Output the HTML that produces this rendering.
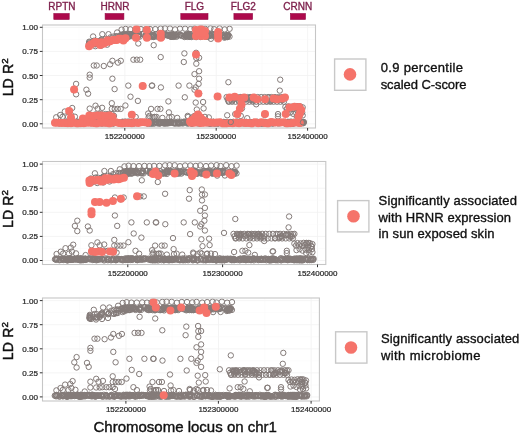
<!DOCTYPE html>
<html><head><meta charset="utf-8"><style>html,body{margin:0;padding:0;background:#fff;width:520px;height:433px;overflow:hidden}svg{display:block;filter:blur(0.3px)}.g{fill:none;stroke:#847b79;stroke-width:1px;r:2.7px}.s{fill:#f5736a;r:4px}</style></head>
<body><svg width="520" height="433" viewBox="0 0 520 433">
<text x="61.9" y="9.6" font-family="Liberation Sans, sans-serif" font-size="10" fill="#7d1f4b" stroke="#7d1f4b" stroke-width="0.35" text-anchor="middle">RPTN</text>
<rect x="53.8" y="13.5" width="15.4" height="6" fill="#ad0a4c" stroke="#940a46" stroke-width="0.6"/>
<text x="115" y="9.6" font-family="Liberation Sans, sans-serif" font-size="10" fill="#7d1f4b" stroke="#7d1f4b" stroke-width="0.35" text-anchor="middle">HRNR</text>
<rect x="105.1" y="13.5" width="18.8" height="6" fill="#ad0a4c" stroke="#940a46" stroke-width="0.6"/>
<text x="194.4" y="9.6" font-family="Liberation Sans, sans-serif" font-size="10" fill="#7d1f4b" stroke="#7d1f4b" stroke-width="0.35" text-anchor="middle">FLG</text>
<rect x="180.8" y="13.5" width="27.2" height="6" fill="#ad0a4c" stroke="#940a46" stroke-width="0.6"/>
<text x="243.3" y="9.6" font-family="Liberation Sans, sans-serif" font-size="10" fill="#7d1f4b" stroke="#7d1f4b" stroke-width="0.35" text-anchor="middle">FLG2</text>
<rect x="233.9" y="13.5" width="18.7" height="6" fill="#ad0a4c" stroke="#940a46" stroke-width="0.6"/>
<text x="297.7" y="9.6" font-family="Liberation Sans, sans-serif" font-size="10" fill="#7d1f4b" stroke="#7d1f4b" stroke-width="0.35" text-anchor="middle">CRNN</text>
<rect x="290.4" y="13.5" width="15.1" height="6" fill="#ad0a4c" stroke="#940a46" stroke-width="0.6"/>
<rect x="42.5" y="25" width="273.0" height="103.0" fill="#ffffff"/>
<line x1="79.1" y1="25" x2="79.1" y2="128" stroke="#f8f8f8" stroke-width="0.5"/>
<line x1="124.8" y1="25" x2="124.8" y2="128" stroke="#f1f1f1" stroke-width="0.8"/>
<line x1="170.5" y1="25" x2="170.5" y2="128" stroke="#f8f8f8" stroke-width="0.5"/>
<line x1="216.2" y1="25" x2="216.2" y2="128" stroke="#f1f1f1" stroke-width="0.8"/>
<line x1="261.9" y1="25" x2="261.9" y2="128" stroke="#f8f8f8" stroke-width="0.5"/>
<line x1="307.6" y1="25" x2="307.6" y2="128" stroke="#f1f1f1" stroke-width="0.8"/>
<line x1="42.5" y1="123.8" x2="315.5" y2="123.8" stroke="#f1f1f1" stroke-width="0.8"/>
<line x1="42.5" y1="111.7" x2="315.5" y2="111.7" stroke="#f8f8f8" stroke-width="0.5"/>
<line x1="42.5" y1="99.7" x2="315.5" y2="99.7" stroke="#f1f1f1" stroke-width="0.8"/>
<line x1="42.5" y1="87.6" x2="315.5" y2="87.6" stroke="#f8f8f8" stroke-width="0.5"/>
<line x1="42.5" y1="75.5" x2="315.5" y2="75.5" stroke="#f1f1f1" stroke-width="0.8"/>
<line x1="42.5" y1="63.5" x2="315.5" y2="63.5" stroke="#f8f8f8" stroke-width="0.5"/>
<line x1="42.5" y1="51.4" x2="315.5" y2="51.4" stroke="#f1f1f1" stroke-width="0.8"/>
<line x1="42.5" y1="39.4" x2="315.5" y2="39.4" stroke="#f8f8f8" stroke-width="0.5"/>
<line x1="42.5" y1="27.3" x2="315.5" y2="27.3" stroke="#f1f1f1" stroke-width="0.8"/>
<g id="pts0"></g>
<circle class="g" cx="110.7" cy="40.1" r="2.7"/>
<circle class="g" cx="116.7" cy="39.7" r="2.7"/>
<circle class="g" cx="114.8" cy="40.0" r="2.7"/>
<circle class="g" cx="89.9" cy="43.4" r="2.7"/>
<circle class="g" cx="121.9" cy="37.3" r="2.7"/>
<circle class="g" cx="120.4" cy="35.3" r="2.7"/>
<circle class="g" cx="105.3" cy="39.1" r="2.7"/>
<circle class="g" cx="107.9" cy="40.0" r="2.7"/>
<circle class="g" cx="89.3" cy="42.4" r="2.7"/>
<circle class="g" cx="98.7" cy="43.5" r="2.7"/>
<circle class="g" cx="115.7" cy="36.5" r="2.7"/>
<circle class="g" cx="116.8" cy="36.2" r="2.7"/>
<circle class="g" cx="110.5" cy="37.4" r="2.7"/>
<circle class="g" cx="88.9" cy="45.4" r="2.7"/>
<circle class="g" cx="96.2" cy="40.9" r="2.7"/>
<circle class="g" cx="123.3" cy="38.0" r="2.7"/>
<circle class="g" cx="99.0" cy="43.6" r="2.7"/>
<circle class="g" cx="107.8" cy="40.5" r="2.7"/>
<circle class="g" cx="96.0" cy="44.1" r="2.7"/>
<circle class="g" cx="113.1" cy="40.6" r="2.7"/>
<circle class="g" cx="120.2" cy="36.1" r="2.7"/>
<circle class="g" cx="101.5" cy="39.5" r="2.7"/>
<circle class="g" cx="94.0" cy="40.7" r="2.7"/>
<circle class="g" cx="99.4" cy="41.9" r="2.7"/>
<circle class="g" cx="89.0" cy="44.5" r="2.7"/>
<circle class="g" cx="100.7" cy="40.4" r="2.7"/>
<circle class="g" cx="117.5" cy="37.5" r="2.7"/>
<circle class="g" cx="99.9" cy="41.3" r="2.7"/>
<circle class="g" cx="113.6" cy="36.5" r="2.7"/>
<circle class="g" cx="123.0" cy="34.3" r="2.7"/>
<circle class="g" cx="115.1" cy="39.6" r="2.7"/>
<circle class="g" cx="89.5" cy="44.9" r="2.7"/>
<circle class="g" cx="101.7" cy="41.3" r="2.7"/>
<circle class="g" cx="89.2" cy="41.7" r="2.7"/>
<circle class="g" cx="95.2" cy="44.4" r="2.7"/>
<circle class="g" cx="95.7" cy="43.4" r="2.7"/>
<circle class="g" cx="121.4" cy="38.7" r="2.7"/>
<circle class="g" cx="100.9" cy="40.5" r="2.7"/>
<circle class="g" cx="107.2" cy="41.0" r="2.7"/>
<circle class="g" cx="92.6" cy="44.0" r="2.7"/>
<circle class="g" cx="207.8" cy="36.7" r="2.7"/>
<circle class="g" cx="125.9" cy="36.9" r="2.7"/>
<circle class="g" cx="131.8" cy="35.0" r="2.7"/>
<circle class="g" cx="187.7" cy="36.9" r="2.7"/>
<circle class="g" cx="158.5" cy="36.9" r="2.7"/>
<circle class="g" cx="180.6" cy="34.9" r="2.7"/>
<circle class="g" cx="156.0" cy="34.5" r="2.7"/>
<circle class="g" cx="130.4" cy="34.4" r="2.7"/>
<circle class="g" cx="196.1" cy="37.1" r="2.7"/>
<circle class="g" cx="139.3" cy="34.1" r="2.7"/>
<circle class="g" cx="228.1" cy="35.6" r="2.7"/>
<circle class="g" cx="165.6" cy="34.7" r="2.7"/>
<circle class="g" cx="185.9" cy="36.6" r="2.7"/>
<circle class="g" cx="171.0" cy="35.3" r="2.7"/>
<circle class="g" cx="127.9" cy="36.9" r="2.7"/>
<circle class="g" cx="125.5" cy="35.5" r="2.7"/>
<circle class="g" cx="212.2" cy="34.3" r="2.7"/>
<circle class="g" cx="200.7" cy="37.0" r="2.7"/>
<circle class="g" cx="189.8" cy="36.4" r="2.7"/>
<circle class="g" cx="133.4" cy="35.3" r="2.7"/>
<circle class="g" cx="138.0" cy="36.6" r="2.7"/>
<circle class="g" cx="153.7" cy="35.4" r="2.7"/>
<circle class="g" cx="229.5" cy="36.6" r="2.7"/>
<circle class="g" cx="227.0" cy="35.4" r="2.7"/>
<circle class="g" cx="174.5" cy="36.3" r="2.7"/>
<circle class="g" cx="173.5" cy="34.8" r="2.7"/>
<circle class="g" cx="165.4" cy="34.4" r="2.7"/>
<circle class="g" cx="162.5" cy="37.1" r="2.7"/>
<circle class="g" cx="225.3" cy="35.9" r="2.7"/>
<circle class="g" cx="175.7" cy="35.0" r="2.7"/>
<circle class="g" cx="131.5" cy="34.8" r="2.7"/>
<circle class="g" cx="206.1" cy="36.7" r="2.7"/>
<circle class="g" cx="160.8" cy="36.4" r="2.7"/>
<circle class="g" cx="205.4" cy="36.1" r="2.7"/>
<circle class="g" cx="193.4" cy="36.3" r="2.7"/>
<circle class="g" cx="161.1" cy="36.2" r="2.7"/>
<circle class="g" cx="152.2" cy="35.5" r="2.7"/>
<circle class="g" cx="204.8" cy="36.1" r="2.7"/>
<circle class="g" cx="153.6" cy="36.9" r="2.7"/>
<circle class="g" cx="191.9" cy="35.8" r="2.7"/>
<circle class="g" cx="123.2" cy="35.7" r="2.7"/>
<circle class="g" cx="148.9" cy="36.1" r="2.7"/>
<circle class="g" cx="171.8" cy="36.5" r="2.7"/>
<circle class="g" cx="191.6" cy="36.5" r="2.7"/>
<circle class="g" cx="159.4" cy="36.0" r="2.7"/>
<circle class="g" cx="201.4" cy="36.6" r="2.7"/>
<circle class="g" cx="159.6" cy="36.6" r="2.7"/>
<circle class="g" cx="215.6" cy="36.1" r="2.7"/>
<circle class="g" cx="227.0" cy="37.0" r="2.7"/>
<circle class="g" cx="177.7" cy="35.6" r="2.7"/>
<circle class="g" cx="139.8" cy="36.6" r="2.7"/>
<circle class="g" cx="222.8" cy="35.4" r="2.7"/>
<circle class="g" cx="196.4" cy="36.2" r="2.7"/>
<circle class="g" cx="200.6" cy="34.5" r="2.7"/>
<circle class="g" cx="205.9" cy="35.8" r="2.7"/>
<circle class="g" cx="193.6" cy="35.3" r="2.7"/>
<circle class="g" cx="189.1" cy="36.4" r="2.7"/>
<circle class="g" cx="190.5" cy="36.2" r="2.7"/>
<circle class="g" cx="124.9" cy="34.4" r="2.7"/>
<circle class="g" cx="169.4" cy="36.0" r="2.7"/>
<circle class="g" cx="145.5" cy="36.1" r="2.7"/>
<circle class="g" cx="189.8" cy="34.0" r="2.7"/>
<circle class="g" cx="172.7" cy="34.6" r="2.7"/>
<circle class="g" cx="127.8" cy="34.3" r="2.7"/>
<circle class="g" cx="156.1" cy="34.5" r="2.7"/>
<circle class="g" cx="142.8" cy="34.0" r="2.7"/>
<circle class="g" cx="172.0" cy="35.1" r="2.7"/>
<circle class="g" cx="187.8" cy="35.8" r="2.7"/>
<circle class="g" cx="147.5" cy="36.8" r="2.7"/>
<circle class="g" cx="122.0" cy="35.2" r="2.7"/>
<circle class="g" cx="151.9" cy="35.2" r="2.7"/>
<circle class="g" cx="134.3" cy="36.6" r="2.7"/>
<circle class="g" cx="162.2" cy="34.0" r="2.7"/>
<circle class="g" cx="188.0" cy="34.2" r="2.7"/>
<circle class="g" cx="180.6" cy="35.0" r="2.7"/>
<circle class="g" cx="184.5" cy="37.0" r="2.7"/>
<circle class="g" cx="210.0" cy="35.3" r="2.7"/>
<circle class="g" cx="209.5" cy="36.0" r="2.7"/>
<circle class="g" cx="161.7" cy="34.4" r="2.7"/>
<circle class="g" cx="186.1" cy="35.7" r="2.7"/>
<circle class="g" cx="225.0" cy="37.0" r="2.7"/>
<circle class="g" cx="187.5" cy="35.0" r="2.7"/>
<circle class="g" cx="218.1" cy="33.9" r="2.7"/>
<circle class="g" cx="133.6" cy="35.7" r="2.7"/>
<circle class="g" cx="188.2" cy="34.4" r="2.7"/>
<circle class="g" cx="189.7" cy="36.8" r="2.7"/>
<circle class="g" cx="162.4" cy="35.3" r="2.7"/>
<circle class="g" cx="146.3" cy="34.8" r="2.7"/>
<circle class="g" cx="226.6" cy="35.1" r="2.7"/>
<circle class="g" cx="225.4" cy="36.8" r="2.7"/>
<circle class="g" cx="186.1" cy="34.7" r="2.7"/>
<circle class="g" cx="227.5" cy="35.5" r="2.7"/>
<circle class="g" cx="166.7" cy="34.9" r="2.7"/>
<circle class="g" cx="227.9" cy="35.5" r="2.7"/>
<circle class="g" cx="152.8" cy="35.4" r="2.7"/>
<circle class="g" cx="135.1" cy="35.9" r="2.7"/>
<circle class="g" cx="169.7" cy="34.9" r="2.7"/>
<circle class="g" cx="206.1" cy="36.6" r="2.7"/>
<circle class="g" cx="123.4" cy="35.6" r="2.7"/>
<circle class="g" cx="151.4" cy="36.9" r="2.7"/>
<circle class="g" cx="206.1" cy="34.7" r="2.7"/>
<circle class="g" cx="150.8" cy="34.4" r="2.7"/>
<circle class="g" cx="228.4" cy="34.9" r="2.7"/>
<circle class="g" cx="187.4" cy="35.4" r="2.7"/>
<circle class="g" cx="191.4" cy="35.9" r="2.7"/>
<circle class="g" cx="202.0" cy="34.3" r="2.7"/>
<circle class="g" cx="203.8" cy="34.9" r="2.7"/>
<circle class="g" cx="179.4" cy="35.0" r="2.7"/>
<circle class="g" cx="153.9" cy="35.6" r="2.7"/>
<circle class="g" cx="171.9" cy="35.1" r="2.7"/>
<circle class="g" cx="202.1" cy="35.8" r="2.7"/>
<circle class="g" cx="125.9" cy="34.7" r="2.7"/>
<circle class="g" cx="171.0" cy="36.9" r="2.7"/>
<circle class="g" cx="217.5" cy="35.7" r="2.7"/>
<circle class="g" cx="123.5" cy="36.4" r="2.7"/>
<circle class="g" cx="168.0" cy="35.8" r="2.7"/>
<circle class="g" cx="198.2" cy="35.9" r="2.7"/>
<circle class="g" cx="173.8" cy="36.8" r="2.7"/>
<circle class="g" cx="163.4" cy="35.2" r="2.7"/>
<circle class="g" cx="213.6" cy="34.5" r="2.7"/>
<circle class="g" cx="153.8" cy="36.6" r="2.7"/>
<circle class="g" cx="129.0" cy="36.6" r="2.7"/>
<circle class="g" cx="196.7" cy="35.3" r="2.7"/>
<circle class="g" cx="152.8" cy="36.4" r="2.7"/>
<circle class="g" cx="220.0" cy="34.4" r="2.7"/>
<circle class="g" cx="173.4" cy="35.7" r="2.7"/>
<circle class="g" cx="175.5" cy="35.0" r="2.7"/>
<circle class="g" cx="138.5" cy="35.8" r="2.7"/>
<circle class="g" cx="209.3" cy="34.1" r="2.7"/>
<circle class="g" cx="146.7" cy="36.5" r="2.7"/>
<circle class="g" cx="207.2" cy="36.0" r="2.7"/>
<circle class="g" cx="124.7" cy="36.2" r="2.7"/>
<circle class="g" cx="227.3" cy="37.1" r="2.7"/>
<circle class="g" cx="197.4" cy="34.1" r="2.7"/>
<circle class="g" cx="212.6" cy="34.6" r="2.7"/>
<circle class="g" cx="191.4" cy="37.0" r="2.7"/>
<circle class="g" cx="198.6" cy="34.3" r="2.7"/>
<circle class="g" cx="153.4" cy="36.9" r="2.7"/>
<circle class="g" cx="138.1" cy="35.9" r="2.7"/>
<circle class="g" cx="166.5" cy="34.4" r="2.7"/>
<circle class="g" cx="188.9" cy="34.1" r="2.7"/>
<circle class="g" cx="133.6" cy="35.1" r="2.7"/>
<circle class="g" cx="129.7" cy="34.1" r="2.7"/>
<circle class="g" cx="183.9" cy="36.3" r="2.7"/>
<circle class="g" cx="216.5" cy="34.3" r="2.7"/>
<circle class="g" cx="168.4" cy="34.9" r="2.7"/>
<circle class="g" cx="186.5" cy="35.5" r="2.7"/>
<circle class="g" cx="223.0" cy="35.1" r="2.7"/>
<circle class="g" cx="127.9" cy="36.1" r="2.7"/>
<circle class="g" cx="138.2" cy="35.9" r="2.7"/>
<circle class="g" cx="176.4" cy="36.8" r="2.7"/>
<circle class="g" cx="181.7" cy="35.9" r="2.7"/>
<circle class="g" cx="150.3" cy="35.7" r="2.7"/>
<circle class="g" cx="149.3" cy="36.3" r="2.7"/>
<circle class="g" cx="177.6" cy="34.3" r="2.7"/>
<circle class="g" cx="147.2" cy="35.1" r="2.7"/>
<circle class="g" cx="201.2" cy="34.5" r="2.7"/>
<circle class="g" cx="198.7" cy="36.0" r="2.7"/>
<circle class="g" cx="131.1" cy="36.1" r="2.7"/>
<circle class="g" cx="131.8" cy="34.3" r="2.7"/>
<circle class="g" cx="185.9" cy="34.7" r="2.7"/>
<circle class="g" cx="216.3" cy="35.5" r="2.7"/>
<circle class="g" cx="156.7" cy="36.5" r="2.7"/>
<circle class="g" cx="125.1" cy="36.2" r="2.7"/>
<circle class="g" cx="127.7" cy="34.4" r="2.7"/>
<circle class="g" cx="224.4" cy="36.1" r="2.7"/>
<circle class="g" cx="146.0" cy="34.3" r="2.7"/>
<circle class="g" cx="226.6" cy="36.0" r="2.7"/>
<circle class="g" cx="210.3" cy="34.4" r="2.7"/>
<circle class="g" cx="189.2" cy="35.0" r="2.7"/>
<circle class="g" cx="147.2" cy="35.0" r="2.7"/>
<circle class="g" cx="188.0" cy="35.0" r="2.7"/>
<circle class="g" cx="163.5" cy="34.4" r="2.7"/>
<circle class="g" cx="211.4" cy="36.0" r="2.7"/>
<circle class="g" cx="208.5" cy="35.3" r="2.7"/>
<circle class="g" cx="213.6" cy="35.6" r="2.7"/>
<circle class="g" cx="185.7" cy="35.8" r="2.7"/>
<circle class="g" cx="201.6" cy="35.2" r="2.7"/>
<circle class="g" cx="132.4" cy="34.0" r="2.7"/>
<circle class="g" cx="143.7" cy="34.0" r="2.7"/>
<circle class="g" cx="217.7" cy="35.5" r="2.7"/>
<circle class="g" cx="203.8" cy="33.9" r="2.7"/>
<circle class="g" cx="172.5" cy="36.8" r="2.7"/>
<circle class="g" cx="188.6" cy="35.3" r="2.7"/>
<circle class="g" cx="172.1" cy="34.2" r="2.7"/>
<circle class="g" cx="138.6" cy="34.4" r="2.7"/>
<circle class="g" cx="162.3" cy="35.2" r="2.7"/>
<circle class="g" cx="216.7" cy="34.4" r="2.7"/>
<circle class="g" cx="149.3" cy="34.8" r="2.7"/>
<circle class="g" cx="139.3" cy="34.8" r="2.7"/>
<circle class="g" cx="93.1" cy="36.5" r="2.7"/>
<circle class="g" cx="102.3" cy="34.2" r="2.7"/>
<circle class="g" cx="108.5" cy="34.2" r="2.7"/>
<circle class="g" cx="117.1" cy="32.5" r="2.7"/>
<circle class="g" cx="121.6" cy="29.6" r="2.7"/>
<circle class="g" cx="125.6" cy="28.9" r="2.7"/>
<circle class="g" cx="130.3" cy="29.3" r="2.7"/>
<circle class="g" cx="135.6" cy="29.3" r="2.7"/>
<circle class="g" cx="140.9" cy="29.1" r="2.7"/>
<circle class="g" cx="145.6" cy="29.3" r="2.7"/>
<circle class="g" cx="150.1" cy="29.1" r="2.7"/>
<circle class="g" cx="155.3" cy="29.1" r="2.7"/>
<circle class="g" cx="160.7" cy="28.6" r="2.7"/>
<circle class="g" cx="165.0" cy="28.4" r="2.7"/>
<circle class="g" cx="170.0" cy="28.5" r="2.7"/>
<circle class="g" cx="175.1" cy="29.4" r="2.7"/>
<circle class="g" cx="180.0" cy="28.7" r="2.7"/>
<circle class="g" cx="185.1" cy="28.7" r="2.7"/>
<circle class="g" cx="190.4" cy="29.1" r="2.7"/>
<circle class="g" cx="194.6" cy="28.6" r="2.7"/>
<circle class="g" cx="200.2" cy="29.3" r="2.7"/>
<circle class="g" cx="205.1" cy="28.8" r="2.7"/>
<circle class="g" cx="210.4" cy="28.4" r="2.7"/>
<circle class="g" cx="214.2" cy="29.2" r="2.7"/>
<circle class="g" cx="219.6" cy="28.4" r="2.7"/>
<circle class="g" cx="224.7" cy="29.4" r="2.7"/>
<circle class="g" cx="229.6" cy="28.8" r="2.7"/>
<circle class="g" cx="88.9" cy="43.7" r="2.7"/>
<circle class="g" cx="90.3" cy="45.7" r="2.7"/>
<circle class="g" cx="95.3" cy="46.2" r="2.7"/>
<circle class="g" cx="101.2" cy="45.7" r="2.7"/>
<circle class="g" cx="107.1" cy="44.7" r="2.7"/>
<circle class="g" cx="138.3" cy="43.5" r="2.7"/>
<circle class="g" cx="153.7" cy="45.2" r="2.7"/>
<circle class="g" cx="210.9" cy="38.8" r="2.7"/>
<circle class="g" cx="218.3" cy="38.7" r="2.7"/>
<circle class="g" cx="224.5" cy="37.7" r="2.7"/>
<circle class="g" cx="93.8" cy="65.5" r="2.7"/>
<circle class="g" cx="96.7" cy="65.5" r="2.7"/>
<circle class="g" cx="89.7" cy="74.7" r="2.7"/>
<circle class="g" cx="89.7" cy="77.6" r="2.7"/>
<circle class="g" cx="76.1" cy="83.9" r="2.7"/>
<circle class="g" cx="73.8" cy="89.1" r="2.7"/>
<circle class="g" cx="76.1" cy="94.3" r="2.7"/>
<circle class="g" cx="86.4" cy="89.7" r="2.7"/>
<circle class="g" cx="88.1" cy="93.7" r="2.7"/>
<circle class="g" cx="103.8" cy="66.0" r="2.7"/>
<circle class="g" cx="110.1" cy="64.3" r="2.7"/>
<circle class="g" cx="112.4" cy="60.8" r="2.7"/>
<circle class="g" cx="118.0" cy="62.6" r="2.7"/>
<circle class="g" cx="120.8" cy="60.8" r="2.7"/>
<circle class="g" cx="133.4" cy="59.7" r="2.7"/>
<circle class="g" cx="136.8" cy="59.7" r="2.7"/>
<circle class="g" cx="140.2" cy="59.7" r="2.7"/>
<circle class="g" cx="112.4" cy="78.7" r="2.7"/>
<circle class="g" cx="114.6" cy="89.1" r="2.7"/>
<circle class="g" cx="128.3" cy="85.6" r="2.7"/>
<circle class="g" cx="143.1" cy="85.6" r="2.7"/>
<circle class="g" cx="152.2" cy="85.6" r="2.7"/>
<circle class="g" cx="151.8" cy="85.6" r="2.7"/>
<circle class="g" cx="130.5" cy="96.7" r="2.7"/>
<circle class="g" cx="137.9" cy="100.9" r="2.7"/>
<circle class="g" cx="160.7" cy="57.1" r="2.7"/>
<circle class="g" cx="183.8" cy="62.0" r="2.7"/>
<circle class="g" cx="184.4" cy="53.4" r="2.7"/>
<circle class="g" cx="196.1" cy="52.8" r="2.7"/>
<circle class="g" cx="196.3" cy="58.0" r="2.7"/>
<circle class="g" cx="199.1" cy="57.8" r="2.7"/>
<circle class="g" cx="196.3" cy="63.7" r="2.7"/>
<circle class="g" cx="199.1" cy="71.2" r="2.7"/>
<circle class="g" cx="194.5" cy="74.1" r="2.7"/>
<circle class="g" cx="199.1" cy="78.7" r="2.7"/>
<circle class="g" cx="198.6" cy="83.9" r="2.7"/>
<circle class="g" cx="195.7" cy="87.4" r="2.7"/>
<circle class="g" cx="194.5" cy="89.7" r="2.7"/>
<circle class="g" cx="199.1" cy="93.7" r="2.7"/>
<circle class="g" cx="160.9" cy="87.4" r="2.7"/>
<circle class="g" cx="178.6" cy="85.6" r="2.7"/>
<circle class="g" cx="189.4" cy="85.6" r="2.7"/>
<circle class="g" cx="184.8" cy="97.3" r="2.7"/>
<circle class="g" cx="228.4" cy="82.2" r="2.7"/>
<circle class="g" cx="217.5" cy="96.1" r="2.7"/>
<circle class="g" cx="280.2" cy="79.7" r="2.7"/>
<circle class="g" cx="279.8" cy="90.6" r="2.7"/>
<circle class="g" cx="168.4" cy="101.4" r="2.7"/>
<circle class="g" cx="195.7" cy="102.6" r="2.7"/>
<circle class="g" cx="203.1" cy="102.0" r="2.7"/>
<circle class="g" cx="203.6" cy="108.4" r="2.7"/>
<circle class="g" cx="196.8" cy="109.5" r="2.7"/>
<circle class="g" cx="72.2" cy="108.0" r="2.7"/>
<circle class="g" cx="69.9" cy="110.9" r="2.7"/>
<circle class="g" cx="64.8" cy="111.5" r="2.7"/>
<circle class="g" cx="60.2" cy="115.0" r="2.7"/>
<circle class="g" cx="56.2" cy="117.3" r="2.7"/>
<circle class="g" cx="62.5" cy="116.9" r="2.7"/>
<circle class="g" cx="68.1" cy="116.9" r="2.7"/>
<circle class="g" cx="74.9" cy="116.7" r="2.7"/>
<circle class="g" cx="71.0" cy="114.9" r="2.7"/>
<circle class="g" cx="89.7" cy="108.6" r="2.7"/>
<circle class="g" cx="95.5" cy="105.7" r="2.7"/>
<circle class="g" cx="97.7" cy="108.6" r="2.7"/>
<circle class="g" cx="89.7" cy="114.4" r="2.7"/>
<circle class="g" cx="95.5" cy="114.4" r="2.7"/>
<circle class="g" cx="98.9" cy="114.4" r="2.7"/>
<circle class="g" cx="84.1" cy="118.4" r="2.7"/>
<circle class="g" cx="111.8" cy="103.2" r="2.7"/>
<circle class="g" cx="125.4" cy="105.5" r="2.7"/>
<circle class="g" cx="102.1" cy="107.8" r="2.7"/>
<circle class="g" cx="111.8" cy="108.9" r="2.7"/>
<circle class="g" cx="114.7" cy="108.9" r="2.7"/>
<circle class="g" cx="117.7" cy="108.9" r="2.7"/>
<circle class="g" cx="120.7" cy="108.9" r="2.7"/>
<circle class="g" cx="105.4" cy="114.1" r="2.7"/>
<circle class="g" cx="108.3" cy="114.1" r="2.7"/>
<circle class="g" cx="111.8" cy="114.1" r="2.7"/>
<circle class="g" cx="101.5" cy="114.1" r="2.7"/>
<circle class="g" cx="114.0" cy="115.9" r="2.7"/>
<circle class="g" cx="132.2" cy="114.1" r="2.7"/>
<circle class="g" cx="135.7" cy="117.0" r="2.7"/>
<circle class="g" cx="151.1" cy="108.9" r="2.7"/>
<circle class="g" cx="157.5" cy="108.9" r="2.7"/>
<circle class="g" cx="160.4" cy="108.9" r="2.7"/>
<circle class="g" cx="148.2" cy="113.5" r="2.7"/>
<circle class="g" cx="154.4" cy="117.0" r="2.7"/>
<circle class="g" cx="149.3" cy="115.9" r="2.7"/>
<circle class="g" cx="168.9" cy="112.4" r="2.7"/>
<circle class="g" cx="171.8" cy="117.0" r="2.7"/>
<circle class="g" cx="154.7" cy="117.0" r="2.7"/>
<circle class="g" cx="187.7" cy="115.9" r="2.7"/>
<circle class="g" cx="194.5" cy="115.9" r="2.7"/>
<circle class="g" cx="201.3" cy="116.9" r="2.7"/>
<circle class="g" cx="148.6" cy="117.4" r="2.7"/>
<circle class="g" cx="152.6" cy="117.4" r="2.7"/>
<circle class="g" cx="156.5" cy="116.9" r="2.7"/>
<circle class="g" cx="162.4" cy="117.9" r="2.7"/>
<circle class="g" cx="169.3" cy="117.4" r="2.7"/>
<circle class="g" cx="177.2" cy="117.9" r="2.7"/>
<circle class="g" cx="188.1" cy="116.9" r="2.7"/>
<circle class="g" cx="192.1" cy="117.4" r="2.7"/>
<circle class="g" cx="196.0" cy="116.9" r="2.7"/>
<circle class="g" cx="200.9" cy="117.4" r="2.7"/>
<circle class="g" cx="204.9" cy="116.9" r="2.7"/>
<circle class="g" cx="208.8" cy="117.4" r="2.7"/>
<circle class="g" cx="242.0" cy="108.4" r="2.7"/>
<circle class="g" cx="227.2" cy="115.3" r="2.7"/>
<circle class="g" cx="235.2" cy="114.1" r="2.7"/>
<circle class="g" cx="238.1" cy="114.1" r="2.7"/>
<circle class="g" cx="240.8" cy="115.9" r="2.7"/>
<circle class="g" cx="247.2" cy="118.2" r="2.7"/>
<circle class="g" cx="256.2" cy="104.3" r="2.7"/>
<circle class="g" cx="264.8" cy="114.7" r="2.7"/>
<circle class="g" cx="264.3" cy="114.7" r="2.7"/>
<circle class="g" cx="278.0" cy="114.1" r="2.7"/>
<circle class="g" cx="278.0" cy="116.4" r="2.7"/>
<circle class="g" cx="226.6" cy="97.1" r="2.7"/>
<circle class="g" cx="230.1" cy="97.1" r="2.7"/>
<circle class="g" cx="233.5" cy="97.1" r="2.7"/>
<circle class="g" cx="237.0" cy="97.1" r="2.7"/>
<circle class="g" cx="240.4" cy="97.1" r="2.7"/>
<circle class="g" cx="243.9" cy="97.1" r="2.7"/>
<circle class="g" cx="247.4" cy="97.1" r="2.7"/>
<circle class="g" cx="250.8" cy="97.1" r="2.7"/>
<circle class="g" cx="254.3" cy="97.1" r="2.7"/>
<circle class="g" cx="257.7" cy="97.1" r="2.7"/>
<circle class="g" cx="261.2" cy="97.1" r="2.7"/>
<circle class="g" cx="264.6" cy="97.1" r="2.7"/>
<circle class="g" cx="268.1" cy="97.1" r="2.7"/>
<circle class="g" cx="271.6" cy="97.1" r="2.7"/>
<circle class="g" cx="275.0" cy="97.1" r="2.7"/>
<circle class="g" cx="278.5" cy="97.1" r="2.7"/>
<circle class="g" cx="281.9" cy="97.1" r="2.7"/>
<circle class="g" cx="285.4" cy="97.1" r="2.7"/>
<circle class="g" cx="228.6" cy="101.7" r="2.7"/>
<circle class="g" cx="232.1" cy="101.7" r="2.7"/>
<circle class="g" cx="235.5" cy="101.7" r="2.7"/>
<circle class="g" cx="239.0" cy="101.7" r="2.7"/>
<circle class="g" cx="242.4" cy="101.7" r="2.7"/>
<circle class="g" cx="245.9" cy="101.7" r="2.7"/>
<circle class="g" cx="249.3" cy="101.7" r="2.7"/>
<circle class="g" cx="252.8" cy="101.7" r="2.7"/>
<circle class="g" cx="256.2" cy="101.7" r="2.7"/>
<circle class="g" cx="259.7" cy="101.7" r="2.7"/>
<circle class="g" cx="263.2" cy="101.7" r="2.7"/>
<circle class="g" cx="266.6" cy="101.7" r="2.7"/>
<circle class="g" cx="270.1" cy="101.7" r="2.7"/>
<circle class="g" cx="273.5" cy="101.7" r="2.7"/>
<circle class="g" cx="277.0" cy="101.7" r="2.7"/>
<circle class="g" cx="280.4" cy="101.7" r="2.7"/>
<circle class="g" cx="283.9" cy="101.7" r="2.7"/>
<circle class="g" cx="232.4" cy="97.5" r="2.7"/>
<circle class="g" cx="281.7" cy="99.3" r="2.7"/>
<circle class="g" cx="283.9" cy="97.4" r="2.7"/>
<circle class="g" cx="241.5" cy="97.4" r="2.7"/>
<circle class="g" cx="250.9" cy="97.4" r="2.7"/>
<circle class="g" cx="242.3" cy="98.9" r="2.7"/>
<circle class="g" cx="245.4" cy="97.4" r="2.7"/>
<circle class="g" cx="228.9" cy="101.4" r="2.7"/>
<circle class="g" cx="237.6" cy="99.4" r="2.7"/>
<circle class="g" cx="251.3" cy="99.5" r="2.7"/>
<circle class="g" cx="231.8" cy="98.5" r="2.7"/>
<circle class="g" cx="233.2" cy="99.5" r="2.7"/>
<circle class="g" cx="283.0" cy="99.8" r="2.7"/>
<circle class="g" cx="279.1" cy="98.1" r="2.7"/>
<circle class="g" cx="227.7" cy="99.5" r="2.7"/>
<circle class="g" cx="256.4" cy="99.7" r="2.7"/>
<circle class="g" cx="249.7" cy="99.9" r="2.7"/>
<circle class="g" cx="271.0" cy="101.2" r="2.7"/>
<circle class="g" cx="245.5" cy="99.1" r="2.7"/>
<circle class="g" cx="277.2" cy="98.1" r="2.7"/>
<circle class="g" cx="233.7" cy="98.5" r="2.7"/>
<circle class="g" cx="232.0" cy="100.6" r="2.7"/>
<circle class="g" cx="276.8" cy="98.5" r="2.7"/>
<circle class="g" cx="234.6" cy="97.5" r="2.7"/>
<circle class="g" cx="241.6" cy="97.5" r="2.7"/>
<circle class="g" cx="252.9" cy="99.7" r="2.7"/>
<circle class="g" cx="241.6" cy="97.4" r="2.7"/>
<circle class="g" cx="269.5" cy="97.4" r="2.7"/>
<circle class="g" cx="238.9" cy="98.4" r="2.7"/>
<circle class="g" cx="249.5" cy="97.6" r="2.7"/>
<circle class="g" cx="252.4" cy="98.5" r="2.7"/>
<circle class="g" cx="272.7" cy="99.6" r="2.7"/>
<circle class="g" cx="281.5" cy="100.0" r="2.7"/>
<circle class="g" cx="273.1" cy="99.7" r="2.7"/>
<circle class="g" cx="253.7" cy="100.7" r="2.7"/>
<circle class="g" cx="266.8" cy="101.4" r="2.7"/>
<circle class="g" cx="271.2" cy="100.2" r="2.7"/>
<circle class="g" cx="243.0" cy="100.7" r="2.7"/>
<circle class="g" cx="250.0" cy="97.7" r="2.7"/>
<circle class="g" cx="230.7" cy="97.9" r="2.7"/>
<circle class="g" cx="285.4" cy="106.9" r="2.7"/>
<circle class="g" cx="288.3" cy="106.4" r="2.7"/>
<circle class="g" cx="291.3" cy="106.7" r="2.7"/>
<circle class="g" cx="294.3" cy="106.2" r="2.7"/>
<circle class="g" cx="297.2" cy="106.7" r="2.7"/>
<circle class="g" cx="300.2" cy="106.4" r="2.7"/>
<circle class="g" cx="302.7" cy="107.4" r="2.7"/>
<circle class="g" cx="286.9" cy="108.9" r="2.7"/>
<circle class="g" cx="289.8" cy="108.7" r="2.7"/>
<circle class="g" cx="292.8" cy="109.1" r="2.7"/>
<circle class="g" cx="295.7" cy="108.4" r="2.7"/>
<circle class="g" cx="298.7" cy="108.9" r="2.7"/>
<circle class="g" cx="301.7" cy="109.4" r="2.7"/>
<circle class="g" cx="287.4" cy="113.4" r="2.7"/>
<circle class="g" cx="290.3" cy="112.4" r="2.7"/>
<circle class="g" cx="293.3" cy="113.9" r="2.7"/>
<circle class="g" cx="296.2" cy="112.9" r="2.7"/>
<circle class="g" cx="299.2" cy="113.4" r="2.7"/>
<circle class="g" cx="302.2" cy="112.4" r="2.7"/>
<circle class="g" cx="299.7" cy="115.9" r="2.7"/>
<circle class="g" cx="302.7" cy="115.4" r="2.7"/>
<circle class="g" cx="296.7" cy="116.4" r="2.7"/>
<circle class="g" cx="298.6" cy="110.6" r="2.7"/>
<circle class="g" cx="298.7" cy="106.3" r="2.7"/>
<circle class="g" cx="302.0" cy="109.8" r="2.7"/>
<circle class="g" cx="296.9" cy="106.2" r="2.7"/>
<circle class="g" cx="86.4" cy="122.4" r="2.7"/>
<circle class="g" cx="269.5" cy="123.6" r="2.7"/>
<circle class="g" cx="207.3" cy="122.2" r="2.7"/>
<circle class="g" cx="161.4" cy="122.4" r="2.7"/>
<circle class="g" cx="136.7" cy="121.7" r="2.7"/>
<circle class="g" cx="200.4" cy="123.4" r="2.7"/>
<circle class="g" cx="236.1" cy="121.9" r="2.7"/>
<circle class="g" cx="186.8" cy="122.0" r="2.7"/>
<circle class="g" cx="231.8" cy="122.6" r="2.7"/>
<circle class="g" cx="289.2" cy="123.3" r="2.7"/>
<circle class="g" cx="83.4" cy="122.3" r="2.7"/>
<circle class="g" cx="283.3" cy="122.6" r="2.7"/>
<circle class="g" cx="162.7" cy="122.6" r="2.7"/>
<circle class="g" cx="246.3" cy="123.6" r="2.7"/>
<circle class="g" cx="187.4" cy="123.6" r="2.7"/>
<circle class="g" cx="203.3" cy="121.9" r="2.7"/>
<circle class="g" cx="258.0" cy="122.5" r="2.7"/>
<circle class="g" cx="66.9" cy="123.7" r="2.7"/>
<circle class="g" cx="62.0" cy="122.9" r="2.7"/>
<circle class="g" cx="174.7" cy="123.5" r="2.7"/>
<circle class="g" cx="152.3" cy="122.1" r="2.7"/>
<circle class="g" cx="123.3" cy="122.1" r="2.7"/>
<circle class="g" cx="194.9" cy="122.4" r="2.7"/>
<circle class="g" cx="242.2" cy="122.2" r="2.7"/>
<circle class="g" cx="142.0" cy="122.2" r="2.7"/>
<circle class="g" cx="300.2" cy="123.4" r="2.7"/>
<circle class="g" cx="267.0" cy="122.9" r="2.7"/>
<circle class="g" cx="154.3" cy="122.0" r="2.7"/>
<circle class="g" cx="262.4" cy="122.7" r="2.7"/>
<circle class="g" cx="63.3" cy="122.0" r="2.7"/>
<circle class="g" cx="78.6" cy="123.1" r="2.7"/>
<circle class="g" cx="279.6" cy="122.1" r="2.7"/>
<circle class="g" cx="253.7" cy="122.3" r="2.7"/>
<circle class="g" cx="225.1" cy="123.4" r="2.7"/>
<circle class="g" cx="210.1" cy="123.3" r="2.7"/>
<circle class="g" cx="148.2" cy="121.7" r="2.7"/>
<circle class="g" cx="182.2" cy="122.9" r="2.7"/>
<circle class="g" cx="100.1" cy="122.5" r="2.7"/>
<circle class="g" cx="133.4" cy="121.7" r="2.7"/>
<circle class="g" cx="132.1" cy="122.5" r="2.7"/>
<circle class="g" cx="173.2" cy="123.1" r="2.7"/>
<circle class="g" cx="153.9" cy="123.7" r="2.7"/>
<circle class="g" cx="258.4" cy="123.5" r="2.7"/>
<circle class="g" cx="227.6" cy="123.0" r="2.7"/>
<circle class="g" cx="188.4" cy="123.3" r="2.7"/>
<circle class="g" cx="144.8" cy="122.9" r="2.7"/>
<circle class="g" cx="224.2" cy="122.7" r="2.7"/>
<circle class="g" cx="125.1" cy="121.9" r="2.7"/>
<circle class="g" cx="75.7" cy="122.4" r="2.7"/>
<circle class="g" cx="199.4" cy="123.2" r="2.7"/>
<circle class="g" cx="233.0" cy="122.3" r="2.7"/>
<circle class="g" cx="286.9" cy="122.2" r="2.7"/>
<circle class="g" cx="233.4" cy="121.8" r="2.7"/>
<circle class="g" cx="242.8" cy="123.0" r="2.7"/>
<circle class="g" cx="293.8" cy="123.5" r="2.7"/>
<circle class="g" cx="226.3" cy="123.4" r="2.7"/>
<circle class="g" cx="239.1" cy="122.9" r="2.7"/>
<circle class="g" cx="106.2" cy="122.7" r="2.7"/>
<circle class="g" cx="278.6" cy="122.2" r="2.7"/>
<circle class="g" cx="298.3" cy="122.8" r="2.7"/>
<circle class="g" cx="152.5" cy="121.7" r="2.7"/>
<circle class="g" cx="151.7" cy="122.1" r="2.7"/>
<circle class="g" cx="217.6" cy="123.5" r="2.7"/>
<circle class="g" cx="282.1" cy="122.9" r="2.7"/>
<circle class="g" cx="150.8" cy="121.9" r="2.7"/>
<circle class="g" cx="226.6" cy="122.8" r="2.7"/>
<circle class="g" cx="233.2" cy="122.4" r="2.7"/>
<circle class="g" cx="276.2" cy="122.1" r="2.7"/>
<circle class="g" cx="130.4" cy="122.2" r="2.7"/>
<circle class="g" cx="209.9" cy="123.5" r="2.7"/>
<circle class="g" cx="95.8" cy="123.0" r="2.7"/>
<circle class="g" cx="246.1" cy="122.1" r="2.7"/>
<circle class="g" cx="69.5" cy="122.8" r="2.7"/>
<circle class="g" cx="262.1" cy="123.5" r="2.7"/>
<circle class="g" cx="236.4" cy="122.5" r="2.7"/>
<circle class="g" cx="160.5" cy="122.8" r="2.7"/>
<circle class="g" cx="280.7" cy="122.3" r="2.7"/>
<circle class="g" cx="124.2" cy="122.9" r="2.7"/>
<circle class="g" cx="296.3" cy="122.1" r="2.7"/>
<circle class="g" cx="61.4" cy="121.9" r="2.7"/>
<circle class="g" cx="194.9" cy="122.9" r="2.7"/>
<circle class="g" cx="99.9" cy="122.1" r="2.7"/>
<circle class="g" cx="202.9" cy="123.0" r="2.7"/>
<circle class="g" cx="226.9" cy="123.2" r="2.7"/>
<circle class="g" cx="69.2" cy="122.7" r="2.7"/>
<circle class="g" cx="263.2" cy="123.6" r="2.7"/>
<circle class="g" cx="133.7" cy="123.4" r="2.7"/>
<circle class="g" cx="215.6" cy="123.6" r="2.7"/>
<circle class="g" cx="111.3" cy="123.1" r="2.7"/>
<circle class="g" cx="264.7" cy="122.7" r="2.7"/>
<circle class="g" cx="79.1" cy="122.1" r="2.7"/>
<circle class="g" cx="93.1" cy="121.9" r="2.7"/>
<circle class="g" cx="91.9" cy="122.9" r="2.7"/>
<circle class="g" cx="80.1" cy="123.2" r="2.7"/>
<circle class="g" cx="238.5" cy="123.3" r="2.7"/>
<circle class="g" cx="255.4" cy="123.1" r="2.7"/>
<circle class="g" cx="285.6" cy="123.6" r="2.7"/>
<circle class="g" cx="210.6" cy="123.6" r="2.7"/>
<circle class="g" cx="79.7" cy="121.9" r="2.7"/>
<circle class="g" cx="70.0" cy="122.1" r="2.7"/>
<circle class="g" cx="147.7" cy="122.6" r="2.7"/>
<circle class="g" cx="224.5" cy="123.2" r="2.7"/>
<circle class="g" cx="74.8" cy="122.5" r="2.7"/>
<circle class="g" cx="190.1" cy="122.4" r="2.7"/>
<circle class="g" cx="83.3" cy="122.9" r="2.7"/>
<circle class="g" cx="147.7" cy="123.1" r="2.7"/>
<circle class="g" cx="178.1" cy="123.6" r="2.7"/>
<circle class="g" cx="290.8" cy="121.8" r="2.7"/>
<circle class="g" cx="244.4" cy="123.1" r="2.7"/>
<circle class="g" cx="128.0" cy="121.9" r="2.7"/>
<circle class="g" cx="174.0" cy="122.4" r="2.7"/>
<circle class="g" cx="238.7" cy="123.5" r="2.7"/>
<circle class="g" cx="149.6" cy="122.3" r="2.7"/>
<circle class="g" cx="178.9" cy="123.1" r="2.7"/>
<circle class="g" cx="251.7" cy="122.8" r="2.7"/>
<circle class="g" cx="128.0" cy="122.4" r="2.7"/>
<circle class="g" cx="266.5" cy="122.7" r="2.7"/>
<circle class="g" cx="66.4" cy="122.5" r="2.7"/>
<circle class="g" cx="113.5" cy="123.0" r="2.7"/>
<circle class="g" cx="72.2" cy="122.2" r="2.7"/>
<circle class="g" cx="77.9" cy="122.7" r="2.7"/>
<circle class="g" cx="300.8" cy="122.8" r="2.7"/>
<circle class="g" cx="150.7" cy="123.6" r="2.7"/>
<circle class="g" cx="76.8" cy="122.4" r="2.7"/>
<circle class="g" cx="257.2" cy="121.7" r="2.7"/>
<circle class="g" cx="245.9" cy="122.4" r="2.7"/>
<circle class="g" cx="57.9" cy="122.2" r="2.7"/>
<circle class="g" cx="168.7" cy="122.5" r="2.7"/>
<circle class="g" cx="183.4" cy="121.8" r="2.7"/>
<circle class="g" cx="108.6" cy="123.6" r="2.7"/>
<circle class="g" cx="164.8" cy="122.6" r="2.7"/>
<circle class="g" cx="75.2" cy="122.3" r="2.7"/>
<circle class="g" cx="293.3" cy="123.1" r="2.7"/>
<circle class="g" cx="181.2" cy="121.8" r="2.7"/>
<circle class="g" cx="152.3" cy="123.3" r="2.7"/>
<circle class="g" cx="162.8" cy="122.9" r="2.7"/>
<circle class="g" cx="280.1" cy="123.0" r="2.7"/>
<circle class="g" cx="213.3" cy="121.8" r="2.7"/>
<circle class="g" cx="59.8" cy="123.2" r="2.7"/>
<circle class="g" cx="157.5" cy="123.4" r="2.7"/>
<circle class="g" cx="260.9" cy="123.5" r="2.7"/>
<circle class="g" cx="148.7" cy="123.7" r="2.7"/>
<circle class="g" cx="243.5" cy="123.5" r="2.7"/>
<circle class="g" cx="91.0" cy="123.3" r="2.7"/>
<circle class="g" cx="159.7" cy="123.6" r="2.7"/>
<circle class="g" cx="303.2" cy="122.1" r="2.7"/>
<circle class="g" cx="159.5" cy="122.2" r="2.7"/>
<circle class="g" cx="171.6" cy="122.3" r="2.7"/>
<circle class="g" cx="221.0" cy="121.9" r="2.7"/>
<circle class="g" cx="96.2" cy="122.6" r="2.7"/>
<circle class="g" cx="72.3" cy="122.5" r="2.7"/>
<circle class="g" cx="278.9" cy="123.5" r="2.7"/>
<circle class="g" cx="103.1" cy="121.7" r="2.7"/>
<circle class="g" cx="261.6" cy="123.6" r="2.7"/>
<circle class="g" cx="204.0" cy="122.0" r="2.7"/>
<circle class="g" cx="113.1" cy="123.5" r="2.7"/>
<circle class="g" cx="289.0" cy="121.8" r="2.7"/>
<circle class="g" cx="100.2" cy="122.6" r="2.7"/>
<circle class="g" cx="120.7" cy="123.2" r="2.7"/>
<circle class="g" cx="147.3" cy="123.2" r="2.7"/>
<circle class="g" cx="91.9" cy="122.7" r="2.7"/>
<circle class="g" cx="298.4" cy="123.1" r="2.7"/>
<circle class="g" cx="76.4" cy="121.9" r="2.7"/>
<circle class="g" cx="215.2" cy="122.4" r="2.7"/>
<circle class="g" cx="146.3" cy="122.7" r="2.7"/>
<circle class="g" cx="199.7" cy="123.6" r="2.7"/>
<circle class="g" cx="114.2" cy="122.8" r="2.7"/>
<circle class="g" cx="119.8" cy="122.8" r="2.7"/>
<circle class="g" cx="237.3" cy="122.0" r="2.7"/>
<circle class="g" cx="174.5" cy="123.1" r="2.7"/>
<circle class="g" cx="55.8" cy="123.2" r="2.7"/>
<circle class="g" cx="158.9" cy="122.7" r="2.7"/>
<circle class="g" cx="206.9" cy="123.3" r="2.7"/>
<circle class="g" cx="67.9" cy="122.7" r="2.7"/>
<circle class="g" cx="63.4" cy="122.5" r="2.7"/>
<circle class="g" cx="140.5" cy="121.7" r="2.7"/>
<circle class="g" cx="128.5" cy="122.6" r="2.7"/>
<circle class="g" cx="218.1" cy="123.5" r="2.7"/>
<circle class="g" cx="146.7" cy="122.8" r="2.7"/>
<circle class="g" cx="232.7" cy="123.6" r="2.7"/>
<circle class="g" cx="292.0" cy="123.7" r="2.7"/>
<circle class="g" cx="129.5" cy="122.0" r="2.7"/>
<circle class="g" cx="287.6" cy="121.9" r="2.7"/>
<circle class="g" cx="166.4" cy="123.2" r="2.7"/>
<circle class="g" cx="186.4" cy="122.5" r="2.7"/>
<circle class="g" cx="285.7" cy="122.3" r="2.7"/>
<circle class="g" cx="192.2" cy="123.4" r="2.7"/>
<circle class="g" cx="88.4" cy="122.4" r="2.7"/>
<circle class="g" cx="177.8" cy="122.8" r="2.7"/>
<circle class="g" cx="105.8" cy="122.6" r="2.7"/>
<circle class="g" cx="68.8" cy="121.9" r="2.7"/>
<circle class="g" cx="139.6" cy="122.0" r="2.7"/>
<circle class="g" cx="296.5" cy="122.2" r="2.7"/>
<circle class="g" cx="123.0" cy="123.3" r="2.7"/>
<circle class="g" cx="239.7" cy="122.2" r="2.7"/>
<circle class="g" cx="261.8" cy="122.9" r="2.7"/>
<circle class="g" cx="151.3" cy="123.0" r="2.7"/>
<circle class="g" cx="115.4" cy="122.2" r="2.7"/>
<circle class="g" cx="273.7" cy="122.6" r="2.7"/>
<circle class="g" cx="278.9" cy="122.1" r="2.7"/>
<circle class="g" cx="88.2" cy="121.8" r="2.7"/>
<circle class="g" cx="239.4" cy="122.8" r="2.7"/>
<circle class="g" cx="56.2" cy="121.8" r="2.7"/>
<circle class="g" cx="260.5" cy="122.7" r="2.7"/>
<circle class="g" cx="272.4" cy="121.8" r="2.7"/>
<circle class="g" cx="201.5" cy="121.9" r="2.7"/>
<circle class="g" cx="234.7" cy="122.9" r="2.7"/>
<circle class="g" cx="207.3" cy="122.1" r="2.7"/>
<circle class="g" cx="291.8" cy="121.9" r="2.7"/>
<circle class="g" cx="69.9" cy="123.1" r="2.7"/>
<circle class="g" cx="77.1" cy="121.8" r="2.7"/>
<circle class="g" cx="169.3" cy="123.0" r="2.7"/>
<circle class="g" cx="277.6" cy="123.1" r="2.7"/>
<circle class="g" cx="71.2" cy="123.0" r="2.7"/>
<circle class="g" cx="265.4" cy="121.9" r="2.7"/>
<circle class="g" cx="243.1" cy="122.2" r="2.7"/>
<circle class="g" cx="128.7" cy="121.7" r="2.7"/>
<circle class="g" cx="244.0" cy="122.7" r="2.7"/>
<circle class="g" cx="280.0" cy="122.6" r="2.7"/>
<circle class="g" cx="92.8" cy="122.1" r="2.7"/>
<circle class="g" cx="119.9" cy="123.6" r="2.7"/>
<circle class="g" cx="105.3" cy="121.9" r="2.7"/>
<circle class="g" cx="142.3" cy="121.9" r="2.7"/>
<circle class="g" cx="160.5" cy="122.9" r="2.7"/>
<circle class="g" cx="217.0" cy="122.0" r="2.7"/>
<circle class="g" cx="88.6" cy="122.7" r="2.7"/>
<circle class="g" cx="226.2" cy="122.6" r="2.7"/>
<circle class="g" cx="197.6" cy="123.5" r="2.7"/>
<circle class="g" cx="90.2" cy="122.2" r="2.7"/>
<circle class="g" cx="177.7" cy="122.8" r="2.7"/>
<circle class="g" cx="279.6" cy="122.8" r="2.7"/>
<circle class="g" cx="219.9" cy="122.5" r="2.7"/>
<circle class="g" cx="250.5" cy="123.4" r="2.7"/>
<circle class="g" cx="127.4" cy="121.9" r="2.7"/>
<circle class="g" cx="118.8" cy="122.4" r="2.7"/>
<circle class="g" cx="277.0" cy="122.2" r="2.7"/>
<circle class="g" cx="211.7" cy="123.0" r="2.7"/>
<circle class="g" cx="293.7" cy="121.9" r="2.7"/>
<circle class="g" cx="246.9" cy="122.4" r="2.7"/>
<circle class="g" cx="79.6" cy="123.0" r="2.7"/>
<circle class="g" cx="265.6" cy="122.9" r="2.7"/>
<circle class="g" cx="66.3" cy="123.6" r="2.7"/>
<circle class="g" cx="150.1" cy="123.0" r="2.7"/>
<circle class="g" cx="235.4" cy="122.2" r="2.7"/>
<circle class="g" cx="156.2" cy="122.4" r="2.7"/>
<circle class="g" cx="77.9" cy="121.8" r="2.7"/>
<circle class="g" cx="233.6" cy="122.5" r="2.7"/>
<circle class="g" cx="271.9" cy="121.8" r="2.7"/>
<circle class="g" cx="129.4" cy="122.1" r="2.7"/>
<circle class="g" cx="290.4" cy="123.3" r="2.7"/>
<circle class="g" cx="278.6" cy="122.7" r="2.7"/>
<circle class="g" cx="79.9" cy="122.5" r="2.7"/>
<circle class="g" cx="110.5" cy="121.7" r="2.7"/>
<circle class="g" cx="195.5" cy="122.3" r="2.7"/>
<circle class="g" cx="80.8" cy="122.7" r="2.7"/>
<circle class="g" cx="287.9" cy="123.6" r="2.7"/>
<circle class="g" cx="170.7" cy="121.9" r="2.7"/>
<circle class="g" cx="246.6" cy="121.9" r="2.7"/>
<circle class="g" cx="188.6" cy="121.9" r="2.7"/>
<circle class="g" cx="301.4" cy="122.8" r="2.7"/>
<circle class="g" cx="163.5" cy="122.2" r="2.7"/>
<circle class="g" cx="192.0" cy="123.6" r="2.7"/>
<circle class="g" cx="161.1" cy="122.1" r="2.7"/>
<circle class="g" cx="182.9" cy="123.5" r="2.7"/>
<circle class="g" cx="149.6" cy="123.0" r="2.7"/>
<circle class="g" cx="284.3" cy="122.3" r="2.7"/>
<circle class="g" cx="257.2" cy="122.8" r="2.7"/>
<circle class="g" cx="88.8" cy="121.8" r="2.7"/>
<circle class="g" cx="289.3" cy="122.6" r="2.7"/>
<circle class="g" cx="165.0" cy="123.5" r="2.7"/>
<circle class="g" cx="197.8" cy="122.7" r="2.7"/>
<circle class="g" cx="125.1" cy="123.2" r="2.7"/>
<circle class="g" cx="118.1" cy="122.6" r="2.7"/>
<circle class="g" cx="244.1" cy="122.9" r="2.7"/>
<circle class="g" cx="87.5" cy="122.1" r="2.7"/>
<circle class="g" cx="228.1" cy="123.2" r="2.7"/>
<circle class="g" cx="79.5" cy="123.7" r="2.7"/>
<circle class="g" cx="87.3" cy="122.0" r="2.7"/>
<circle class="g" cx="76.3" cy="122.6" r="2.7"/>
<circle class="g" cx="209.2" cy="123.4" r="2.7"/>
<circle class="g" cx="94.7" cy="123.1" r="2.7"/>
<circle class="g" cx="80.2" cy="122.9" r="2.7"/>
<circle class="g" cx="117.0" cy="122.4" r="2.7"/>
<circle class="g" cx="67.0" cy="123.1" r="2.7"/>
<circle class="g" cx="84.5" cy="123.2" r="2.7"/>
<circle class="g" cx="138.2" cy="122.9" r="2.7"/>
<circle class="g" cx="214.1" cy="122.7" r="2.7"/>
<circle class="g" cx="273.0" cy="123.5" r="2.7"/>
<circle class="g" cx="124.5" cy="122.4" r="2.7"/>
<circle class="g" cx="273.8" cy="122.0" r="2.7"/>
<circle class="g" cx="159.2" cy="122.5" r="2.7"/>
<circle class="g" cx="298.7" cy="122.0" r="2.7"/>
<circle class="g" cx="218.1" cy="123.2" r="2.7"/>
<circle class="g" cx="236.5" cy="121.7" r="2.7"/>
<circle class="g" cx="290.5" cy="122.3" r="2.7"/>
<circle class="g" cx="267.8" cy="123.0" r="2.7"/>
<circle class="g" cx="159.4" cy="123.4" r="2.7"/>
<circle class="g" cx="223.3" cy="122.4" r="2.7"/>
<circle class="g" cx="237.4" cy="122.7" r="2.7"/>
<circle class="g" cx="232.3" cy="122.9" r="2.7"/>
<circle class="g" cx="253.5" cy="122.0" r="2.7"/>
<circle class="g" cx="177.8" cy="121.7" r="2.7"/>
<circle class="g" cx="252.2" cy="123.2" r="2.7"/>
<circle class="g" cx="263.8" cy="121.8" r="2.7"/>
<circle class="g" cx="188.1" cy="122.7" r="2.7"/>
<circle class="g" cx="83.8" cy="122.1" r="2.7"/>
<circle class="g" cx="298.2" cy="123.4" r="2.7"/>
<circle class="g" cx="113.5" cy="123.4" r="2.7"/>
<circle class="g" cx="217.1" cy="122.5" r="2.7"/>
<circle class="g" cx="215.5" cy="122.2" r="2.7"/>
<circle class="g" cx="122.5" cy="121.7" r="2.7"/>
<circle class="g" cx="218.5" cy="122.9" r="2.7"/>
<circle class="g" cx="240.3" cy="122.7" r="2.7"/>
<circle class="g" cx="162.9" cy="122.3" r="2.7"/>
<circle class="g" cx="238.2" cy="122.4" r="2.7"/>
<circle class="g" cx="203.5" cy="123.2" r="2.7"/>
<circle class="g" cx="165.3" cy="123.1" r="2.7"/>
<circle class="g" cx="69.2" cy="122.2" r="2.7"/>
<circle class="g" cx="264.7" cy="122.0" r="2.7"/>
<circle class="g" cx="68.0" cy="121.7" r="2.7"/>
<circle class="g" cx="246.0" cy="121.9" r="2.7"/>
<circle class="g" cx="168.7" cy="122.6" r="2.7"/>
<circle class="g" cx="255.2" cy="122.7" r="2.7"/>
<circle class="g" cx="184.7" cy="121.7" r="2.7"/>
<circle class="g" cx="253.3" cy="123.2" r="2.7"/>
<circle class="g" cx="210.2" cy="123.4" r="2.7"/>
<circle class="g" cx="207.8" cy="123.1" r="2.7"/>
<circle class="g" cx="267.3" cy="122.9" r="2.7"/>
<circle class="g" cx="58.9" cy="123.5" r="2.7"/>
<circle class="g" cx="302.0" cy="122.1" r="2.7"/>
<circle class="g" cx="70.4" cy="122.4" r="2.7"/>
<circle class="g" cx="78.9" cy="122.4" r="2.7"/>
<circle class="g" cx="76.2" cy="122.1" r="2.7"/>
<circle class="g" cx="54.6" cy="122.6" r="2.7"/>
<circle class="g" cx="129.0" cy="123.2" r="2.7"/>
<circle class="g" cx="151.3" cy="122.0" r="2.7"/>
<circle class="g" cx="292.9" cy="123.5" r="2.7"/>
<circle class="g" cx="226.7" cy="122.1" r="2.7"/>
<circle class="g" cx="154.8" cy="122.6" r="2.7"/>
<circle class="g" cx="156.3" cy="121.7" r="2.7"/>
<circle class="g" cx="168.1" cy="123.2" r="2.7"/>
<circle class="g" cx="227.7" cy="123.4" r="2.7"/>
<circle class="g" cx="225.1" cy="123.2" r="2.7"/>
<circle class="g" cx="272.2" cy="123.5" r="2.7"/>
<circle class="g" cx="252.7" cy="122.5" r="2.7"/>
<circle class="g" cx="219.3" cy="123.0" r="2.7"/>
<circle class="g" cx="275.2" cy="123.1" r="2.7"/>
<circle class="g" cx="165.0" cy="122.1" r="2.7"/>
<circle class="g" cx="135.9" cy="122.2" r="2.7"/>
<circle class="g" cx="224.8" cy="123.2" r="2.7"/>
<circle class="g" cx="102.0" cy="122.8" r="2.7"/>
<circle class="g" cx="264.6" cy="122.4" r="2.7"/>
<circle class="g" cx="77.6" cy="122.9" r="2.7"/>
<circle class="g" cx="144.7" cy="122.0" r="2.7"/>
<circle class="g" cx="126.0" cy="121.7" r="2.7"/>
<circle class="g" cx="91.1" cy="122.5" r="2.7"/>
<circle class="g" cx="80.1" cy="121.7" r="2.7"/>
<circle class="g" cx="191.7" cy="123.6" r="2.7"/>
<circle class="g" cx="263.0" cy="122.3" r="2.7"/>
<circle class="g" cx="285.7" cy="121.9" r="2.7"/>
<circle class="g" cx="91.5" cy="121.7" r="2.7"/>
<circle class="g" cx="68.5" cy="122.9" r="2.7"/>
<circle class="g" cx="243.7" cy="122.7" r="2.7"/>
<circle class="g" cx="255.3" cy="122.6" r="2.7"/>
<circle class="g" cx="284.3" cy="122.9" r="2.7"/>
<circle class="g" cx="188.5" cy="122.0" r="2.7"/>
<circle class="g" cx="160.8" cy="122.6" r="2.7"/>
<circle class="g" cx="260.2" cy="122.2" r="2.7"/>
<circle class="g" cx="127.7" cy="123.3" r="2.7"/>
<circle class="g" cx="71.6" cy="122.8" r="2.7"/>
<circle class="g" cx="108.9" cy="123.0" r="2.7"/>
<circle class="g" cx="202.9" cy="121.9" r="2.7"/>
<circle class="g" cx="237.0" cy="122.5" r="2.7"/>
<circle class="g" cx="134.2" cy="123.4" r="2.7"/>
<circle class="g" cx="249.1" cy="122.3" r="2.7"/>
<circle class="g" cx="223.8" cy="121.9" r="2.7"/>
<circle class="g" cx="184.0" cy="121.9" r="2.7"/>
<circle class="g" cx="214.5" cy="123.5" r="2.7"/>
<circle class="g" cx="213.4" cy="121.8" r="2.7"/>
<circle class="g" cx="182.5" cy="122.6" r="2.7"/>
<circle class="g" cx="164.9" cy="122.0" r="2.7"/>
<circle class="g" cx="123.6" cy="122.6" r="2.7"/>
<circle class="g" cx="71.6" cy="123.0" r="2.7"/>
<circle class="g" cx="114.9" cy="122.3" r="2.7"/>
<circle class="g" cx="76.6" cy="122.3" r="2.7"/>
<circle class="g" cx="287.4" cy="122.3" r="2.7"/>
<circle class="g" cx="77.9" cy="122.4" r="2.7"/>
<circle class="g" cx="290.9" cy="121.9" r="2.7"/>
<circle class="g" cx="139.7" cy="122.1" r="2.7"/>
<circle class="g" cx="224.8" cy="122.6" r="2.7"/>
<circle class="g" cx="78.5" cy="123.4" r="2.7"/>
<circle class="g" cx="136.1" cy="123.1" r="2.7"/>
<circle class="g" cx="167.4" cy="123.4" r="2.7"/>
<circle class="g" cx="68.4" cy="122.2" r="2.7"/>
<circle class="g" cx="125.4" cy="122.2" r="2.7"/>
<circle class="g" cx="260.0" cy="122.7" r="2.7"/>
<circle class="g" cx="140.8" cy="122.7" r="2.7"/>
<circle class="g" cx="266.0" cy="122.8" r="2.7"/>
<circle class="g" cx="167.0" cy="123.0" r="2.7"/>
<circle class="g" cx="208.1" cy="122.5" r="2.7"/>
<circle class="g" cx="160.7" cy="122.0" r="2.7"/>
<circle class="g" cx="163.9" cy="123.5" r="2.7"/>
<circle class="g" cx="130.6" cy="122.4" r="2.7"/>
<circle class="g" cx="205.1" cy="122.9" r="2.7"/>
<circle class="g" cx="97.8" cy="122.6" r="2.7"/>
<circle class="g" cx="237.9" cy="121.8" r="2.7"/>
<circle class="g" cx="81.1" cy="123.2" r="2.7"/>
<circle class="g" cx="280.9" cy="121.8" r="2.7"/>
<circle class="g" cx="74.2" cy="123.0" r="2.7"/>
<circle class="g" cx="125.2" cy="123.0" r="2.7"/>
<circle class="g" cx="62.4" cy="122.6" r="2.7"/>
<circle class="g" cx="94.3" cy="122.4" r="2.7"/>
<circle class="g" cx="227.8" cy="122.7" r="2.7"/>
<circle class="g" cx="267.9" cy="123.4" r="2.7"/>
<circle class="g" cx="209.2" cy="123.4" r="2.7"/>
<circle class="g" cx="98.3" cy="122.6" r="2.7"/>
<circle class="g" cx="134.0" cy="122.9" r="2.7"/>
<circle class="g" cx="81.7" cy="123.5" r="2.7"/>
<circle class="g" cx="146.7" cy="123.3" r="2.7"/>
<circle class="g" cx="290.3" cy="123.6" r="2.7"/>
<circle class="g" cx="151.7" cy="123.4" r="2.7"/>
<circle class="g" cx="303.9" cy="122.0" r="2.7"/>
<circle class="g" cx="241.3" cy="123.2" r="2.7"/>
<circle class="g" cx="168.6" cy="122.3" r="2.7"/>
<circle class="g" cx="97.3" cy="122.5" r="2.7"/>
<circle class="g" cx="287.6" cy="122.5" r="2.7"/>
<circle class="g" cx="117.9" cy="122.9" r="2.7"/>
<circle class="g" cx="163.5" cy="122.9" r="2.7"/>
<circle class="g" cx="167.8" cy="122.3" r="2.7"/>
<circle class="g" cx="62.7" cy="123.3" r="2.7"/>
<circle class="g" cx="219.1" cy="122.2" r="2.7"/>
<circle class="g" cx="179.1" cy="122.9" r="2.7"/>
<circle class="g" cx="180.1" cy="123.5" r="2.7"/>
<circle class="g" cx="249.1" cy="122.3" r="2.7"/>
<circle class="g" cx="138.8" cy="122.9" r="2.7"/>
<circle class="g" cx="94.5" cy="123.6" r="2.7"/>
<circle class="g" cx="65.2" cy="122.7" r="2.7"/>
<circle class="g" cx="122.4" cy="122.7" r="2.7"/>
<circle class="g" cx="65.2" cy="122.1" r="2.7"/>
<circle class="g" cx="301.9" cy="123.3" r="2.7"/>
<circle class="g" cx="109.2" cy="122.6" r="2.7"/>
<circle class="g" cx="61.9" cy="121.9" r="2.7"/>
<circle class="g" cx="101.9" cy="123.7" r="2.7"/>
<circle class="g" cx="132.0" cy="122.2" r="2.7"/>
<circle class="g" cx="70.2" cy="121.9" r="2.7"/>
<circle class="g" cx="303.5" cy="123.2" r="2.7"/>
<circle class="g" cx="284.7" cy="123.4" r="2.7"/>
<circle class="g" cx="250.1" cy="122.2" r="2.7"/>
<circle class="g" cx="96.2" cy="122.2" r="2.7"/>
<circle class="g" cx="70.2" cy="122.0" r="2.7"/>
<circle class="g" cx="234.4" cy="122.7" r="2.7"/>
<circle class="g" cx="56.4" cy="122.3" r="2.7"/>
<circle class="g" cx="266.9" cy="123.4" r="2.7"/>
<circle class="g" cx="236.8" cy="123.2" r="2.7"/>
<circle class="g" cx="282.5" cy="122.8" r="2.7"/>
<circle class="g" cx="149.9" cy="122.8" r="2.7"/>
<circle class="g" cx="124.6" cy="121.8" r="2.7"/>
<circle class="g" cx="119.0" cy="122.6" r="2.7"/>
<circle class="g" cx="83.9" cy="121.9" r="2.7"/>
<circle class="g" cx="115.8" cy="122.4" r="2.7"/>
<circle class="g" cx="293.9" cy="122.7" r="2.7"/>
<circle class="g" cx="263.7" cy="123.2" r="2.7"/>
<circle class="g" cx="202.4" cy="122.3" r="2.7"/>
<circle class="g" cx="152.3" cy="122.3" r="2.7"/>
<circle class="g" cx="212.9" cy="123.4" r="2.7"/>
<circle class="g" cx="252.1" cy="122.3" r="2.7"/>
<circle class="g" cx="91.3" cy="121.7" r="2.7"/>
<circle class="g" cx="200.4" cy="122.2" r="2.7"/>
<circle class="g" cx="55.2" cy="122.3" r="2.7"/>
<circle class="g" cx="111.1" cy="122.1" r="2.7"/>
<circle class="g" cx="220.5" cy="122.9" r="2.7"/>
<circle class="g" cx="124.5" cy="123.2" r="2.7"/>
<circle class="g" cx="105.6" cy="123.5" r="2.7"/>
<circle class="g" cx="83.6" cy="122.9" r="2.7"/>
<circle class="g" cx="230.6" cy="123.2" r="2.7"/>
<circle class="g" cx="176.0" cy="123.4" r="2.7"/>
<circle class="g" cx="211.6" cy="123.1" r="2.7"/>
<circle class="g" cx="73.6" cy="122.1" r="2.7"/>
<circle class="g" cx="170.6" cy="122.8" r="2.7"/>
<circle class="g" cx="77.7" cy="123.2" r="2.7"/>
<circle class="s" cx="89.1" cy="46.2" r="4"/>
<circle class="s" cx="90.9" cy="44.6" r="4"/>
<circle class="s" cx="94.0" cy="42.8" r="4"/>
<circle class="s" cx="95.4" cy="42.1" r="4"/>
<circle class="s" cx="96.3" cy="42.2" r="4"/>
<circle class="s" cx="100.2" cy="45.0" r="4"/>
<circle class="s" cx="101.5" cy="42.2" r="4"/>
<circle class="s" cx="103.4" cy="43.7" r="4"/>
<circle class="s" cx="104.8" cy="42.8" r="4"/>
<circle class="s" cx="107.6" cy="40.2" r="4"/>
<circle class="s" cx="108.3" cy="41.8" r="4"/>
<circle class="s" cx="110.1" cy="41.2" r="4"/>
<circle class="s" cx="112.9" cy="40.0" r="4"/>
<circle class="s" cx="114.8" cy="40.1" r="4"/>
<circle class="s" cx="116.8" cy="40.1" r="4"/>
<circle class="s" cx="118.9" cy="38.7" r="4"/>
<circle class="s" cx="120.9" cy="38.8" r="4"/>
<circle class="s" cx="123.4" cy="40.4" r="4"/>
<circle class="s" cx="125.5" cy="38.2" r="4"/>
<circle class="s" cx="136.5" cy="29.2" r="4"/>
<circle class="s" cx="146.9" cy="30.0" r="4"/>
<circle class="s" cx="136.0" cy="37.8" r="4"/>
<circle class="s" cx="146.9" cy="37.8" r="4"/>
<circle class="s" cx="160.8" cy="33.8" r="4"/>
<circle class="s" cx="160.8" cy="37.8" r="4"/>
<circle class="s" cx="196.0" cy="30.0" r="4"/>
<circle class="s" cx="201.0" cy="29.0" r="4"/>
<circle class="s" cx="205.0" cy="31.0" r="4"/>
<circle class="s" cx="196.0" cy="36.0" r="4"/>
<circle class="s" cx="201.0" cy="36.0" r="4"/>
<circle class="s" cx="205.0" cy="36.0" r="4"/>
<circle class="s" cx="199.0" cy="33.0" r="4"/>
<circle class="s" cx="203.0" cy="33.0" r="4"/>
<circle class="s" cx="218.1" cy="32.1" r="4"/>
<circle class="s" cx="218.1" cy="38.4" r="4"/>
<circle class="s" cx="218.0" cy="35.0" r="4"/>
<circle class="s" cx="74.1" cy="89.4" r="4"/>
<circle class="s" cx="142.7" cy="85.9" r="4"/>
<circle class="s" cx="196.0" cy="54.6" r="4"/>
<circle class="s" cx="198.3" cy="93.6" r="4"/>
<circle class="s" cx="69.1" cy="111.1" r="4"/>
<circle class="s" cx="71.0" cy="117.5" r="4"/>
<circle class="s" cx="82.9" cy="118.5" r="4"/>
<circle class="s" cx="89.3" cy="115.5" r="4"/>
<circle class="s" cx="93.5" cy="116.0" r="4"/>
<circle class="s" cx="97.5" cy="115.5" r="4"/>
<circle class="s" cx="101.5" cy="115.6" r="4"/>
<circle class="s" cx="105.5" cy="116.0" r="4"/>
<circle class="s" cx="109.5" cy="115.5" r="4"/>
<circle class="s" cx="112.5" cy="117.0" r="4"/>
<circle class="s" cx="131.8" cy="114.8" r="4"/>
<circle class="s" cx="217.6" cy="96.5" r="4"/>
<circle class="s" cx="229.5" cy="97.5" r="4"/>
<circle class="s" cx="234.7" cy="96.7" r="4"/>
<circle class="s" cx="240.8" cy="98.4" r="4"/>
<circle class="s" cx="244.2" cy="97.5" r="4"/>
<circle class="s" cx="253.7" cy="97.5" r="4"/>
<circle class="s" cx="257.2" cy="99.2" r="4"/>
<circle class="s" cx="265.0" cy="99.2" r="4"/>
<circle class="s" cx="273.6" cy="98.4" r="4"/>
<circle class="s" cx="277.1" cy="99.2" r="4"/>
<circle class="s" cx="282.3" cy="98.4" r="4"/>
<circle class="s" cx="284.9" cy="97.5" r="4"/>
<circle class="s" cx="241.6" cy="104.4" r="4"/>
<circle class="s" cx="239.9" cy="108.8" r="4"/>
<circle class="s" cx="237.3" cy="114.0" r="4"/>
<circle class="s" cx="265.0" cy="114.0" r="4"/>
<circle class="s" cx="285.7" cy="114.0" r="4"/>
<circle class="s" cx="198.0" cy="114.5" r="4"/>
<circle class="s" cx="195.5" cy="117.0" r="4"/>
<circle class="s" cx="200.5" cy="117.5" r="4"/>
<circle class="s" cx="193.0" cy="119.5" r="4"/>
<circle class="s" cx="203.0" cy="120.0" r="4"/>
<circle class="s" cx="198.0" cy="119.0" r="4"/>
<circle class="s" cx="190.0" cy="121.5" r="4"/>
<circle class="s" cx="206.0" cy="121.5" r="4"/>
<circle class="s" cx="289.5" cy="107.5" r="4"/>
<circle class="s" cx="294.5" cy="106.8" r="4"/>
<circle class="s" cx="299.0" cy="107.0" r="4"/>
<circle class="s" cx="301.2" cy="110.0" r="4"/>
<circle class="s" cx="299.8" cy="113.5" r="4"/>
<circle class="s" cx="298.5" cy="116.5" r="4"/>
<circle class="s" cx="55.0" cy="122.8" r="4"/>
<circle class="s" cx="58.2" cy="122.7" r="4"/>
<circle class="s" cx="61.4" cy="123.0" r="4"/>
<circle class="s" cx="64.6" cy="123.1" r="4"/>
<circle class="s" cx="67.8" cy="123.2" r="4"/>
<circle class="s" cx="71.0" cy="123.2" r="4"/>
<circle class="s" cx="74.2" cy="122.8" r="4"/>
<circle class="s" cx="77.4" cy="123.5" r="4"/>
<circle class="s" cx="80.6" cy="123.3" r="4"/>
<circle class="s" cx="83.8" cy="123.3" r="4"/>
<circle class="s" cx="87.0" cy="122.7" r="4"/>
<circle class="s" cx="90.2" cy="122.7" r="4"/>
<circle class="s" cx="93.4" cy="122.9" r="4"/>
<circle class="s" cx="96.6" cy="123.4" r="4"/>
<circle class="s" cx="99.8" cy="122.8" r="4"/>
<circle class="s" cx="103.0" cy="122.8" r="4"/>
<circle class="s" cx="106.2" cy="122.7" r="4"/>
<circle class="s" cx="109.4" cy="123.4" r="4"/>
<circle class="s" cx="112.6" cy="122.5" r="4"/>
<circle class="s" cx="115.8" cy="122.2" r="4"/>
<circle class="s" cx="119.0" cy="123.1" r="4"/>
<circle class="s" cx="122.2" cy="123.4" r="4"/>
<circle class="s" cx="125.4" cy="123.1" r="4"/>
<circle class="s" cx="128.6" cy="122.9" r="4"/>
<circle class="s" cx="131.8" cy="123.2" r="4"/>
<circle class="s" cx="135.0" cy="122.5" r="4"/>
<circle class="s" cx="138.2" cy="122.9" r="4"/>
<circle class="s" cx="141.4" cy="122.2" r="4"/>
<circle class="s" cx="144.6" cy="122.3" r="4"/>
<circle class="s" cx="147.8" cy="122.7" r="4"/>
<circle class="s" cx="191.0" cy="122.8" r="4"/>
<circle class="s" cx="194.2" cy="122.7" r="4"/>
<circle class="s" cx="197.4" cy="122.2" r="4"/>
<circle class="s" cx="200.6" cy="123.1" r="4"/>
<circle class="s" cx="203.8" cy="122.8" r="4"/>
<circle class="s" cx="207.0" cy="122.4" r="4"/>
<circle class="s" cx="210.2" cy="122.5" r="4"/>
<circle class="s" cx="213.4" cy="122.7" r="4"/>
<circle class="s" cx="216.6" cy="122.4" r="4"/>
<circle class="s" cx="219.8" cy="122.2" r="4"/>
<circle class="s" cx="223.0" cy="123.4" r="4"/>
<circle class="s" cx="226.2" cy="123.5" r="4"/>
<circle class="s" cx="229.4" cy="123.0" r="4"/>
<circle class="s" cx="232.6" cy="123.3" r="4"/>
<circle class="s" cx="235.8" cy="122.7" r="4"/>
<circle class="s" cx="239.0" cy="123.2" r="4"/>
<circle class="s" cx="242.2" cy="122.4" r="4"/>
<circle class="s" cx="245.4" cy="123.1" r="4"/>
<circle class="s" cx="248.6" cy="122.9" r="4"/>
<circle class="s" cx="251.8" cy="123.4" r="4"/>
<circle class="s" cx="255.0" cy="122.2" r="4"/>
<circle class="s" cx="258.2" cy="123.2" r="4"/>
<circle class="s" cx="261.4" cy="122.3" r="4"/>
<circle class="s" cx="264.6" cy="122.9" r="4"/>
<circle class="s" cx="267.8" cy="123.4" r="4"/>
<circle class="s" cx="271.0" cy="122.1" r="4"/>
<circle class="s" cx="274.2" cy="122.4" r="4"/>
<circle class="s" cx="277.4" cy="122.5" r="4"/>
<circle class="s" cx="280.6" cy="122.6" r="4"/>
<circle class="s" cx="283.8" cy="122.2" r="4"/>
<circle class="s" cx="287.0" cy="123.4" r="4"/>
<circle class="s" cx="290.2" cy="123.2" r="4"/>
<circle class="s" cx="293.4" cy="122.7" r="4"/>
<circle class="s" cx="296.6" cy="122.6" r="4"/>
<circle class="s" cx="299.8" cy="122.9" r="4"/>
<circle class="g" cx="230.8" cy="122.0" r="2.7"/>
<circle class="g" cx="303.0" cy="122.3" r="2.7"/>
<rect x="42.5" y="25" width="273.0" height="103.0" fill="none" stroke="#c6c6c6" stroke-width="1.1"/>
<line x1="39.8" y1="123.8" x2="42.5" y2="123.8" stroke="#333" stroke-width="1.0"/>
<text x="37.9" y="126.7" font-family="Liberation Sans, sans-serif" font-size="8.1" fill="#262626" stroke="#262626" stroke-width="0.22" text-anchor="end">0.00</text>
<line x1="39.8" y1="99.7" x2="42.5" y2="99.7" stroke="#333" stroke-width="1.0"/>
<text x="37.9" y="102.6" font-family="Liberation Sans, sans-serif" font-size="8.1" fill="#262626" stroke="#262626" stroke-width="0.22" text-anchor="end">0.25</text>
<line x1="39.8" y1="75.5" x2="42.5" y2="75.5" stroke="#333" stroke-width="1.0"/>
<text x="37.9" y="78.5" font-family="Liberation Sans, sans-serif" font-size="8.1" fill="#262626" stroke="#262626" stroke-width="0.22" text-anchor="end">0.50</text>
<line x1="39.8" y1="51.4" x2="42.5" y2="51.4" stroke="#333" stroke-width="1.0"/>
<text x="37.9" y="54.3" font-family="Liberation Sans, sans-serif" font-size="8.1" fill="#262626" stroke="#262626" stroke-width="0.22" text-anchor="end">0.75</text>
<line x1="39.8" y1="27.3" x2="42.5" y2="27.3" stroke="#333" stroke-width="1.0"/>
<text x="37.9" y="30.2" font-family="Liberation Sans, sans-serif" font-size="8.1" fill="#262626" stroke="#262626" stroke-width="0.22" text-anchor="end">1.00</text>
<line x1="124.8" y1="128" x2="124.8" y2="130.7" stroke="#333" stroke-width="1.0"/>
<text x="124.8" y="139.4" font-family="Liberation Sans, sans-serif" font-size="8" fill="#262626" stroke="#262626" stroke-width="0.22" text-anchor="middle">152200000</text>
<line x1="216.2" y1="128" x2="216.2" y2="130.7" stroke="#333" stroke-width="1.0"/>
<text x="216.2" y="139.4" font-family="Liberation Sans, sans-serif" font-size="8" fill="#262626" stroke="#262626" stroke-width="0.22" text-anchor="middle">152300000</text>
<line x1="307.6" y1="128" x2="307.6" y2="130.7" stroke="#333" stroke-width="1.0"/>
<text x="307.6" y="139.4" font-family="Liberation Sans, sans-serif" font-size="8" fill="#262626" stroke="#262626" stroke-width="0.22" text-anchor="middle">152400000</text>
<text transform="translate(12.6,77.2) rotate(-90)" font-family="Liberation Sans, sans-serif" font-size="14" fill="#111" stroke="#111" stroke-width="0.45" letter-spacing="0.2" text-anchor="middle">LD R<tspan font-size="9.8" dy="-4.6">2</tspan></text>
<rect x="42.5" y="161.5" width="283.3" height="103.0" fill="#ffffff"/>
<line x1="80.4" y1="161.5" x2="80.4" y2="264.5" stroke="#f8f8f8" stroke-width="0.5"/>
<line x1="127.8" y1="161.5" x2="127.8" y2="264.5" stroke="#f1f1f1" stroke-width="0.8"/>
<line x1="175.2" y1="161.5" x2="175.2" y2="264.5" stroke="#f8f8f8" stroke-width="0.5"/>
<line x1="222.6" y1="161.5" x2="222.6" y2="264.5" stroke="#f1f1f1" stroke-width="0.8"/>
<line x1="270.1" y1="161.5" x2="270.1" y2="264.5" stroke="#f8f8f8" stroke-width="0.5"/>
<line x1="317.5" y1="161.5" x2="317.5" y2="264.5" stroke="#f1f1f1" stroke-width="0.8"/>
<line x1="42.5" y1="260.5" x2="325.8" y2="260.5" stroke="#f1f1f1" stroke-width="0.8"/>
<line x1="42.5" y1="248.4" x2="325.8" y2="248.4" stroke="#f8f8f8" stroke-width="0.5"/>
<line x1="42.5" y1="236.4" x2="325.8" y2="236.4" stroke="#f1f1f1" stroke-width="0.8"/>
<line x1="42.5" y1="224.3" x2="325.8" y2="224.3" stroke="#f8f8f8" stroke-width="0.5"/>
<line x1="42.5" y1="212.3" x2="325.8" y2="212.3" stroke="#f1f1f1" stroke-width="0.8"/>
<line x1="42.5" y1="200.2" x2="325.8" y2="200.2" stroke="#f8f8f8" stroke-width="0.5"/>
<line x1="42.5" y1="188.2" x2="325.8" y2="188.2" stroke="#f1f1f1" stroke-width="0.8"/>
<line x1="42.5" y1="176.1" x2="325.8" y2="176.1" stroke="#f8f8f8" stroke-width="0.5"/>
<line x1="42.5" y1="164.1" x2="325.8" y2="164.1" stroke="#f1f1f1" stroke-width="0.8"/>
<g id="pts1"></g>
<circle class="g" cx="113.2" cy="176.9" r="2.7"/>
<circle class="g" cx="119.4" cy="176.5" r="2.7"/>
<circle class="g" cx="117.4" cy="176.8" r="2.7"/>
<circle class="g" cx="91.6" cy="180.1" r="2.7"/>
<circle class="g" cx="124.8" cy="174.1" r="2.7"/>
<circle class="g" cx="123.3" cy="172.0" r="2.7"/>
<circle class="g" cx="107.6" cy="175.9" r="2.7"/>
<circle class="g" cx="110.3" cy="176.8" r="2.7"/>
<circle class="g" cx="91.0" cy="179.2" r="2.7"/>
<circle class="g" cx="100.7" cy="180.3" r="2.7"/>
<circle class="g" cx="118.4" cy="173.3" r="2.7"/>
<circle class="g" cx="119.5" cy="172.9" r="2.7"/>
<circle class="g" cx="113.0" cy="174.2" r="2.7"/>
<circle class="g" cx="90.6" cy="182.1" r="2.7"/>
<circle class="g" cx="98.1" cy="177.7" r="2.7"/>
<circle class="g" cx="126.2" cy="174.8" r="2.7"/>
<circle class="g" cx="101.0" cy="180.4" r="2.7"/>
<circle class="g" cx="110.1" cy="177.3" r="2.7"/>
<circle class="g" cx="97.9" cy="180.9" r="2.7"/>
<circle class="g" cx="115.6" cy="177.4" r="2.7"/>
<circle class="g" cx="123.0" cy="172.9" r="2.7"/>
<circle class="g" cx="103.6" cy="176.3" r="2.7"/>
<circle class="g" cx="95.8" cy="177.5" r="2.7"/>
<circle class="g" cx="101.5" cy="178.7" r="2.7"/>
<circle class="g" cx="90.6" cy="181.3" r="2.7"/>
<circle class="g" cx="102.8" cy="177.1" r="2.7"/>
<circle class="g" cx="120.3" cy="174.3" r="2.7"/>
<circle class="g" cx="102.0" cy="178.1" r="2.7"/>
<circle class="g" cx="116.1" cy="173.3" r="2.7"/>
<circle class="g" cx="126.0" cy="171.1" r="2.7"/>
<circle class="g" cx="117.8" cy="176.4" r="2.7"/>
<circle class="g" cx="91.2" cy="181.6" r="2.7"/>
<circle class="g" cx="103.8" cy="178.1" r="2.7"/>
<circle class="g" cx="90.8" cy="178.5" r="2.7"/>
<circle class="g" cx="97.1" cy="181.2" r="2.7"/>
<circle class="g" cx="97.6" cy="180.2" r="2.7"/>
<circle class="g" cx="124.3" cy="175.5" r="2.7"/>
<circle class="g" cx="103.0" cy="177.3" r="2.7"/>
<circle class="g" cx="109.6" cy="177.8" r="2.7"/>
<circle class="g" cx="94.4" cy="180.8" r="2.7"/>
<circle class="g" cx="213.9" cy="173.5" r="2.7"/>
<circle class="g" cx="128.9" cy="173.7" r="2.7"/>
<circle class="g" cx="135.0" cy="171.8" r="2.7"/>
<circle class="g" cx="193.1" cy="173.6" r="2.7"/>
<circle class="g" cx="162.8" cy="173.7" r="2.7"/>
<circle class="g" cx="185.7" cy="171.7" r="2.7"/>
<circle class="g" cx="160.2" cy="171.3" r="2.7"/>
<circle class="g" cx="133.6" cy="171.2" r="2.7"/>
<circle class="g" cx="201.8" cy="173.9" r="2.7"/>
<circle class="g" cx="142.9" cy="170.9" r="2.7"/>
<circle class="g" cx="235.1" cy="172.4" r="2.7"/>
<circle class="g" cx="170.2" cy="171.5" r="2.7"/>
<circle class="g" cx="191.2" cy="173.4" r="2.7"/>
<circle class="g" cx="175.7" cy="172.1" r="2.7"/>
<circle class="g" cx="131.1" cy="173.6" r="2.7"/>
<circle class="g" cx="128.5" cy="172.3" r="2.7"/>
<circle class="g" cx="218.5" cy="171.1" r="2.7"/>
<circle class="g" cx="206.6" cy="173.7" r="2.7"/>
<circle class="g" cx="195.2" cy="173.2" r="2.7"/>
<circle class="g" cx="136.7" cy="172.1" r="2.7"/>
<circle class="g" cx="141.5" cy="173.4" r="2.7"/>
<circle class="g" cx="157.8" cy="172.2" r="2.7"/>
<circle class="g" cx="236.5" cy="173.4" r="2.7"/>
<circle class="g" cx="233.9" cy="172.2" r="2.7"/>
<circle class="g" cx="179.4" cy="173.0" r="2.7"/>
<circle class="g" cx="178.3" cy="171.6" r="2.7"/>
<circle class="g" cx="169.9" cy="171.2" r="2.7"/>
<circle class="g" cx="166.9" cy="173.9" r="2.7"/>
<circle class="g" cx="232.0" cy="172.7" r="2.7"/>
<circle class="g" cx="180.6" cy="171.8" r="2.7"/>
<circle class="g" cx="134.8" cy="171.6" r="2.7"/>
<circle class="g" cx="212.2" cy="173.5" r="2.7"/>
<circle class="g" cx="165.2" cy="173.2" r="2.7"/>
<circle class="g" cx="211.4" cy="172.9" r="2.7"/>
<circle class="g" cx="199.0" cy="173.1" r="2.7"/>
<circle class="g" cx="165.4" cy="173.0" r="2.7"/>
<circle class="g" cx="156.2" cy="172.3" r="2.7"/>
<circle class="g" cx="210.8" cy="172.9" r="2.7"/>
<circle class="g" cx="157.7" cy="173.7" r="2.7"/>
<circle class="g" cx="197.4" cy="172.6" r="2.7"/>
<circle class="g" cx="126.1" cy="172.5" r="2.7"/>
<circle class="g" cx="152.8" cy="172.9" r="2.7"/>
<circle class="g" cx="176.5" cy="173.3" r="2.7"/>
<circle class="g" cx="197.2" cy="173.3" r="2.7"/>
<circle class="g" cx="163.7" cy="172.8" r="2.7"/>
<circle class="g" cx="207.2" cy="173.4" r="2.7"/>
<circle class="g" cx="163.9" cy="173.4" r="2.7"/>
<circle class="g" cx="222.0" cy="172.9" r="2.7"/>
<circle class="g" cx="233.9" cy="173.8" r="2.7"/>
<circle class="g" cx="182.7" cy="172.4" r="2.7"/>
<circle class="g" cx="143.4" cy="173.4" r="2.7"/>
<circle class="g" cx="229.5" cy="172.2" r="2.7"/>
<circle class="g" cx="202.1" cy="173.0" r="2.7"/>
<circle class="g" cx="206.4" cy="171.3" r="2.7"/>
<circle class="g" cx="212.0" cy="172.6" r="2.7"/>
<circle class="g" cx="199.2" cy="172.1" r="2.7"/>
<circle class="g" cx="194.5" cy="173.2" r="2.7"/>
<circle class="g" cx="196.0" cy="173.0" r="2.7"/>
<circle class="g" cx="127.9" cy="171.2" r="2.7"/>
<circle class="g" cx="174.1" cy="172.8" r="2.7"/>
<circle class="g" cx="149.3" cy="172.9" r="2.7"/>
<circle class="g" cx="195.3" cy="170.8" r="2.7"/>
<circle class="g" cx="177.5" cy="171.4" r="2.7"/>
<circle class="g" cx="130.9" cy="171.1" r="2.7"/>
<circle class="g" cx="160.3" cy="171.3" r="2.7"/>
<circle class="g" cx="146.4" cy="170.8" r="2.7"/>
<circle class="g" cx="176.8" cy="171.9" r="2.7"/>
<circle class="g" cx="193.2" cy="172.6" r="2.7"/>
<circle class="g" cx="151.4" cy="173.6" r="2.7"/>
<circle class="g" cx="124.9" cy="172.0" r="2.7"/>
<circle class="g" cx="155.9" cy="172.0" r="2.7"/>
<circle class="g" cx="137.7" cy="173.4" r="2.7"/>
<circle class="g" cx="166.6" cy="170.8" r="2.7"/>
<circle class="g" cx="193.4" cy="171.0" r="2.7"/>
<circle class="g" cx="185.7" cy="171.8" r="2.7"/>
<circle class="g" cx="189.7" cy="173.8" r="2.7"/>
<circle class="g" cx="216.3" cy="172.0" r="2.7"/>
<circle class="g" cx="215.6" cy="172.8" r="2.7"/>
<circle class="g" cx="166.1" cy="171.2" r="2.7"/>
<circle class="g" cx="191.4" cy="172.5" r="2.7"/>
<circle class="g" cx="231.8" cy="173.8" r="2.7"/>
<circle class="g" cx="192.8" cy="171.8" r="2.7"/>
<circle class="g" cx="224.6" cy="170.7" r="2.7"/>
<circle class="g" cx="136.9" cy="172.5" r="2.7"/>
<circle class="g" cx="193.5" cy="171.2" r="2.7"/>
<circle class="g" cx="195.1" cy="173.6" r="2.7"/>
<circle class="g" cx="166.8" cy="172.1" r="2.7"/>
<circle class="g" cx="150.1" cy="171.6" r="2.7"/>
<circle class="g" cx="233.5" cy="171.9" r="2.7"/>
<circle class="g" cx="232.2" cy="173.6" r="2.7"/>
<circle class="g" cx="191.4" cy="171.5" r="2.7"/>
<circle class="g" cx="234.4" cy="172.3" r="2.7"/>
<circle class="g" cx="171.2" cy="171.7" r="2.7"/>
<circle class="g" cx="234.8" cy="172.3" r="2.7"/>
<circle class="g" cx="156.8" cy="172.2" r="2.7"/>
<circle class="g" cx="138.4" cy="172.7" r="2.7"/>
<circle class="g" cx="174.4" cy="171.6" r="2.7"/>
<circle class="g" cx="212.2" cy="173.4" r="2.7"/>
<circle class="g" cx="126.3" cy="172.4" r="2.7"/>
<circle class="g" cx="155.4" cy="173.7" r="2.7"/>
<circle class="g" cx="212.2" cy="171.5" r="2.7"/>
<circle class="g" cx="154.7" cy="171.2" r="2.7"/>
<circle class="g" cx="235.3" cy="171.6" r="2.7"/>
<circle class="g" cx="192.8" cy="172.2" r="2.7"/>
<circle class="g" cx="196.9" cy="172.6" r="2.7"/>
<circle class="g" cx="207.9" cy="171.1" r="2.7"/>
<circle class="g" cx="209.8" cy="171.7" r="2.7"/>
<circle class="g" cx="184.4" cy="171.8" r="2.7"/>
<circle class="g" cx="158.0" cy="172.4" r="2.7"/>
<circle class="g" cx="176.7" cy="171.9" r="2.7"/>
<circle class="g" cx="208.1" cy="172.6" r="2.7"/>
<circle class="g" cx="128.9" cy="171.5" r="2.7"/>
<circle class="g" cx="175.7" cy="173.6" r="2.7"/>
<circle class="g" cx="224.0" cy="172.5" r="2.7"/>
<circle class="g" cx="126.5" cy="173.2" r="2.7"/>
<circle class="g" cx="172.6" cy="172.6" r="2.7"/>
<circle class="g" cx="203.9" cy="172.7" r="2.7"/>
<circle class="g" cx="178.7" cy="173.6" r="2.7"/>
<circle class="g" cx="167.9" cy="172.0" r="2.7"/>
<circle class="g" cx="220.0" cy="171.3" r="2.7"/>
<circle class="g" cx="157.9" cy="173.4" r="2.7"/>
<circle class="g" cx="132.2" cy="173.4" r="2.7"/>
<circle class="g" cx="202.4" cy="172.1" r="2.7"/>
<circle class="g" cx="156.8" cy="173.2" r="2.7"/>
<circle class="g" cx="226.6" cy="171.2" r="2.7"/>
<circle class="g" cx="178.3" cy="172.5" r="2.7"/>
<circle class="g" cx="180.4" cy="171.8" r="2.7"/>
<circle class="g" cx="142.0" cy="172.6" r="2.7"/>
<circle class="g" cx="215.5" cy="170.9" r="2.7"/>
<circle class="g" cx="150.5" cy="173.3" r="2.7"/>
<circle class="g" cx="213.3" cy="172.8" r="2.7"/>
<circle class="g" cx="127.7" cy="173.0" r="2.7"/>
<circle class="g" cx="234.2" cy="173.9" r="2.7"/>
<circle class="g" cx="203.2" cy="170.9" r="2.7"/>
<circle class="g" cx="218.9" cy="171.4" r="2.7"/>
<circle class="g" cx="197.0" cy="173.8" r="2.7"/>
<circle class="g" cx="204.4" cy="171.1" r="2.7"/>
<circle class="g" cx="157.5" cy="173.6" r="2.7"/>
<circle class="g" cx="141.6" cy="172.7" r="2.7"/>
<circle class="g" cx="171.1" cy="171.2" r="2.7"/>
<circle class="g" cx="194.4" cy="170.8" r="2.7"/>
<circle class="g" cx="136.9" cy="171.9" r="2.7"/>
<circle class="g" cx="132.9" cy="170.9" r="2.7"/>
<circle class="g" cx="189.1" cy="173.1" r="2.7"/>
<circle class="g" cx="223.0" cy="171.1" r="2.7"/>
<circle class="g" cx="173.0" cy="171.7" r="2.7"/>
<circle class="g" cx="191.9" cy="172.3" r="2.7"/>
<circle class="g" cx="229.7" cy="171.9" r="2.7"/>
<circle class="g" cx="131.1" cy="172.9" r="2.7"/>
<circle class="g" cx="141.7" cy="172.7" r="2.7"/>
<circle class="g" cx="181.3" cy="173.6" r="2.7"/>
<circle class="g" cx="186.8" cy="172.7" r="2.7"/>
<circle class="g" cx="154.2" cy="172.5" r="2.7"/>
<circle class="g" cx="153.2" cy="173.1" r="2.7"/>
<circle class="g" cx="182.6" cy="171.1" r="2.7"/>
<circle class="g" cx="151.0" cy="171.9" r="2.7"/>
<circle class="g" cx="207.1" cy="171.3" r="2.7"/>
<circle class="g" cx="204.5" cy="172.8" r="2.7"/>
<circle class="g" cx="134.4" cy="172.8" r="2.7"/>
<circle class="g" cx="135.0" cy="171.1" r="2.7"/>
<circle class="g" cx="191.2" cy="171.5" r="2.7"/>
<circle class="g" cx="222.8" cy="172.2" r="2.7"/>
<circle class="g" cx="160.9" cy="173.3" r="2.7"/>
<circle class="g" cx="128.1" cy="173.0" r="2.7"/>
<circle class="g" cx="130.8" cy="171.2" r="2.7"/>
<circle class="g" cx="231.2" cy="172.9" r="2.7"/>
<circle class="g" cx="149.7" cy="171.1" r="2.7"/>
<circle class="g" cx="233.5" cy="172.8" r="2.7"/>
<circle class="g" cx="216.5" cy="171.2" r="2.7"/>
<circle class="g" cx="194.6" cy="171.8" r="2.7"/>
<circle class="g" cx="151.1" cy="171.8" r="2.7"/>
<circle class="g" cx="193.4" cy="171.8" r="2.7"/>
<circle class="g" cx="167.9" cy="171.1" r="2.7"/>
<circle class="g" cx="217.7" cy="172.8" r="2.7"/>
<circle class="g" cx="214.7" cy="172.1" r="2.7"/>
<circle class="g" cx="220.0" cy="172.4" r="2.7"/>
<circle class="g" cx="191.0" cy="172.5" r="2.7"/>
<circle class="g" cx="207.5" cy="172.0" r="2.7"/>
<circle class="g" cx="135.7" cy="170.8" r="2.7"/>
<circle class="g" cx="147.4" cy="170.8" r="2.7"/>
<circle class="g" cx="224.2" cy="172.2" r="2.7"/>
<circle class="g" cx="209.8" cy="170.7" r="2.7"/>
<circle class="g" cx="177.4" cy="173.6" r="2.7"/>
<circle class="g" cx="194.0" cy="172.1" r="2.7"/>
<circle class="g" cx="176.8" cy="171.0" r="2.7"/>
<circle class="g" cx="142.1" cy="171.2" r="2.7"/>
<circle class="g" cx="166.7" cy="171.9" r="2.7"/>
<circle class="g" cx="223.2" cy="171.2" r="2.7"/>
<circle class="g" cx="153.2" cy="171.6" r="2.7"/>
<circle class="g" cx="142.9" cy="171.6" r="2.7"/>
<circle class="g" cx="94.9" cy="173.3" r="2.7"/>
<circle class="g" cx="104.4" cy="171.0" r="2.7"/>
<circle class="g" cx="110.9" cy="171.0" r="2.7"/>
<circle class="g" cx="119.8" cy="169.3" r="2.7"/>
<circle class="g" cx="124.5" cy="166.4" r="2.7"/>
<circle class="g" cx="128.6" cy="165.7" r="2.7"/>
<circle class="g" cx="133.5" cy="166.1" r="2.7"/>
<circle class="g" cx="139.0" cy="166.1" r="2.7"/>
<circle class="g" cx="144.5" cy="165.9" r="2.7"/>
<circle class="g" cx="149.4" cy="166.1" r="2.7"/>
<circle class="g" cx="154.1" cy="165.9" r="2.7"/>
<circle class="g" cx="159.4" cy="165.9" r="2.7"/>
<circle class="g" cx="165.1" cy="165.4" r="2.7"/>
<circle class="g" cx="169.6" cy="165.2" r="2.7"/>
<circle class="g" cx="174.7" cy="165.3" r="2.7"/>
<circle class="g" cx="180.0" cy="166.2" r="2.7"/>
<circle class="g" cx="185.1" cy="165.5" r="2.7"/>
<circle class="g" cx="190.4" cy="165.5" r="2.7"/>
<circle class="g" cx="195.8" cy="165.9" r="2.7"/>
<circle class="g" cx="200.3" cy="165.4" r="2.7"/>
<circle class="g" cx="206.0" cy="166.1" r="2.7"/>
<circle class="g" cx="211.1" cy="165.6" r="2.7"/>
<circle class="g" cx="216.6" cy="165.2" r="2.7"/>
<circle class="g" cx="220.6" cy="166.0" r="2.7"/>
<circle class="g" cx="226.2" cy="165.2" r="2.7"/>
<circle class="g" cx="231.5" cy="166.2" r="2.7"/>
<circle class="g" cx="236.6" cy="165.6" r="2.7"/>
<circle class="g" cx="90.5" cy="180.5" r="2.7"/>
<circle class="g" cx="92.0" cy="182.5" r="2.7"/>
<circle class="g" cx="97.2" cy="183.0" r="2.7"/>
<circle class="g" cx="103.3" cy="182.5" r="2.7"/>
<circle class="g" cx="109.5" cy="181.5" r="2.7"/>
<circle class="g" cx="141.8" cy="180.3" r="2.7"/>
<circle class="g" cx="157.8" cy="182.0" r="2.7"/>
<circle class="g" cx="217.2" cy="175.6" r="2.7"/>
<circle class="g" cx="224.9" cy="175.5" r="2.7"/>
<circle class="g" cx="231.3" cy="174.5" r="2.7"/>
<circle class="g" cx="95.6" cy="202.2" r="2.7"/>
<circle class="g" cx="98.6" cy="202.2" r="2.7"/>
<circle class="g" cx="91.4" cy="211.4" r="2.7"/>
<circle class="g" cx="91.4" cy="214.4" r="2.7"/>
<circle class="g" cx="77.3" cy="220.7" r="2.7"/>
<circle class="g" cx="74.9" cy="225.9" r="2.7"/>
<circle class="g" cx="77.3" cy="231.1" r="2.7"/>
<circle class="g" cx="87.9" cy="226.5" r="2.7"/>
<circle class="g" cx="89.7" cy="230.5" r="2.7"/>
<circle class="g" cx="106.0" cy="202.7" r="2.7"/>
<circle class="g" cx="112.5" cy="201.0" r="2.7"/>
<circle class="g" cx="114.9" cy="197.5" r="2.7"/>
<circle class="g" cx="120.7" cy="199.3" r="2.7"/>
<circle class="g" cx="123.7" cy="197.5" r="2.7"/>
<circle class="g" cx="136.7" cy="196.4" r="2.7"/>
<circle class="g" cx="140.3" cy="196.4" r="2.7"/>
<circle class="g" cx="143.8" cy="196.4" r="2.7"/>
<circle class="g" cx="114.9" cy="215.5" r="2.7"/>
<circle class="g" cx="117.2" cy="225.9" r="2.7"/>
<circle class="g" cx="131.4" cy="222.4" r="2.7"/>
<circle class="g" cx="146.8" cy="222.4" r="2.7"/>
<circle class="g" cx="156.2" cy="222.4" r="2.7"/>
<circle class="g" cx="155.8" cy="222.4" r="2.7"/>
<circle class="g" cx="133.7" cy="233.5" r="2.7"/>
<circle class="g" cx="141.4" cy="237.6" r="2.7"/>
<circle class="g" cx="165.1" cy="193.8" r="2.7"/>
<circle class="g" cx="189.0" cy="198.7" r="2.7"/>
<circle class="g" cx="189.7" cy="190.1" r="2.7"/>
<circle class="g" cx="201.8" cy="189.5" r="2.7"/>
<circle class="g" cx="202.0" cy="194.7" r="2.7"/>
<circle class="g" cx="204.9" cy="194.5" r="2.7"/>
<circle class="g" cx="202.0" cy="200.4" r="2.7"/>
<circle class="g" cx="204.9" cy="207.9" r="2.7"/>
<circle class="g" cx="200.2" cy="210.8" r="2.7"/>
<circle class="g" cx="204.9" cy="215.5" r="2.7"/>
<circle class="g" cx="204.4" cy="220.7" r="2.7"/>
<circle class="g" cx="201.4" cy="224.2" r="2.7"/>
<circle class="g" cx="200.2" cy="226.5" r="2.7"/>
<circle class="g" cx="204.9" cy="230.5" r="2.7"/>
<circle class="g" cx="165.3" cy="224.2" r="2.7"/>
<circle class="g" cx="183.7" cy="222.4" r="2.7"/>
<circle class="g" cx="194.8" cy="222.4" r="2.7"/>
<circle class="g" cx="190.1" cy="234.1" r="2.7"/>
<circle class="g" cx="235.3" cy="219.0" r="2.7"/>
<circle class="g" cx="224.0" cy="232.9" r="2.7"/>
<circle class="g" cx="289.1" cy="216.5" r="2.7"/>
<circle class="g" cx="288.6" cy="227.4" r="2.7"/>
<circle class="g" cx="173.0" cy="238.1" r="2.7"/>
<circle class="g" cx="201.4" cy="239.3" r="2.7"/>
<circle class="g" cx="209.1" cy="238.7" r="2.7"/>
<circle class="g" cx="209.6" cy="245.1" r="2.7"/>
<circle class="g" cx="202.5" cy="246.2" r="2.7"/>
<circle class="g" cx="73.2" cy="244.7" r="2.7"/>
<circle class="g" cx="70.8" cy="247.6" r="2.7"/>
<circle class="g" cx="65.5" cy="248.2" r="2.7"/>
<circle class="g" cx="60.8" cy="251.7" r="2.7"/>
<circle class="g" cx="56.6" cy="254.0" r="2.7"/>
<circle class="g" cx="63.1" cy="253.6" r="2.7"/>
<circle class="g" cx="69.0" cy="253.6" r="2.7"/>
<circle class="g" cx="76.0" cy="253.4" r="2.7"/>
<circle class="g" cx="71.9" cy="251.6" r="2.7"/>
<circle class="g" cx="91.4" cy="245.3" r="2.7"/>
<circle class="g" cx="97.4" cy="242.4" r="2.7"/>
<circle class="g" cx="99.7" cy="245.3" r="2.7"/>
<circle class="g" cx="91.4" cy="251.1" r="2.7"/>
<circle class="g" cx="97.4" cy="251.1" r="2.7"/>
<circle class="g" cx="100.9" cy="251.1" r="2.7"/>
<circle class="g" cx="85.6" cy="255.1" r="2.7"/>
<circle class="g" cx="114.3" cy="239.9" r="2.7"/>
<circle class="g" cx="128.4" cy="242.2" r="2.7"/>
<circle class="g" cx="104.2" cy="244.5" r="2.7"/>
<circle class="g" cx="114.3" cy="245.6" r="2.7"/>
<circle class="g" cx="117.3" cy="245.6" r="2.7"/>
<circle class="g" cx="120.4" cy="245.6" r="2.7"/>
<circle class="g" cx="123.5" cy="245.6" r="2.7"/>
<circle class="g" cx="107.7" cy="250.8" r="2.7"/>
<circle class="g" cx="110.7" cy="250.8" r="2.7"/>
<circle class="g" cx="114.3" cy="250.8" r="2.7"/>
<circle class="g" cx="103.6" cy="250.8" r="2.7"/>
<circle class="g" cx="116.6" cy="252.6" r="2.7"/>
<circle class="g" cx="135.5" cy="250.8" r="2.7"/>
<circle class="g" cx="139.1" cy="253.7" r="2.7"/>
<circle class="g" cx="155.1" cy="245.6" r="2.7"/>
<circle class="g" cx="161.7" cy="245.6" r="2.7"/>
<circle class="g" cx="164.7" cy="245.6" r="2.7"/>
<circle class="g" cx="152.1" cy="250.2" r="2.7"/>
<circle class="g" cx="158.5" cy="253.7" r="2.7"/>
<circle class="g" cx="153.2" cy="252.6" r="2.7"/>
<circle class="g" cx="173.6" cy="249.1" r="2.7"/>
<circle class="g" cx="176.6" cy="253.7" r="2.7"/>
<circle class="g" cx="158.9" cy="253.7" r="2.7"/>
<circle class="g" cx="193.1" cy="252.6" r="2.7"/>
<circle class="g" cx="200.2" cy="252.6" r="2.7"/>
<circle class="g" cx="207.2" cy="253.6" r="2.7"/>
<circle class="g" cx="152.5" cy="254.1" r="2.7"/>
<circle class="g" cx="156.6" cy="254.1" r="2.7"/>
<circle class="g" cx="160.7" cy="253.6" r="2.7"/>
<circle class="g" cx="166.8" cy="254.6" r="2.7"/>
<circle class="g" cx="174.0" cy="254.1" r="2.7"/>
<circle class="g" cx="182.2" cy="254.6" r="2.7"/>
<circle class="g" cx="193.5" cy="253.6" r="2.7"/>
<circle class="g" cx="197.6" cy="254.1" r="2.7"/>
<circle class="g" cx="201.7" cy="253.6" r="2.7"/>
<circle class="g" cx="206.8" cy="254.1" r="2.7"/>
<circle class="g" cx="210.9" cy="253.6" r="2.7"/>
<circle class="g" cx="215.0" cy="254.1" r="2.7"/>
<circle class="g" cx="249.4" cy="245.1" r="2.7"/>
<circle class="g" cx="234.1" cy="252.0" r="2.7"/>
<circle class="g" cx="242.4" cy="250.8" r="2.7"/>
<circle class="g" cx="245.4" cy="250.8" r="2.7"/>
<circle class="g" cx="248.2" cy="252.6" r="2.7"/>
<circle class="g" cx="254.8" cy="254.9" r="2.7"/>
<circle class="g" cx="264.2" cy="241.0" r="2.7"/>
<circle class="g" cx="273.1" cy="251.4" r="2.7"/>
<circle class="g" cx="272.6" cy="251.4" r="2.7"/>
<circle class="g" cx="286.8" cy="250.8" r="2.7"/>
<circle class="g" cx="286.8" cy="253.1" r="2.7"/>
<circle class="g" cx="233.5" cy="233.9" r="2.7"/>
<circle class="g" cx="237.0" cy="233.9" r="2.7"/>
<circle class="g" cx="240.6" cy="233.9" r="2.7"/>
<circle class="g" cx="244.2" cy="233.9" r="2.7"/>
<circle class="g" cx="247.8" cy="233.9" r="2.7"/>
<circle class="g" cx="251.4" cy="233.9" r="2.7"/>
<circle class="g" cx="255.0" cy="233.9" r="2.7"/>
<circle class="g" cx="258.6" cy="233.9" r="2.7"/>
<circle class="g" cx="262.2" cy="233.9" r="2.7"/>
<circle class="g" cx="265.7" cy="233.9" r="2.7"/>
<circle class="g" cx="269.3" cy="233.9" r="2.7"/>
<circle class="g" cx="272.9" cy="233.9" r="2.7"/>
<circle class="g" cx="276.5" cy="233.9" r="2.7"/>
<circle class="g" cx="280.1" cy="233.9" r="2.7"/>
<circle class="g" cx="283.7" cy="233.9" r="2.7"/>
<circle class="g" cx="287.3" cy="233.9" r="2.7"/>
<circle class="g" cx="290.9" cy="233.9" r="2.7"/>
<circle class="g" cx="294.4" cy="233.9" r="2.7"/>
<circle class="g" cx="235.5" cy="238.4" r="2.7"/>
<circle class="g" cx="239.1" cy="238.4" r="2.7"/>
<circle class="g" cx="242.7" cy="238.4" r="2.7"/>
<circle class="g" cx="246.3" cy="238.4" r="2.7"/>
<circle class="g" cx="249.9" cy="238.4" r="2.7"/>
<circle class="g" cx="253.4" cy="238.4" r="2.7"/>
<circle class="g" cx="257.0" cy="238.4" r="2.7"/>
<circle class="g" cx="260.6" cy="238.4" r="2.7"/>
<circle class="g" cx="264.2" cy="238.4" r="2.7"/>
<circle class="g" cx="267.8" cy="238.4" r="2.7"/>
<circle class="g" cx="271.4" cy="238.4" r="2.7"/>
<circle class="g" cx="275.0" cy="238.4" r="2.7"/>
<circle class="g" cx="278.6" cy="238.4" r="2.7"/>
<circle class="g" cx="282.1" cy="238.4" r="2.7"/>
<circle class="g" cx="285.7" cy="238.4" r="2.7"/>
<circle class="g" cx="289.3" cy="238.4" r="2.7"/>
<circle class="g" cx="292.9" cy="238.4" r="2.7"/>
<circle class="g" cx="239.4" cy="234.2" r="2.7"/>
<circle class="g" cx="290.6" cy="236.0" r="2.7"/>
<circle class="g" cx="292.9" cy="234.1" r="2.7"/>
<circle class="g" cx="248.9" cy="234.1" r="2.7"/>
<circle class="g" cx="258.7" cy="234.1" r="2.7"/>
<circle class="g" cx="249.7" cy="235.7" r="2.7"/>
<circle class="g" cx="252.9" cy="234.1" r="2.7"/>
<circle class="g" cx="235.9" cy="238.2" r="2.7"/>
<circle class="g" cx="244.9" cy="236.1" r="2.7"/>
<circle class="g" cx="259.0" cy="236.2" r="2.7"/>
<circle class="g" cx="238.8" cy="235.3" r="2.7"/>
<circle class="g" cx="240.3" cy="236.3" r="2.7"/>
<circle class="g" cx="292.0" cy="236.5" r="2.7"/>
<circle class="g" cx="287.9" cy="234.8" r="2.7"/>
<circle class="g" cx="234.6" cy="236.2" r="2.7"/>
<circle class="g" cx="264.4" cy="236.4" r="2.7"/>
<circle class="g" cx="257.4" cy="236.6" r="2.7"/>
<circle class="g" cx="279.6" cy="237.9" r="2.7"/>
<circle class="g" cx="253.0" cy="235.9" r="2.7"/>
<circle class="g" cx="286.0" cy="234.9" r="2.7"/>
<circle class="g" cx="240.8" cy="235.2" r="2.7"/>
<circle class="g" cx="239.0" cy="237.3" r="2.7"/>
<circle class="g" cx="285.5" cy="235.3" r="2.7"/>
<circle class="g" cx="241.7" cy="234.2" r="2.7"/>
<circle class="g" cx="249.0" cy="234.2" r="2.7"/>
<circle class="g" cx="260.7" cy="236.4" r="2.7"/>
<circle class="g" cx="249.1" cy="234.1" r="2.7"/>
<circle class="g" cx="278.0" cy="234.1" r="2.7"/>
<circle class="g" cx="246.2" cy="235.1" r="2.7"/>
<circle class="g" cx="257.2" cy="234.3" r="2.7"/>
<circle class="g" cx="260.2" cy="235.3" r="2.7"/>
<circle class="g" cx="281.3" cy="236.3" r="2.7"/>
<circle class="g" cx="290.4" cy="236.8" r="2.7"/>
<circle class="g" cx="281.7" cy="236.4" r="2.7"/>
<circle class="g" cx="261.6" cy="237.5" r="2.7"/>
<circle class="g" cx="275.1" cy="238.1" r="2.7"/>
<circle class="g" cx="279.7" cy="237.0" r="2.7"/>
<circle class="g" cx="250.5" cy="237.4" r="2.7"/>
<circle class="g" cx="257.8" cy="234.4" r="2.7"/>
<circle class="g" cx="237.7" cy="234.6" r="2.7"/>
<circle class="g" cx="294.4" cy="243.6" r="2.7"/>
<circle class="g" cx="297.5" cy="243.1" r="2.7"/>
<circle class="g" cx="300.6" cy="243.4" r="2.7"/>
<circle class="g" cx="303.7" cy="242.9" r="2.7"/>
<circle class="g" cx="306.7" cy="243.4" r="2.7"/>
<circle class="g" cx="309.8" cy="243.1" r="2.7"/>
<circle class="g" cx="312.4" cy="244.1" r="2.7"/>
<circle class="g" cx="296.0" cy="245.6" r="2.7"/>
<circle class="g" cx="299.1" cy="245.4" r="2.7"/>
<circle class="g" cx="302.1" cy="245.8" r="2.7"/>
<circle class="g" cx="305.2" cy="245.1" r="2.7"/>
<circle class="g" cx="308.3" cy="245.6" r="2.7"/>
<circle class="g" cx="311.4" cy="246.1" r="2.7"/>
<circle class="g" cx="296.5" cy="250.1" r="2.7"/>
<circle class="g" cx="299.6" cy="249.1" r="2.7"/>
<circle class="g" cx="302.6" cy="250.6" r="2.7"/>
<circle class="g" cx="305.7" cy="249.6" r="2.7"/>
<circle class="g" cx="308.8" cy="250.1" r="2.7"/>
<circle class="g" cx="311.9" cy="249.1" r="2.7"/>
<circle class="g" cx="309.3" cy="252.6" r="2.7"/>
<circle class="g" cx="312.4" cy="252.1" r="2.7"/>
<circle class="g" cx="306.2" cy="253.1" r="2.7"/>
<circle class="g" cx="308.1" cy="247.3" r="2.7"/>
<circle class="g" cx="308.3" cy="243.0" r="2.7"/>
<circle class="g" cx="311.7" cy="246.5" r="2.7"/>
<circle class="g" cx="306.4" cy="242.9" r="2.7"/>
<circle class="g" cx="88.0" cy="259.1" r="2.7"/>
<circle class="g" cx="277.9" cy="260.3" r="2.7"/>
<circle class="g" cx="213.4" cy="258.9" r="2.7"/>
<circle class="g" cx="165.8" cy="259.1" r="2.7"/>
<circle class="g" cx="140.1" cy="258.4" r="2.7"/>
<circle class="g" cx="206.2" cy="260.1" r="2.7"/>
<circle class="g" cx="243.3" cy="258.6" r="2.7"/>
<circle class="g" cx="192.2" cy="258.7" r="2.7"/>
<circle class="g" cx="238.8" cy="259.3" r="2.7"/>
<circle class="g" cx="298.4" cy="260.0" r="2.7"/>
<circle class="g" cx="84.9" cy="259.0" r="2.7"/>
<circle class="g" cx="292.3" cy="259.3" r="2.7"/>
<circle class="g" cx="167.1" cy="259.3" r="2.7"/>
<circle class="g" cx="253.9" cy="260.3" r="2.7"/>
<circle class="g" cx="192.8" cy="260.3" r="2.7"/>
<circle class="g" cx="209.3" cy="258.6" r="2.7"/>
<circle class="g" cx="266.1" cy="259.2" r="2.7"/>
<circle class="g" cx="67.7" cy="260.4" r="2.7"/>
<circle class="g" cx="62.7" cy="259.6" r="2.7"/>
<circle class="g" cx="179.6" cy="260.2" r="2.7"/>
<circle class="g" cx="156.3" cy="258.8" r="2.7"/>
<circle class="g" cx="126.2" cy="258.8" r="2.7"/>
<circle class="g" cx="200.5" cy="259.1" r="2.7"/>
<circle class="g" cx="249.6" cy="258.9" r="2.7"/>
<circle class="g" cx="145.7" cy="258.9" r="2.7"/>
<circle class="g" cx="309.8" cy="260.1" r="2.7"/>
<circle class="g" cx="275.3" cy="259.6" r="2.7"/>
<circle class="g" cx="158.5" cy="258.7" r="2.7"/>
<circle class="g" cx="270.6" cy="259.4" r="2.7"/>
<circle class="g" cx="63.9" cy="258.7" r="2.7"/>
<circle class="g" cx="79.8" cy="259.8" r="2.7"/>
<circle class="g" cx="288.4" cy="258.8" r="2.7"/>
<circle class="g" cx="261.6" cy="259.0" r="2.7"/>
<circle class="g" cx="231.9" cy="260.1" r="2.7"/>
<circle class="g" cx="216.3" cy="260.0" r="2.7"/>
<circle class="g" cx="152.1" cy="258.4" r="2.7"/>
<circle class="g" cx="187.3" cy="259.6" r="2.7"/>
<circle class="g" cx="102.2" cy="259.2" r="2.7"/>
<circle class="g" cx="136.7" cy="258.5" r="2.7"/>
<circle class="g" cx="135.4" cy="259.2" r="2.7"/>
<circle class="g" cx="178.0" cy="259.8" r="2.7"/>
<circle class="g" cx="158.0" cy="260.4" r="2.7"/>
<circle class="g" cx="266.4" cy="260.2" r="2.7"/>
<circle class="g" cx="234.5" cy="259.7" r="2.7"/>
<circle class="g" cx="193.8" cy="260.0" r="2.7"/>
<circle class="g" cx="148.6" cy="259.6" r="2.7"/>
<circle class="g" cx="231.0" cy="259.4" r="2.7"/>
<circle class="g" cx="128.1" cy="258.6" r="2.7"/>
<circle class="g" cx="76.8" cy="259.1" r="2.7"/>
<circle class="g" cx="205.2" cy="259.9" r="2.7"/>
<circle class="g" cx="240.1" cy="259.0" r="2.7"/>
<circle class="g" cx="296.0" cy="258.9" r="2.7"/>
<circle class="g" cx="240.5" cy="258.5" r="2.7"/>
<circle class="g" cx="250.2" cy="259.7" r="2.7"/>
<circle class="g" cx="303.2" cy="260.2" r="2.7"/>
<circle class="g" cx="233.1" cy="260.1" r="2.7"/>
<circle class="g" cx="246.4" cy="259.6" r="2.7"/>
<circle class="g" cx="108.5" cy="259.4" r="2.7"/>
<circle class="g" cx="287.4" cy="258.9" r="2.7"/>
<circle class="g" cx="307.8" cy="259.5" r="2.7"/>
<circle class="g" cx="156.5" cy="258.4" r="2.7"/>
<circle class="g" cx="155.7" cy="258.8" r="2.7"/>
<circle class="g" cx="224.1" cy="260.2" r="2.7"/>
<circle class="g" cx="291.0" cy="259.6" r="2.7"/>
<circle class="g" cx="154.8" cy="258.6" r="2.7"/>
<circle class="g" cx="233.4" cy="259.5" r="2.7"/>
<circle class="g" cx="240.3" cy="259.1" r="2.7"/>
<circle class="g" cx="285.0" cy="258.8" r="2.7"/>
<circle class="g" cx="133.7" cy="258.9" r="2.7"/>
<circle class="g" cx="216.1" cy="260.2" r="2.7"/>
<circle class="g" cx="97.7" cy="259.7" r="2.7"/>
<circle class="g" cx="253.6" cy="258.8" r="2.7"/>
<circle class="g" cx="70.4" cy="259.5" r="2.7"/>
<circle class="g" cx="270.2" cy="260.2" r="2.7"/>
<circle class="g" cx="243.6" cy="259.2" r="2.7"/>
<circle class="g" cx="164.8" cy="259.5" r="2.7"/>
<circle class="g" cx="289.6" cy="259.0" r="2.7"/>
<circle class="g" cx="127.2" cy="259.6" r="2.7"/>
<circle class="g" cx="305.7" cy="258.8" r="2.7"/>
<circle class="g" cx="62.0" cy="258.6" r="2.7"/>
<circle class="g" cx="200.6" cy="259.6" r="2.7"/>
<circle class="g" cx="102.0" cy="258.8" r="2.7"/>
<circle class="g" cx="208.9" cy="259.7" r="2.7"/>
<circle class="g" cx="233.8" cy="259.9" r="2.7"/>
<circle class="g" cx="70.1" cy="259.4" r="2.7"/>
<circle class="g" cx="271.4" cy="260.3" r="2.7"/>
<circle class="g" cx="137.0" cy="260.1" r="2.7"/>
<circle class="g" cx="222.1" cy="260.3" r="2.7"/>
<circle class="g" cx="113.7" cy="259.8" r="2.7"/>
<circle class="g" cx="273.0" cy="259.4" r="2.7"/>
<circle class="g" cx="80.4" cy="258.8" r="2.7"/>
<circle class="g" cx="94.9" cy="258.6" r="2.7"/>
<circle class="g" cx="93.7" cy="259.6" r="2.7"/>
<circle class="g" cx="81.4" cy="259.9" r="2.7"/>
<circle class="g" cx="245.8" cy="260.0" r="2.7"/>
<circle class="g" cx="263.3" cy="259.8" r="2.7"/>
<circle class="g" cx="294.7" cy="260.3" r="2.7"/>
<circle class="g" cx="216.8" cy="260.3" r="2.7"/>
<circle class="g" cx="81.0" cy="258.6" r="2.7"/>
<circle class="g" cx="70.9" cy="258.8" r="2.7"/>
<circle class="g" cx="151.6" cy="259.3" r="2.7"/>
<circle class="g" cx="231.3" cy="259.9" r="2.7"/>
<circle class="g" cx="75.9" cy="259.2" r="2.7"/>
<circle class="g" cx="195.6" cy="259.1" r="2.7"/>
<circle class="g" cx="84.7" cy="259.6" r="2.7"/>
<circle class="g" cx="151.6" cy="259.8" r="2.7"/>
<circle class="g" cx="183.1" cy="260.3" r="2.7"/>
<circle class="g" cx="300.1" cy="258.5" r="2.7"/>
<circle class="g" cx="251.9" cy="259.8" r="2.7"/>
<circle class="g" cx="131.1" cy="258.6" r="2.7"/>
<circle class="g" cx="178.8" cy="259.1" r="2.7"/>
<circle class="g" cx="246.0" cy="260.2" r="2.7"/>
<circle class="g" cx="153.6" cy="259.0" r="2.7"/>
<circle class="g" cx="183.9" cy="259.8" r="2.7"/>
<circle class="g" cx="259.5" cy="259.6" r="2.7"/>
<circle class="g" cx="131.2" cy="259.1" r="2.7"/>
<circle class="g" cx="274.9" cy="259.4" r="2.7"/>
<circle class="g" cx="67.2" cy="259.2" r="2.7"/>
<circle class="g" cx="116.0" cy="259.7" r="2.7"/>
<circle class="g" cx="73.2" cy="258.9" r="2.7"/>
<circle class="g" cx="79.1" cy="259.4" r="2.7"/>
<circle class="g" cx="310.4" cy="259.5" r="2.7"/>
<circle class="g" cx="154.7" cy="260.3" r="2.7"/>
<circle class="g" cx="78.0" cy="259.1" r="2.7"/>
<circle class="g" cx="265.2" cy="258.4" r="2.7"/>
<circle class="g" cx="253.5" cy="259.1" r="2.7"/>
<circle class="g" cx="58.4" cy="258.9" r="2.7"/>
<circle class="g" cx="173.4" cy="259.2" r="2.7"/>
<circle class="g" cx="188.6" cy="258.5" r="2.7"/>
<circle class="g" cx="111.0" cy="260.3" r="2.7"/>
<circle class="g" cx="169.3" cy="259.3" r="2.7"/>
<circle class="g" cx="76.3" cy="259.0" r="2.7"/>
<circle class="g" cx="302.6" cy="259.8" r="2.7"/>
<circle class="g" cx="186.3" cy="258.5" r="2.7"/>
<circle class="g" cx="156.3" cy="260.0" r="2.7"/>
<circle class="g" cx="167.3" cy="259.6" r="2.7"/>
<circle class="g" cx="289.0" cy="259.7" r="2.7"/>
<circle class="g" cx="219.6" cy="258.5" r="2.7"/>
<circle class="g" cx="60.3" cy="259.9" r="2.7"/>
<circle class="g" cx="161.7" cy="260.1" r="2.7"/>
<circle class="g" cx="269.0" cy="260.2" r="2.7"/>
<circle class="g" cx="152.7" cy="260.4" r="2.7"/>
<circle class="g" cx="251.0" cy="260.2" r="2.7"/>
<circle class="g" cx="92.7" cy="260.0" r="2.7"/>
<circle class="g" cx="164.0" cy="260.3" r="2.7"/>
<circle class="g" cx="312.9" cy="258.8" r="2.7"/>
<circle class="g" cx="163.8" cy="258.9" r="2.7"/>
<circle class="g" cx="176.4" cy="259.0" r="2.7"/>
<circle class="g" cx="227.6" cy="258.6" r="2.7"/>
<circle class="g" cx="98.2" cy="259.3" r="2.7"/>
<circle class="g" cx="73.4" cy="259.2" r="2.7"/>
<circle class="g" cx="287.7" cy="260.2" r="2.7"/>
<circle class="g" cx="105.3" cy="258.4" r="2.7"/>
<circle class="g" cx="269.7" cy="260.3" r="2.7"/>
<circle class="g" cx="210.0" cy="258.7" r="2.7"/>
<circle class="g" cx="115.7" cy="260.2" r="2.7"/>
<circle class="g" cx="298.2" cy="258.5" r="2.7"/>
<circle class="g" cx="102.2" cy="259.3" r="2.7"/>
<circle class="g" cx="123.5" cy="259.9" r="2.7"/>
<circle class="g" cx="151.2" cy="259.9" r="2.7"/>
<circle class="g" cx="93.7" cy="259.4" r="2.7"/>
<circle class="g" cx="307.9" cy="259.8" r="2.7"/>
<circle class="g" cx="77.6" cy="258.6" r="2.7"/>
<circle class="g" cx="221.6" cy="259.1" r="2.7"/>
<circle class="g" cx="150.1" cy="259.4" r="2.7"/>
<circle class="g" cx="205.5" cy="260.3" r="2.7"/>
<circle class="g" cx="116.8" cy="259.5" r="2.7"/>
<circle class="g" cx="122.6" cy="259.5" r="2.7"/>
<circle class="g" cx="244.5" cy="258.7" r="2.7"/>
<circle class="g" cx="179.4" cy="259.8" r="2.7"/>
<circle class="g" cx="56.2" cy="259.9" r="2.7"/>
<circle class="g" cx="163.1" cy="259.4" r="2.7"/>
<circle class="g" cx="213.0" cy="260.0" r="2.7"/>
<circle class="g" cx="68.7" cy="259.4" r="2.7"/>
<circle class="g" cx="64.1" cy="259.2" r="2.7"/>
<circle class="g" cx="144.1" cy="258.4" r="2.7"/>
<circle class="g" cx="131.6" cy="259.3" r="2.7"/>
<circle class="g" cx="224.6" cy="260.2" r="2.7"/>
<circle class="g" cx="150.5" cy="259.5" r="2.7"/>
<circle class="g" cx="239.8" cy="260.3" r="2.7"/>
<circle class="g" cx="301.3" cy="260.4" r="2.7"/>
<circle class="g" cx="132.7" cy="258.7" r="2.7"/>
<circle class="g" cx="296.7" cy="258.6" r="2.7"/>
<circle class="g" cx="170.9" cy="259.9" r="2.7"/>
<circle class="g" cx="191.8" cy="259.2" r="2.7"/>
<circle class="g" cx="294.8" cy="259.0" r="2.7"/>
<circle class="g" cx="197.7" cy="260.1" r="2.7"/>
<circle class="g" cx="90.0" cy="259.1" r="2.7"/>
<circle class="g" cx="182.8" cy="259.5" r="2.7"/>
<circle class="g" cx="108.1" cy="259.3" r="2.7"/>
<circle class="g" cx="69.7" cy="258.6" r="2.7"/>
<circle class="g" cx="143.2" cy="258.7" r="2.7"/>
<circle class="g" cx="306.0" cy="258.9" r="2.7"/>
<circle class="g" cx="125.9" cy="260.0" r="2.7"/>
<circle class="g" cx="247.0" cy="258.9" r="2.7"/>
<circle class="g" cx="270.0" cy="259.7" r="2.7"/>
<circle class="g" cx="155.3" cy="259.7" r="2.7"/>
<circle class="g" cx="118.1" cy="258.9" r="2.7"/>
<circle class="g" cx="282.3" cy="259.3" r="2.7"/>
<circle class="g" cx="287.7" cy="258.8" r="2.7"/>
<circle class="g" cx="89.9" cy="258.5" r="2.7"/>
<circle class="g" cx="246.7" cy="259.5" r="2.7"/>
<circle class="g" cx="56.6" cy="258.5" r="2.7"/>
<circle class="g" cx="268.6" cy="259.4" r="2.7"/>
<circle class="g" cx="280.9" cy="258.5" r="2.7"/>
<circle class="g" cx="207.4" cy="258.6" r="2.7"/>
<circle class="g" cx="241.8" cy="259.6" r="2.7"/>
<circle class="g" cx="213.4" cy="258.8" r="2.7"/>
<circle class="g" cx="301.2" cy="258.6" r="2.7"/>
<circle class="g" cx="70.8" cy="259.8" r="2.7"/>
<circle class="g" cx="78.3" cy="258.5" r="2.7"/>
<circle class="g" cx="173.9" cy="259.7" r="2.7"/>
<circle class="g" cx="286.3" cy="259.8" r="2.7"/>
<circle class="g" cx="72.2" cy="259.7" r="2.7"/>
<circle class="g" cx="273.7" cy="258.6" r="2.7"/>
<circle class="g" cx="250.5" cy="258.9" r="2.7"/>
<circle class="g" cx="131.9" cy="258.4" r="2.7"/>
<circle class="g" cx="251.5" cy="259.4" r="2.7"/>
<circle class="g" cx="288.9" cy="259.3" r="2.7"/>
<circle class="g" cx="94.6" cy="258.8" r="2.7"/>
<circle class="g" cx="122.7" cy="260.3" r="2.7"/>
<circle class="g" cx="107.5" cy="258.6" r="2.7"/>
<circle class="g" cx="145.9" cy="258.6" r="2.7"/>
<circle class="g" cx="164.8" cy="259.6" r="2.7"/>
<circle class="g" cx="223.5" cy="258.7" r="2.7"/>
<circle class="g" cx="90.2" cy="259.4" r="2.7"/>
<circle class="g" cx="233.0" cy="259.3" r="2.7"/>
<circle class="g" cx="203.3" cy="260.2" r="2.7"/>
<circle class="g" cx="91.9" cy="258.9" r="2.7"/>
<circle class="g" cx="182.6" cy="259.5" r="2.7"/>
<circle class="g" cx="288.4" cy="259.5" r="2.7"/>
<circle class="g" cx="226.5" cy="259.2" r="2.7"/>
<circle class="g" cx="258.3" cy="260.1" r="2.7"/>
<circle class="g" cx="130.5" cy="258.6" r="2.7"/>
<circle class="g" cx="121.6" cy="259.1" r="2.7"/>
<circle class="g" cx="285.7" cy="258.9" r="2.7"/>
<circle class="g" cx="217.9" cy="259.7" r="2.7"/>
<circle class="g" cx="303.0" cy="258.6" r="2.7"/>
<circle class="g" cx="254.5" cy="259.1" r="2.7"/>
<circle class="g" cx="80.9" cy="259.7" r="2.7"/>
<circle class="g" cx="273.9" cy="259.6" r="2.7"/>
<circle class="g" cx="67.1" cy="260.3" r="2.7"/>
<circle class="g" cx="154.1" cy="259.7" r="2.7"/>
<circle class="g" cx="242.6" cy="258.9" r="2.7"/>
<circle class="g" cx="160.4" cy="259.1" r="2.7"/>
<circle class="g" cx="79.1" cy="258.5" r="2.7"/>
<circle class="g" cx="240.7" cy="259.2" r="2.7"/>
<circle class="g" cx="280.5" cy="258.5" r="2.7"/>
<circle class="g" cx="132.6" cy="258.8" r="2.7"/>
<circle class="g" cx="299.7" cy="260.0" r="2.7"/>
<circle class="g" cx="287.4" cy="259.4" r="2.7"/>
<circle class="g" cx="81.2" cy="259.2" r="2.7"/>
<circle class="g" cx="113.0" cy="258.5" r="2.7"/>
<circle class="g" cx="201.2" cy="259.0" r="2.7"/>
<circle class="g" cx="82.2" cy="259.4" r="2.7"/>
<circle class="g" cx="297.0" cy="260.3" r="2.7"/>
<circle class="g" cx="175.5" cy="258.6" r="2.7"/>
<circle class="g" cx="254.2" cy="258.6" r="2.7"/>
<circle class="g" cx="194.0" cy="258.6" r="2.7"/>
<circle class="g" cx="311.1" cy="259.5" r="2.7"/>
<circle class="g" cx="168.0" cy="258.9" r="2.7"/>
<circle class="g" cx="197.5" cy="260.3" r="2.7"/>
<circle class="g" cx="165.5" cy="258.8" r="2.7"/>
<circle class="g" cx="188.1" cy="260.2" r="2.7"/>
<circle class="g" cx="153.5" cy="259.7" r="2.7"/>
<circle class="g" cx="293.3" cy="259.0" r="2.7"/>
<circle class="g" cx="265.2" cy="259.5" r="2.7"/>
<circle class="g" cx="90.4" cy="258.5" r="2.7"/>
<circle class="g" cx="298.5" cy="259.3" r="2.7"/>
<circle class="g" cx="169.5" cy="260.2" r="2.7"/>
<circle class="g" cx="203.5" cy="259.4" r="2.7"/>
<circle class="g" cx="128.1" cy="259.9" r="2.7"/>
<circle class="g" cx="120.8" cy="259.3" r="2.7"/>
<circle class="g" cx="251.6" cy="259.6" r="2.7"/>
<circle class="g" cx="89.0" cy="258.8" r="2.7"/>
<circle class="g" cx="235.0" cy="259.9" r="2.7"/>
<circle class="g" cx="80.8" cy="260.4" r="2.7"/>
<circle class="g" cx="88.8" cy="258.7" r="2.7"/>
<circle class="g" cx="77.5" cy="259.3" r="2.7"/>
<circle class="g" cx="215.4" cy="260.1" r="2.7"/>
<circle class="g" cx="96.6" cy="259.8" r="2.7"/>
<circle class="g" cx="81.5" cy="259.6" r="2.7"/>
<circle class="g" cx="119.7" cy="259.1" r="2.7"/>
<circle class="g" cx="67.8" cy="259.8" r="2.7"/>
<circle class="g" cx="85.9" cy="259.9" r="2.7"/>
<circle class="g" cx="141.7" cy="259.6" r="2.7"/>
<circle class="g" cx="220.5" cy="259.4" r="2.7"/>
<circle class="g" cx="281.5" cy="260.2" r="2.7"/>
<circle class="g" cx="127.5" cy="259.1" r="2.7"/>
<circle class="g" cx="282.4" cy="258.7" r="2.7"/>
<circle class="g" cx="163.5" cy="259.2" r="2.7"/>
<circle class="g" cx="308.3" cy="258.7" r="2.7"/>
<circle class="g" cx="224.6" cy="259.9" r="2.7"/>
<circle class="g" cx="243.7" cy="258.4" r="2.7"/>
<circle class="g" cx="299.8" cy="259.0" r="2.7"/>
<circle class="g" cx="276.2" cy="259.7" r="2.7"/>
<circle class="g" cx="163.7" cy="260.1" r="2.7"/>
<circle class="g" cx="230.0" cy="259.1" r="2.7"/>
<circle class="g" cx="244.6" cy="259.4" r="2.7"/>
<circle class="g" cx="239.3" cy="259.6" r="2.7"/>
<circle class="g" cx="261.3" cy="258.7" r="2.7"/>
<circle class="g" cx="182.8" cy="258.4" r="2.7"/>
<circle class="g" cx="260.0" cy="259.9" r="2.7"/>
<circle class="g" cx="272.0" cy="258.5" r="2.7"/>
<circle class="g" cx="193.4" cy="259.4" r="2.7"/>
<circle class="g" cx="85.2" cy="258.8" r="2.7"/>
<circle class="g" cx="307.7" cy="260.1" r="2.7"/>
<circle class="g" cx="116.1" cy="260.1" r="2.7"/>
<circle class="g" cx="223.6" cy="259.2" r="2.7"/>
<circle class="g" cx="221.9" cy="258.9" r="2.7"/>
<circle class="g" cx="125.4" cy="258.4" r="2.7"/>
<circle class="g" cx="225.0" cy="259.6" r="2.7"/>
<circle class="g" cx="247.6" cy="259.4" r="2.7"/>
<circle class="g" cx="167.3" cy="259.0" r="2.7"/>
<circle class="g" cx="245.5" cy="259.1" r="2.7"/>
<circle class="g" cx="209.5" cy="259.9" r="2.7"/>
<circle class="g" cx="169.8" cy="259.8" r="2.7"/>
<circle class="g" cx="70.1" cy="258.9" r="2.7"/>
<circle class="g" cx="272.9" cy="258.7" r="2.7"/>
<circle class="g" cx="68.9" cy="258.4" r="2.7"/>
<circle class="g" cx="253.5" cy="258.6" r="2.7"/>
<circle class="g" cx="173.4" cy="259.3" r="2.7"/>
<circle class="g" cx="263.1" cy="259.4" r="2.7"/>
<circle class="g" cx="189.9" cy="258.4" r="2.7"/>
<circle class="g" cx="261.1" cy="259.9" r="2.7"/>
<circle class="g" cx="216.4" cy="260.1" r="2.7"/>
<circle class="g" cx="214.0" cy="259.8" r="2.7"/>
<circle class="g" cx="275.6" cy="259.6" r="2.7"/>
<circle class="g" cx="59.4" cy="260.2" r="2.7"/>
<circle class="g" cx="311.7" cy="258.8" r="2.7"/>
<circle class="g" cx="71.3" cy="259.1" r="2.7"/>
<circle class="g" cx="80.2" cy="259.1" r="2.7"/>
<circle class="g" cx="77.3" cy="258.8" r="2.7"/>
<circle class="g" cx="55.0" cy="259.3" r="2.7"/>
<circle class="g" cx="132.2" cy="259.9" r="2.7"/>
<circle class="g" cx="155.3" cy="258.7" r="2.7"/>
<circle class="g" cx="302.3" cy="260.2" r="2.7"/>
<circle class="g" cx="233.5" cy="258.8" r="2.7"/>
<circle class="g" cx="158.9" cy="259.3" r="2.7"/>
<circle class="g" cx="160.5" cy="258.5" r="2.7"/>
<circle class="g" cx="172.7" cy="259.9" r="2.7"/>
<circle class="g" cx="234.6" cy="260.1" r="2.7"/>
<circle class="g" cx="231.9" cy="259.9" r="2.7"/>
<circle class="g" cx="280.8" cy="260.2" r="2.7"/>
<circle class="g" cx="260.6" cy="259.2" r="2.7"/>
<circle class="g" cx="225.9" cy="259.7" r="2.7"/>
<circle class="g" cx="283.9" cy="259.8" r="2.7"/>
<circle class="g" cx="169.5" cy="258.8" r="2.7"/>
<circle class="g" cx="139.4" cy="258.9" r="2.7"/>
<circle class="g" cx="231.6" cy="259.9" r="2.7"/>
<circle class="g" cx="104.1" cy="259.5" r="2.7"/>
<circle class="g" cx="272.8" cy="259.1" r="2.7"/>
<circle class="g" cx="78.8" cy="259.6" r="2.7"/>
<circle class="g" cx="148.4" cy="258.7" r="2.7"/>
<circle class="g" cx="129.1" cy="258.4" r="2.7"/>
<circle class="g" cx="92.9" cy="259.2" r="2.7"/>
<circle class="g" cx="81.4" cy="258.4" r="2.7"/>
<circle class="g" cx="197.3" cy="260.3" r="2.7"/>
<circle class="g" cx="271.2" cy="259.1" r="2.7"/>
<circle class="g" cx="294.8" cy="258.6" r="2.7"/>
<circle class="g" cx="93.3" cy="258.4" r="2.7"/>
<circle class="g" cx="69.3" cy="259.6" r="2.7"/>
<circle class="g" cx="251.2" cy="259.4" r="2.7"/>
<circle class="g" cx="263.2" cy="259.3" r="2.7"/>
<circle class="g" cx="293.3" cy="259.6" r="2.7"/>
<circle class="g" cx="193.9" cy="258.7" r="2.7"/>
<circle class="g" cx="165.1" cy="259.3" r="2.7"/>
<circle class="g" cx="268.3" cy="258.9" r="2.7"/>
<circle class="g" cx="130.8" cy="260.0" r="2.7"/>
<circle class="g" cx="72.6" cy="259.5" r="2.7"/>
<circle class="g" cx="111.3" cy="259.7" r="2.7"/>
<circle class="g" cx="208.8" cy="258.6" r="2.7"/>
<circle class="g" cx="244.2" cy="259.2" r="2.7"/>
<circle class="g" cx="137.6" cy="260.1" r="2.7"/>
<circle class="g" cx="256.8" cy="259.0" r="2.7"/>
<circle class="g" cx="230.5" cy="258.6" r="2.7"/>
<circle class="g" cx="189.2" cy="258.6" r="2.7"/>
<circle class="g" cx="220.9" cy="260.2" r="2.7"/>
<circle class="g" cx="219.8" cy="258.5" r="2.7"/>
<circle class="g" cx="187.7" cy="259.3" r="2.7"/>
<circle class="g" cx="169.4" cy="258.7" r="2.7"/>
<circle class="g" cx="126.5" cy="259.3" r="2.7"/>
<circle class="g" cx="72.6" cy="259.7" r="2.7"/>
<circle class="g" cx="117.5" cy="259.0" r="2.7"/>
<circle class="g" cx="77.8" cy="259.0" r="2.7"/>
<circle class="g" cx="296.5" cy="259.0" r="2.7"/>
<circle class="g" cx="79.1" cy="259.1" r="2.7"/>
<circle class="g" cx="300.1" cy="258.6" r="2.7"/>
<circle class="g" cx="143.3" cy="258.8" r="2.7"/>
<circle class="g" cx="231.6" cy="259.3" r="2.7"/>
<circle class="g" cx="79.7" cy="260.1" r="2.7"/>
<circle class="g" cx="139.5" cy="259.8" r="2.7"/>
<circle class="g" cx="172.0" cy="260.1" r="2.7"/>
<circle class="g" cx="69.3" cy="258.9" r="2.7"/>
<circle class="g" cx="128.5" cy="258.9" r="2.7"/>
<circle class="g" cx="268.1" cy="259.4" r="2.7"/>
<circle class="g" cx="144.4" cy="259.4" r="2.7"/>
<circle class="g" cx="274.3" cy="259.5" r="2.7"/>
<circle class="g" cx="171.6" cy="259.7" r="2.7"/>
<circle class="g" cx="214.2" cy="259.2" r="2.7"/>
<circle class="g" cx="165.1" cy="258.7" r="2.7"/>
<circle class="g" cx="168.4" cy="260.2" r="2.7"/>
<circle class="g" cx="133.8" cy="259.1" r="2.7"/>
<circle class="g" cx="211.2" cy="259.6" r="2.7"/>
<circle class="g" cx="99.8" cy="259.3" r="2.7"/>
<circle class="g" cx="245.2" cy="258.5" r="2.7"/>
<circle class="g" cx="82.4" cy="259.9" r="2.7"/>
<circle class="g" cx="289.8" cy="258.5" r="2.7"/>
<circle class="g" cx="75.3" cy="259.7" r="2.7"/>
<circle class="g" cx="128.2" cy="259.7" r="2.7"/>
<circle class="g" cx="63.0" cy="259.3" r="2.7"/>
<circle class="g" cx="96.2" cy="259.1" r="2.7"/>
<circle class="g" cx="234.7" cy="259.4" r="2.7"/>
<circle class="g" cx="276.3" cy="260.1" r="2.7"/>
<circle class="g" cx="215.4" cy="260.1" r="2.7"/>
<circle class="g" cx="100.3" cy="259.3" r="2.7"/>
<circle class="g" cx="137.3" cy="259.6" r="2.7"/>
<circle class="g" cx="83.1" cy="260.2" r="2.7"/>
<circle class="g" cx="150.6" cy="260.0" r="2.7"/>
<circle class="g" cx="299.5" cy="260.3" r="2.7"/>
<circle class="g" cx="155.7" cy="260.1" r="2.7"/>
<circle class="g" cx="313.6" cy="258.7" r="2.7"/>
<circle class="g" cx="248.7" cy="259.9" r="2.7"/>
<circle class="g" cx="173.3" cy="259.0" r="2.7"/>
<circle class="g" cx="99.2" cy="259.2" r="2.7"/>
<circle class="g" cx="296.7" cy="259.2" r="2.7"/>
<circle class="g" cx="120.6" cy="259.6" r="2.7"/>
<circle class="g" cx="168.0" cy="259.6" r="2.7"/>
<circle class="g" cx="172.4" cy="259.0" r="2.7"/>
<circle class="g" cx="63.4" cy="260.0" r="2.7"/>
<circle class="g" cx="225.7" cy="258.9" r="2.7"/>
<circle class="g" cx="184.1" cy="259.6" r="2.7"/>
<circle class="g" cx="185.2" cy="260.2" r="2.7"/>
<circle class="g" cx="256.8" cy="259.0" r="2.7"/>
<circle class="g" cx="142.3" cy="259.6" r="2.7"/>
<circle class="g" cx="96.4" cy="260.3" r="2.7"/>
<circle class="g" cx="65.9" cy="259.4" r="2.7"/>
<circle class="g" cx="125.3" cy="259.5" r="2.7"/>
<circle class="g" cx="66.0" cy="258.8" r="2.7"/>
<circle class="g" cx="311.6" cy="260.0" r="2.7"/>
<circle class="g" cx="111.6" cy="259.3" r="2.7"/>
<circle class="g" cx="62.6" cy="258.6" r="2.7"/>
<circle class="g" cx="104.1" cy="260.4" r="2.7"/>
<circle class="g" cx="135.3" cy="258.9" r="2.7"/>
<circle class="g" cx="71.1" cy="258.6" r="2.7"/>
<circle class="g" cx="313.2" cy="259.9" r="2.7"/>
<circle class="g" cx="293.7" cy="260.1" r="2.7"/>
<circle class="g" cx="257.8" cy="258.9" r="2.7"/>
<circle class="g" cx="98.1" cy="258.9" r="2.7"/>
<circle class="g" cx="71.1" cy="258.7" r="2.7"/>
<circle class="g" cx="241.5" cy="259.4" r="2.7"/>
<circle class="g" cx="56.8" cy="259.0" r="2.7"/>
<circle class="g" cx="275.3" cy="260.1" r="2.7"/>
<circle class="g" cx="244.0" cy="259.9" r="2.7"/>
<circle class="g" cx="291.5" cy="259.5" r="2.7"/>
<circle class="g" cx="153.9" cy="259.5" r="2.7"/>
<circle class="g" cx="127.6" cy="258.5" r="2.7"/>
<circle class="g" cx="121.8" cy="259.3" r="2.7"/>
<circle class="g" cx="85.4" cy="258.6" r="2.7"/>
<circle class="g" cx="118.5" cy="259.1" r="2.7"/>
<circle class="g" cx="303.3" cy="259.4" r="2.7"/>
<circle class="g" cx="272.0" cy="259.9" r="2.7"/>
<circle class="g" cx="208.3" cy="259.0" r="2.7"/>
<circle class="g" cx="156.3" cy="259.0" r="2.7"/>
<circle class="g" cx="219.2" cy="260.1" r="2.7"/>
<circle class="g" cx="259.9" cy="259.0" r="2.7"/>
<circle class="g" cx="93.0" cy="258.4" r="2.7"/>
<circle class="g" cx="206.3" cy="258.9" r="2.7"/>
<circle class="g" cx="55.6" cy="259.0" r="2.7"/>
<circle class="g" cx="113.6" cy="258.8" r="2.7"/>
<circle class="g" cx="227.1" cy="259.6" r="2.7"/>
<circle class="g" cx="127.4" cy="259.9" r="2.7"/>
<circle class="g" cx="107.9" cy="260.2" r="2.7"/>
<circle class="g" cx="85.1" cy="259.6" r="2.7"/>
<circle class="g" cx="237.6" cy="259.9" r="2.7"/>
<circle class="g" cx="180.9" cy="260.1" r="2.7"/>
<circle class="g" cx="217.9" cy="259.8" r="2.7"/>
<circle class="g" cx="74.7" cy="258.8" r="2.7"/>
<circle class="g" cx="175.4" cy="259.5" r="2.7"/>
<circle class="g" cx="78.9" cy="259.9" r="2.7"/>
<circle class="s" cx="89.4" cy="180.6" r="4"/>
<circle class="s" cx="89.6" cy="183.1" r="4"/>
<circle class="s" cx="91.9" cy="180.1" r="4"/>
<circle class="s" cx="94.9" cy="180.5" r="4"/>
<circle class="s" cx="97.4" cy="179.9" r="4"/>
<circle class="s" cx="99.6" cy="179.9" r="4"/>
<circle class="s" cx="100.9" cy="181.6" r="4"/>
<circle class="s" cx="103.1" cy="181.3" r="4"/>
<circle class="s" cx="105.2" cy="178.2" r="4"/>
<circle class="s" cx="107.5" cy="179.7" r="4"/>
<circle class="s" cx="108.4" cy="178.2" r="4"/>
<circle class="s" cx="111.5" cy="179.2" r="4"/>
<circle class="s" cx="113.7" cy="179.5" r="4"/>
<circle class="s" cx="115.8" cy="178.6" r="4"/>
<circle class="s" cx="117.3" cy="178.5" r="4"/>
<circle class="s" cx="118.5" cy="179.3" r="4"/>
<circle class="s" cx="120.6" cy="178.5" r="4"/>
<circle class="s" cx="123.9" cy="177.8" r="4"/>
<circle class="s" cx="155.4" cy="171.5" r="4"/>
<circle class="s" cx="158.3" cy="175.4" r="4"/>
<circle class="s" cx="153.0" cy="174.0" r="4"/>
<circle class="s" cx="174.6" cy="173.5" r="4"/>
<circle class="s" cx="191.0" cy="171.5" r="4"/>
<circle class="s" cx="193.8" cy="173.5" r="4"/>
<circle class="s" cx="192.0" cy="176.0" r="4"/>
<circle class="s" cx="206.3" cy="174.4" r="4"/>
<circle class="s" cx="216.9" cy="173.5" r="4"/>
<circle class="s" cx="229.4" cy="173.5" r="4"/>
<circle class="s" cx="231.3" cy="175.0" r="4"/>
<circle class="s" cx="95.0" cy="202.1" r="4"/>
<circle class="s" cx="99.6" cy="202.1" r="4"/>
<circle class="s" cx="106.5" cy="202.7" r="4"/>
<circle class="s" cx="112.9" cy="201.0" r="4"/>
<circle class="s" cx="120.9" cy="198.7" r="4"/>
<circle class="s" cx="137.1" cy="196.3" r="4"/>
<circle class="s" cx="91.5" cy="211.3" r="4"/>
<circle class="s" cx="91.5" cy="214.2" r="4"/>
<circle class="s" cx="92.0" cy="251.5" r="4"/>
<circle class="s" cx="95.5" cy="252.0" r="4"/>
<circle class="s" cx="99.0" cy="251.5" r="4"/>
<circle class="s" cx="102.0" cy="252.0" r="4"/>
<circle class="s" cx="110.0" cy="251.5" r="4"/>
<circle class="s" cx="113.0" cy="251.8" r="4"/>
<rect x="42.5" y="161.5" width="283.3" height="103.0" fill="none" stroke="#c6c6c6" stroke-width="1.1"/>
<line x1="39.8" y1="260.5" x2="42.5" y2="260.5" stroke="#333" stroke-width="1.0"/>
<text x="37.9" y="263.4" font-family="Liberation Sans, sans-serif" font-size="8.1" fill="#262626" stroke="#262626" stroke-width="0.22" text-anchor="end">0.00</text>
<line x1="39.8" y1="236.4" x2="42.5" y2="236.4" stroke="#333" stroke-width="1.0"/>
<text x="37.9" y="239.3" font-family="Liberation Sans, sans-serif" font-size="8.1" fill="#262626" stroke="#262626" stroke-width="0.22" text-anchor="end">0.25</text>
<line x1="39.8" y1="212.3" x2="42.5" y2="212.3" stroke="#333" stroke-width="1.0"/>
<text x="37.9" y="215.2" font-family="Liberation Sans, sans-serif" font-size="8.1" fill="#262626" stroke="#262626" stroke-width="0.22" text-anchor="end">0.50</text>
<line x1="39.8" y1="188.2" x2="42.5" y2="188.2" stroke="#333" stroke-width="1.0"/>
<text x="37.9" y="191.1" font-family="Liberation Sans, sans-serif" font-size="8.1" fill="#262626" stroke="#262626" stroke-width="0.22" text-anchor="end">0.75</text>
<line x1="39.8" y1="164.1" x2="42.5" y2="164.1" stroke="#333" stroke-width="1.0"/>
<text x="37.9" y="167.0" font-family="Liberation Sans, sans-serif" font-size="8.1" fill="#262626" stroke="#262626" stroke-width="0.22" text-anchor="end">1.00</text>
<line x1="127.8" y1="264.5" x2="127.8" y2="267.2" stroke="#333" stroke-width="1.0"/>
<text x="127.8" y="275.9" font-family="Liberation Sans, sans-serif" font-size="8" fill="#262626" stroke="#262626" stroke-width="0.22" text-anchor="middle">152200000</text>
<line x1="222.6" y1="264.5" x2="222.6" y2="267.2" stroke="#333" stroke-width="1.0"/>
<text x="222.6" y="275.9" font-family="Liberation Sans, sans-serif" font-size="8" fill="#262626" stroke="#262626" stroke-width="0.22" text-anchor="middle">152300000</text>
<line x1="317.5" y1="264.5" x2="317.5" y2="267.2" stroke="#333" stroke-width="1.0"/>
<text x="317.5" y="275.9" font-family="Liberation Sans, sans-serif" font-size="8" fill="#262626" stroke="#262626" stroke-width="0.22" text-anchor="middle">152400000</text>
<text transform="translate(12.6,208.9) rotate(-90)" font-family="Liberation Sans, sans-serif" font-size="14" fill="#111" stroke="#111" stroke-width="0.45" letter-spacing="0.2" text-anchor="middle">LD R<tspan font-size="9.8" dy="-4.6">2</tspan></text>
<rect x="42.5" y="298" width="276.9" height="103.0" fill="#ffffff"/>
<line x1="79.6" y1="298" x2="79.6" y2="401" stroke="#f8f8f8" stroke-width="0.5"/>
<line x1="125.9" y1="298" x2="125.9" y2="401" stroke="#f1f1f1" stroke-width="0.8"/>
<line x1="172.2" y1="298" x2="172.2" y2="401" stroke="#f8f8f8" stroke-width="0.5"/>
<line x1="218.5" y1="298" x2="218.5" y2="401" stroke="#f1f1f1" stroke-width="0.8"/>
<line x1="264.8" y1="298" x2="264.8" y2="401" stroke="#f8f8f8" stroke-width="0.5"/>
<line x1="311.1" y1="298" x2="311.1" y2="401" stroke="#f1f1f1" stroke-width="0.8"/>
<line x1="42.5" y1="396.9" x2="319.4" y2="396.9" stroke="#f1f1f1" stroke-width="0.8"/>
<line x1="42.5" y1="384.9" x2="319.4" y2="384.9" stroke="#f8f8f8" stroke-width="0.5"/>
<line x1="42.5" y1="372.8" x2="319.4" y2="372.8" stroke="#f1f1f1" stroke-width="0.8"/>
<line x1="42.5" y1="360.8" x2="319.4" y2="360.8" stroke="#f8f8f8" stroke-width="0.5"/>
<line x1="42.5" y1="348.8" x2="319.4" y2="348.8" stroke="#f1f1f1" stroke-width="0.8"/>
<line x1="42.5" y1="336.7" x2="319.4" y2="336.7" stroke="#f8f8f8" stroke-width="0.5"/>
<line x1="42.5" y1="324.7" x2="319.4" y2="324.7" stroke="#f1f1f1" stroke-width="0.8"/>
<line x1="42.5" y1="312.6" x2="319.4" y2="312.6" stroke="#f8f8f8" stroke-width="0.5"/>
<line x1="42.5" y1="300.6" x2="319.4" y2="300.6" stroke="#f1f1f1" stroke-width="0.8"/>
<g id="pts2"></g>
<circle class="g" cx="111.6" cy="313.4" r="2.7"/>
<circle class="g" cx="117.7" cy="313.0" r="2.7"/>
<circle class="g" cx="115.8" cy="313.3" r="2.7"/>
<circle class="g" cx="90.5" cy="316.6" r="2.7"/>
<circle class="g" cx="123.0" cy="310.6" r="2.7"/>
<circle class="g" cx="121.5" cy="308.5" r="2.7"/>
<circle class="g" cx="106.2" cy="312.4" r="2.7"/>
<circle class="g" cx="108.8" cy="313.2" r="2.7"/>
<circle class="g" cx="90.0" cy="315.7" r="2.7"/>
<circle class="g" cx="99.4" cy="316.7" r="2.7"/>
<circle class="g" cx="116.7" cy="309.8" r="2.7"/>
<circle class="g" cx="117.8" cy="309.4" r="2.7"/>
<circle class="g" cx="111.4" cy="310.7" r="2.7"/>
<circle class="g" cx="89.6" cy="318.6" r="2.7"/>
<circle class="g" cx="96.9" cy="314.2" r="2.7"/>
<circle class="g" cx="124.4" cy="311.3" r="2.7"/>
<circle class="g" cx="99.8" cy="316.9" r="2.7"/>
<circle class="g" cx="108.6" cy="313.7" r="2.7"/>
<circle class="g" cx="96.8" cy="317.4" r="2.7"/>
<circle class="g" cx="114.0" cy="313.9" r="2.7"/>
<circle class="g" cx="121.2" cy="309.4" r="2.7"/>
<circle class="g" cx="102.3" cy="312.8" r="2.7"/>
<circle class="g" cx="94.7" cy="314.0" r="2.7"/>
<circle class="g" cx="100.2" cy="315.2" r="2.7"/>
<circle class="g" cx="89.6" cy="317.8" r="2.7"/>
<circle class="g" cx="101.5" cy="313.6" r="2.7"/>
<circle class="g" cx="118.6" cy="310.8" r="2.7"/>
<circle class="g" cx="100.7" cy="314.5" r="2.7"/>
<circle class="g" cx="114.5" cy="309.8" r="2.7"/>
<circle class="g" cx="124.1" cy="307.6" r="2.7"/>
<circle class="g" cx="116.1" cy="312.9" r="2.7"/>
<circle class="g" cx="90.1" cy="318.1" r="2.7"/>
<circle class="g" cx="102.5" cy="314.6" r="2.7"/>
<circle class="g" cx="89.8" cy="314.9" r="2.7"/>
<circle class="g" cx="95.9" cy="317.6" r="2.7"/>
<circle class="g" cx="96.5" cy="316.7" r="2.7"/>
<circle class="g" cx="122.5" cy="312.0" r="2.7"/>
<circle class="g" cx="101.7" cy="313.8" r="2.7"/>
<circle class="g" cx="108.1" cy="314.3" r="2.7"/>
<circle class="g" cx="93.3" cy="317.3" r="2.7"/>
<circle class="g" cx="209.9" cy="310.0" r="2.7"/>
<circle class="g" cx="127.0" cy="310.2" r="2.7"/>
<circle class="g" cx="132.9" cy="308.3" r="2.7"/>
<circle class="g" cx="189.6" cy="310.1" r="2.7"/>
<circle class="g" cx="160.1" cy="310.2" r="2.7"/>
<circle class="g" cx="182.4" cy="308.2" r="2.7"/>
<circle class="g" cx="157.5" cy="307.8" r="2.7"/>
<circle class="g" cx="131.5" cy="307.7" r="2.7"/>
<circle class="g" cx="198.1" cy="310.4" r="2.7"/>
<circle class="g" cx="140.6" cy="307.4" r="2.7"/>
<circle class="g" cx="230.6" cy="308.9" r="2.7"/>
<circle class="g" cx="167.2" cy="308.0" r="2.7"/>
<circle class="g" cx="187.7" cy="309.8" r="2.7"/>
<circle class="g" cx="172.7" cy="308.5" r="2.7"/>
<circle class="g" cx="129.1" cy="310.1" r="2.7"/>
<circle class="g" cx="126.6" cy="308.8" r="2.7"/>
<circle class="g" cx="214.4" cy="307.6" r="2.7"/>
<circle class="g" cx="202.8" cy="310.2" r="2.7"/>
<circle class="g" cx="191.7" cy="309.7" r="2.7"/>
<circle class="g" cx="134.6" cy="308.6" r="2.7"/>
<circle class="g" cx="139.3" cy="309.9" r="2.7"/>
<circle class="g" cx="155.1" cy="308.7" r="2.7"/>
<circle class="g" cx="231.9" cy="309.9" r="2.7"/>
<circle class="g" cx="229.4" cy="308.7" r="2.7"/>
<circle class="g" cx="176.2" cy="309.5" r="2.7"/>
<circle class="g" cx="175.2" cy="308.1" r="2.7"/>
<circle class="g" cx="167.0" cy="307.7" r="2.7"/>
<circle class="g" cx="164.1" cy="310.4" r="2.7"/>
<circle class="g" cx="227.6" cy="309.2" r="2.7"/>
<circle class="g" cx="177.4" cy="308.3" r="2.7"/>
<circle class="g" cx="132.7" cy="308.1" r="2.7"/>
<circle class="g" cx="208.2" cy="310.0" r="2.7"/>
<circle class="g" cx="162.4" cy="309.7" r="2.7"/>
<circle class="g" cx="207.5" cy="309.4" r="2.7"/>
<circle class="g" cx="195.4" cy="309.6" r="2.7"/>
<circle class="g" cx="162.6" cy="309.5" r="2.7"/>
<circle class="g" cx="153.6" cy="308.8" r="2.7"/>
<circle class="g" cx="206.9" cy="309.4" r="2.7"/>
<circle class="g" cx="155.0" cy="310.2" r="2.7"/>
<circle class="g" cx="193.8" cy="309.1" r="2.7"/>
<circle class="g" cx="124.3" cy="309.0" r="2.7"/>
<circle class="g" cx="150.3" cy="309.3" r="2.7"/>
<circle class="g" cx="173.5" cy="309.8" r="2.7"/>
<circle class="g" cx="193.6" cy="309.8" r="2.7"/>
<circle class="g" cx="160.9" cy="309.3" r="2.7"/>
<circle class="g" cx="203.4" cy="309.9" r="2.7"/>
<circle class="g" cx="161.2" cy="309.9" r="2.7"/>
<circle class="g" cx="217.8" cy="309.4" r="2.7"/>
<circle class="g" cx="229.4" cy="310.3" r="2.7"/>
<circle class="g" cx="179.5" cy="308.9" r="2.7"/>
<circle class="g" cx="141.1" cy="309.9" r="2.7"/>
<circle class="g" cx="225.2" cy="308.7" r="2.7"/>
<circle class="g" cx="198.4" cy="309.5" r="2.7"/>
<circle class="g" cx="202.6" cy="307.7" r="2.7"/>
<circle class="g" cx="208.1" cy="309.1" r="2.7"/>
<circle class="g" cx="195.5" cy="308.5" r="2.7"/>
<circle class="g" cx="191.0" cy="309.7" r="2.7"/>
<circle class="g" cx="192.4" cy="309.5" r="2.7"/>
<circle class="g" cx="126.0" cy="307.7" r="2.7"/>
<circle class="g" cx="171.1" cy="309.3" r="2.7"/>
<circle class="g" cx="146.9" cy="309.4" r="2.7"/>
<circle class="g" cx="191.8" cy="307.3" r="2.7"/>
<circle class="g" cx="174.4" cy="307.9" r="2.7"/>
<circle class="g" cx="128.9" cy="307.6" r="2.7"/>
<circle class="g" cx="157.6" cy="307.8" r="2.7"/>
<circle class="g" cx="144.1" cy="307.3" r="2.7"/>
<circle class="g" cx="173.7" cy="308.4" r="2.7"/>
<circle class="g" cx="189.7" cy="309.1" r="2.7"/>
<circle class="g" cx="148.9" cy="310.1" r="2.7"/>
<circle class="g" cx="123.1" cy="308.5" r="2.7"/>
<circle class="g" cx="153.4" cy="308.5" r="2.7"/>
<circle class="g" cx="135.5" cy="309.9" r="2.7"/>
<circle class="g" cx="163.8" cy="307.3" r="2.7"/>
<circle class="g" cx="189.9" cy="307.5" r="2.7"/>
<circle class="g" cx="182.4" cy="308.3" r="2.7"/>
<circle class="g" cx="186.3" cy="310.3" r="2.7"/>
<circle class="g" cx="212.2" cy="308.5" r="2.7"/>
<circle class="g" cx="211.6" cy="309.3" r="2.7"/>
<circle class="g" cx="163.3" cy="307.7" r="2.7"/>
<circle class="g" cx="188.0" cy="309.0" r="2.7"/>
<circle class="g" cx="227.3" cy="310.3" r="2.7"/>
<circle class="g" cx="189.3" cy="308.3" r="2.7"/>
<circle class="g" cx="220.4" cy="307.2" r="2.7"/>
<circle class="g" cx="134.8" cy="309.0" r="2.7"/>
<circle class="g" cx="190.1" cy="307.7" r="2.7"/>
<circle class="g" cx="191.6" cy="310.1" r="2.7"/>
<circle class="g" cx="164.0" cy="308.6" r="2.7"/>
<circle class="g" cx="147.7" cy="308.1" r="2.7"/>
<circle class="g" cx="229.0" cy="308.4" r="2.7"/>
<circle class="g" cx="227.8" cy="310.1" r="2.7"/>
<circle class="g" cx="187.9" cy="308.0" r="2.7"/>
<circle class="g" cx="229.9" cy="308.8" r="2.7"/>
<circle class="g" cx="168.3" cy="308.2" r="2.7"/>
<circle class="g" cx="230.3" cy="308.8" r="2.7"/>
<circle class="g" cx="154.2" cy="308.7" r="2.7"/>
<circle class="g" cx="136.3" cy="309.2" r="2.7"/>
<circle class="g" cx="171.3" cy="308.1" r="2.7"/>
<circle class="g" cx="208.2" cy="309.8" r="2.7"/>
<circle class="g" cx="124.4" cy="308.9" r="2.7"/>
<circle class="g" cx="152.8" cy="310.2" r="2.7"/>
<circle class="g" cx="208.2" cy="308.0" r="2.7"/>
<circle class="g" cx="152.2" cy="307.7" r="2.7"/>
<circle class="g" cx="230.8" cy="308.1" r="2.7"/>
<circle class="g" cx="189.3" cy="308.7" r="2.7"/>
<circle class="g" cx="193.3" cy="309.1" r="2.7"/>
<circle class="g" cx="204.0" cy="307.6" r="2.7"/>
<circle class="g" cx="205.9" cy="308.2" r="2.7"/>
<circle class="g" cx="181.2" cy="308.3" r="2.7"/>
<circle class="g" cx="155.4" cy="308.9" r="2.7"/>
<circle class="g" cx="173.6" cy="308.4" r="2.7"/>
<circle class="g" cx="204.2" cy="309.1" r="2.7"/>
<circle class="g" cx="127.0" cy="308.0" r="2.7"/>
<circle class="g" cx="172.7" cy="310.1" r="2.7"/>
<circle class="g" cx="219.8" cy="308.9" r="2.7"/>
<circle class="g" cx="124.6" cy="309.7" r="2.7"/>
<circle class="g" cx="169.6" cy="309.0" r="2.7"/>
<circle class="g" cx="200.2" cy="309.2" r="2.7"/>
<circle class="g" cx="175.5" cy="310.1" r="2.7"/>
<circle class="g" cx="165.0" cy="308.5" r="2.7"/>
<circle class="g" cx="215.9" cy="307.8" r="2.7"/>
<circle class="g" cx="155.3" cy="309.9" r="2.7"/>
<circle class="g" cx="130.2" cy="309.9" r="2.7"/>
<circle class="g" cx="198.7" cy="308.6" r="2.7"/>
<circle class="g" cx="154.2" cy="309.7" r="2.7"/>
<circle class="g" cx="222.3" cy="307.7" r="2.7"/>
<circle class="g" cx="175.1" cy="309.0" r="2.7"/>
<circle class="g" cx="177.2" cy="308.3" r="2.7"/>
<circle class="g" cx="139.7" cy="309.1" r="2.7"/>
<circle class="g" cx="211.5" cy="307.4" r="2.7"/>
<circle class="g" cx="148.1" cy="309.8" r="2.7"/>
<circle class="g" cx="209.3" cy="309.3" r="2.7"/>
<circle class="g" cx="125.8" cy="309.5" r="2.7"/>
<circle class="g" cx="229.7" cy="310.4" r="2.7"/>
<circle class="g" cx="199.4" cy="307.4" r="2.7"/>
<circle class="g" cx="214.8" cy="307.9" r="2.7"/>
<circle class="g" cx="193.4" cy="310.2" r="2.7"/>
<circle class="g" cx="200.7" cy="307.6" r="2.7"/>
<circle class="g" cx="154.9" cy="310.1" r="2.7"/>
<circle class="g" cx="139.3" cy="309.2" r="2.7"/>
<circle class="g" cx="168.1" cy="307.7" r="2.7"/>
<circle class="g" cx="190.8" cy="307.3" r="2.7"/>
<circle class="g" cx="134.8" cy="308.4" r="2.7"/>
<circle class="g" cx="130.8" cy="307.4" r="2.7"/>
<circle class="g" cx="185.7" cy="309.6" r="2.7"/>
<circle class="g" cx="218.8" cy="307.6" r="2.7"/>
<circle class="g" cx="170.1" cy="308.2" r="2.7"/>
<circle class="g" cx="188.4" cy="308.8" r="2.7"/>
<circle class="g" cx="225.3" cy="308.4" r="2.7"/>
<circle class="g" cx="129.1" cy="309.4" r="2.7"/>
<circle class="g" cx="139.5" cy="309.2" r="2.7"/>
<circle class="g" cx="178.1" cy="310.1" r="2.7"/>
<circle class="g" cx="183.5" cy="309.2" r="2.7"/>
<circle class="g" cx="151.7" cy="309.0" r="2.7"/>
<circle class="g" cx="150.7" cy="309.6" r="2.7"/>
<circle class="g" cx="179.4" cy="307.6" r="2.7"/>
<circle class="g" cx="148.6" cy="308.4" r="2.7"/>
<circle class="g" cx="203.3" cy="307.8" r="2.7"/>
<circle class="g" cx="200.7" cy="309.3" r="2.7"/>
<circle class="g" cx="132.3" cy="309.3" r="2.7"/>
<circle class="g" cx="132.9" cy="307.6" r="2.7"/>
<circle class="g" cx="187.7" cy="308.0" r="2.7"/>
<circle class="g" cx="218.6" cy="308.7" r="2.7"/>
<circle class="g" cx="158.2" cy="309.7" r="2.7"/>
<circle class="g" cx="126.2" cy="309.5" r="2.7"/>
<circle class="g" cx="128.8" cy="307.7" r="2.7"/>
<circle class="g" cx="226.8" cy="309.4" r="2.7"/>
<circle class="g" cx="147.3" cy="307.6" r="2.7"/>
<circle class="g" cx="229.0" cy="309.3" r="2.7"/>
<circle class="g" cx="212.4" cy="307.6" r="2.7"/>
<circle class="g" cx="191.1" cy="308.3" r="2.7"/>
<circle class="g" cx="148.6" cy="308.3" r="2.7"/>
<circle class="g" cx="189.9" cy="308.3" r="2.7"/>
<circle class="g" cx="165.0" cy="307.6" r="2.7"/>
<circle class="g" cx="213.6" cy="309.3" r="2.7"/>
<circle class="g" cx="210.7" cy="308.6" r="2.7"/>
<circle class="g" cx="215.8" cy="308.9" r="2.7"/>
<circle class="g" cx="187.6" cy="309.0" r="2.7"/>
<circle class="g" cx="203.7" cy="308.5" r="2.7"/>
<circle class="g" cx="133.6" cy="307.3" r="2.7"/>
<circle class="g" cx="145.1" cy="307.3" r="2.7"/>
<circle class="g" cx="219.9" cy="308.7" r="2.7"/>
<circle class="g" cx="205.9" cy="307.2" r="2.7"/>
<circle class="g" cx="174.3" cy="310.0" r="2.7"/>
<circle class="g" cx="190.5" cy="308.6" r="2.7"/>
<circle class="g" cx="173.7" cy="307.5" r="2.7"/>
<circle class="g" cx="139.9" cy="307.7" r="2.7"/>
<circle class="g" cx="163.8" cy="308.4" r="2.7"/>
<circle class="g" cx="219.0" cy="307.7" r="2.7"/>
<circle class="g" cx="150.7" cy="308.1" r="2.7"/>
<circle class="g" cx="140.6" cy="308.1" r="2.7"/>
<circle class="g" cx="93.8" cy="309.8" r="2.7"/>
<circle class="g" cx="103.1" cy="307.5" r="2.7"/>
<circle class="g" cx="109.4" cy="307.5" r="2.7"/>
<circle class="g" cx="118.1" cy="305.8" r="2.7"/>
<circle class="g" cx="122.7" cy="302.9" r="2.7"/>
<circle class="g" cx="126.7" cy="302.2" r="2.7"/>
<circle class="g" cx="131.4" cy="302.6" r="2.7"/>
<circle class="g" cx="136.8" cy="302.6" r="2.7"/>
<circle class="g" cx="142.2" cy="302.4" r="2.7"/>
<circle class="g" cx="147.0" cy="302.6" r="2.7"/>
<circle class="g" cx="151.5" cy="302.4" r="2.7"/>
<circle class="g" cx="156.7" cy="302.4" r="2.7"/>
<circle class="g" cx="162.3" cy="301.9" r="2.7"/>
<circle class="g" cx="166.6" cy="301.7" r="2.7"/>
<circle class="g" cx="171.7" cy="301.8" r="2.7"/>
<circle class="g" cx="176.9" cy="302.7" r="2.7"/>
<circle class="g" cx="181.8" cy="302.0" r="2.7"/>
<circle class="g" cx="187.0" cy="302.0" r="2.7"/>
<circle class="g" cx="192.3" cy="302.4" r="2.7"/>
<circle class="g" cx="196.6" cy="301.9" r="2.7"/>
<circle class="g" cx="202.2" cy="302.6" r="2.7"/>
<circle class="g" cx="207.2" cy="302.1" r="2.7"/>
<circle class="g" cx="212.6" cy="301.7" r="2.7"/>
<circle class="g" cx="216.5" cy="302.5" r="2.7"/>
<circle class="g" cx="221.9" cy="301.7" r="2.7"/>
<circle class="g" cx="227.1" cy="302.7" r="2.7"/>
<circle class="g" cx="232.0" cy="302.1" r="2.7"/>
<circle class="g" cx="89.5" cy="317.0" r="2.7"/>
<circle class="g" cx="91.0" cy="319.0" r="2.7"/>
<circle class="g" cx="96.0" cy="319.5" r="2.7"/>
<circle class="g" cx="102.0" cy="319.0" r="2.7"/>
<circle class="g" cx="108.0" cy="318.0" r="2.7"/>
<circle class="g" cx="139.6" cy="316.8" r="2.7"/>
<circle class="g" cx="155.2" cy="318.5" r="2.7"/>
<circle class="g" cx="213.1" cy="312.1" r="2.7"/>
<circle class="g" cx="220.6" cy="312.0" r="2.7"/>
<circle class="g" cx="226.9" cy="311.0" r="2.7"/>
<circle class="g" cx="94.5" cy="338.7" r="2.7"/>
<circle class="g" cx="97.4" cy="338.7" r="2.7"/>
<circle class="g" cx="90.4" cy="347.9" r="2.7"/>
<circle class="g" cx="90.4" cy="350.8" r="2.7"/>
<circle class="g" cx="76.6" cy="357.1" r="2.7"/>
<circle class="g" cx="74.3" cy="362.3" r="2.7"/>
<circle class="g" cx="76.6" cy="367.5" r="2.7"/>
<circle class="g" cx="87.0" cy="362.9" r="2.7"/>
<circle class="g" cx="88.7" cy="366.9" r="2.7"/>
<circle class="g" cx="104.6" cy="339.2" r="2.7"/>
<circle class="g" cx="111.0" cy="337.5" r="2.7"/>
<circle class="g" cx="113.3" cy="334.0" r="2.7"/>
<circle class="g" cx="119.0" cy="335.8" r="2.7"/>
<circle class="g" cx="121.9" cy="334.0" r="2.7"/>
<circle class="g" cx="134.6" cy="332.9" r="2.7"/>
<circle class="g" cx="138.1" cy="332.9" r="2.7"/>
<circle class="g" cx="141.5" cy="332.9" r="2.7"/>
<circle class="g" cx="113.3" cy="351.9" r="2.7"/>
<circle class="g" cx="115.6" cy="362.3" r="2.7"/>
<circle class="g" cx="129.4" cy="358.8" r="2.7"/>
<circle class="g" cx="144.4" cy="358.8" r="2.7"/>
<circle class="g" cx="153.6" cy="358.8" r="2.7"/>
<circle class="g" cx="153.2" cy="358.8" r="2.7"/>
<circle class="g" cx="131.7" cy="369.9" r="2.7"/>
<circle class="g" cx="139.2" cy="374.0" r="2.7"/>
<circle class="g" cx="162.3" cy="330.3" r="2.7"/>
<circle class="g" cx="185.6" cy="335.2" r="2.7"/>
<circle class="g" cx="186.3" cy="326.6" r="2.7"/>
<circle class="g" cx="198.1" cy="326.0" r="2.7"/>
<circle class="g" cx="198.3" cy="331.2" r="2.7"/>
<circle class="g" cx="201.1" cy="331.0" r="2.7"/>
<circle class="g" cx="198.3" cy="336.9" r="2.7"/>
<circle class="g" cx="201.1" cy="344.4" r="2.7"/>
<circle class="g" cx="196.5" cy="347.3" r="2.7"/>
<circle class="g" cx="201.1" cy="351.9" r="2.7"/>
<circle class="g" cx="200.6" cy="357.1" r="2.7"/>
<circle class="g" cx="197.7" cy="360.6" r="2.7"/>
<circle class="g" cx="196.5" cy="362.9" r="2.7"/>
<circle class="g" cx="201.1" cy="366.9" r="2.7"/>
<circle class="g" cx="162.5" cy="360.6" r="2.7"/>
<circle class="g" cx="180.4" cy="358.8" r="2.7"/>
<circle class="g" cx="191.3" cy="358.8" r="2.7"/>
<circle class="g" cx="186.7" cy="370.5" r="2.7"/>
<circle class="g" cx="230.8" cy="355.4" r="2.7"/>
<circle class="g" cx="219.8" cy="369.3" r="2.7"/>
<circle class="g" cx="283.3" cy="352.9" r="2.7"/>
<circle class="g" cx="282.8" cy="363.8" r="2.7"/>
<circle class="g" cx="170.0" cy="374.5" r="2.7"/>
<circle class="g" cx="197.7" cy="375.7" r="2.7"/>
<circle class="g" cx="205.2" cy="375.1" r="2.7"/>
<circle class="g" cx="205.7" cy="381.5" r="2.7"/>
<circle class="g" cx="198.8" cy="382.6" r="2.7"/>
<circle class="g" cx="72.6" cy="381.1" r="2.7"/>
<circle class="g" cx="70.3" cy="384.0" r="2.7"/>
<circle class="g" cx="65.1" cy="384.6" r="2.7"/>
<circle class="g" cx="60.5" cy="388.1" r="2.7"/>
<circle class="g" cx="56.4" cy="390.4" r="2.7"/>
<circle class="g" cx="62.8" cy="390.0" r="2.7"/>
<circle class="g" cx="68.5" cy="390.0" r="2.7"/>
<circle class="g" cx="75.4" cy="389.8" r="2.7"/>
<circle class="g" cx="71.4" cy="388.0" r="2.7"/>
<circle class="g" cx="90.4" cy="381.7" r="2.7"/>
<circle class="g" cx="96.2" cy="378.8" r="2.7"/>
<circle class="g" cx="98.5" cy="381.7" r="2.7"/>
<circle class="g" cx="90.4" cy="387.5" r="2.7"/>
<circle class="g" cx="96.2" cy="387.5" r="2.7"/>
<circle class="g" cx="99.7" cy="387.5" r="2.7"/>
<circle class="g" cx="84.7" cy="391.5" r="2.7"/>
<circle class="g" cx="112.7" cy="376.3" r="2.7"/>
<circle class="g" cx="126.5" cy="378.6" r="2.7"/>
<circle class="g" cx="102.9" cy="380.9" r="2.7"/>
<circle class="g" cx="112.7" cy="382.0" r="2.7"/>
<circle class="g" cx="115.7" cy="382.0" r="2.7"/>
<circle class="g" cx="118.7" cy="382.0" r="2.7"/>
<circle class="g" cx="121.7" cy="382.0" r="2.7"/>
<circle class="g" cx="106.3" cy="387.2" r="2.7"/>
<circle class="g" cx="109.2" cy="387.2" r="2.7"/>
<circle class="g" cx="112.7" cy="387.2" r="2.7"/>
<circle class="g" cx="102.3" cy="387.2" r="2.7"/>
<circle class="g" cx="115.0" cy="389.0" r="2.7"/>
<circle class="g" cx="133.4" cy="387.2" r="2.7"/>
<circle class="g" cx="136.9" cy="390.1" r="2.7"/>
<circle class="g" cx="152.5" cy="382.0" r="2.7"/>
<circle class="g" cx="159.0" cy="382.0" r="2.7"/>
<circle class="g" cx="161.9" cy="382.0" r="2.7"/>
<circle class="g" cx="149.6" cy="386.6" r="2.7"/>
<circle class="g" cx="155.9" cy="390.1" r="2.7"/>
<circle class="g" cx="150.7" cy="389.0" r="2.7"/>
<circle class="g" cx="170.6" cy="385.5" r="2.7"/>
<circle class="g" cx="173.5" cy="390.1" r="2.7"/>
<circle class="g" cx="156.2" cy="390.1" r="2.7"/>
<circle class="g" cx="189.6" cy="389.0" r="2.7"/>
<circle class="g" cx="196.5" cy="389.0" r="2.7"/>
<circle class="g" cx="203.4" cy="390.0" r="2.7"/>
<circle class="g" cx="150.0" cy="390.5" r="2.7"/>
<circle class="g" cx="154.0" cy="390.5" r="2.7"/>
<circle class="g" cx="158.0" cy="390.0" r="2.7"/>
<circle class="g" cx="164.0" cy="391.0" r="2.7"/>
<circle class="g" cx="171.0" cy="390.5" r="2.7"/>
<circle class="g" cx="179.0" cy="391.0" r="2.7"/>
<circle class="g" cx="190.0" cy="390.0" r="2.7"/>
<circle class="g" cx="194.0" cy="390.5" r="2.7"/>
<circle class="g" cx="198.0" cy="390.0" r="2.7"/>
<circle class="g" cx="203.0" cy="390.5" r="2.7"/>
<circle class="g" cx="207.0" cy="390.0" r="2.7"/>
<circle class="g" cx="211.0" cy="390.5" r="2.7"/>
<circle class="g" cx="244.6" cy="381.5" r="2.7"/>
<circle class="g" cx="229.6" cy="388.4" r="2.7"/>
<circle class="g" cx="237.7" cy="387.2" r="2.7"/>
<circle class="g" cx="240.6" cy="387.2" r="2.7"/>
<circle class="g" cx="243.4" cy="389.0" r="2.7"/>
<circle class="g" cx="249.8" cy="391.3" r="2.7"/>
<circle class="g" cx="259.0" cy="377.4" r="2.7"/>
<circle class="g" cx="267.7" cy="387.8" r="2.7"/>
<circle class="g" cx="267.2" cy="387.8" r="2.7"/>
<circle class="g" cx="281.0" cy="387.2" r="2.7"/>
<circle class="g" cx="281.0" cy="389.5" r="2.7"/>
<circle class="g" cx="229.0" cy="370.3" r="2.7"/>
<circle class="g" cx="232.5" cy="370.3" r="2.7"/>
<circle class="g" cx="236.0" cy="370.3" r="2.7"/>
<circle class="g" cx="239.5" cy="370.3" r="2.7"/>
<circle class="g" cx="243.0" cy="370.3" r="2.7"/>
<circle class="g" cx="246.5" cy="370.3" r="2.7"/>
<circle class="g" cx="250.0" cy="370.3" r="2.7"/>
<circle class="g" cx="253.5" cy="370.3" r="2.7"/>
<circle class="g" cx="257.0" cy="370.3" r="2.7"/>
<circle class="g" cx="260.5" cy="370.3" r="2.7"/>
<circle class="g" cx="264.0" cy="370.3" r="2.7"/>
<circle class="g" cx="267.5" cy="370.3" r="2.7"/>
<circle class="g" cx="271.0" cy="370.3" r="2.7"/>
<circle class="g" cx="274.5" cy="370.3" r="2.7"/>
<circle class="g" cx="278.0" cy="370.3" r="2.7"/>
<circle class="g" cx="281.5" cy="370.3" r="2.7"/>
<circle class="g" cx="285.0" cy="370.3" r="2.7"/>
<circle class="g" cx="288.5" cy="370.3" r="2.7"/>
<circle class="g" cx="231.0" cy="374.8" r="2.7"/>
<circle class="g" cx="234.5" cy="374.8" r="2.7"/>
<circle class="g" cx="238.0" cy="374.8" r="2.7"/>
<circle class="g" cx="241.5" cy="374.8" r="2.7"/>
<circle class="g" cx="245.0" cy="374.8" r="2.7"/>
<circle class="g" cx="248.5" cy="374.8" r="2.7"/>
<circle class="g" cx="252.0" cy="374.8" r="2.7"/>
<circle class="g" cx="255.5" cy="374.8" r="2.7"/>
<circle class="g" cx="259.0" cy="374.8" r="2.7"/>
<circle class="g" cx="262.5" cy="374.8" r="2.7"/>
<circle class="g" cx="266.0" cy="374.8" r="2.7"/>
<circle class="g" cx="269.5" cy="374.8" r="2.7"/>
<circle class="g" cx="273.0" cy="374.8" r="2.7"/>
<circle class="g" cx="276.5" cy="374.8" r="2.7"/>
<circle class="g" cx="280.0" cy="374.8" r="2.7"/>
<circle class="g" cx="283.5" cy="374.8" r="2.7"/>
<circle class="g" cx="287.0" cy="374.8" r="2.7"/>
<circle class="g" cx="234.8" cy="370.6" r="2.7"/>
<circle class="g" cx="284.7" cy="372.5" r="2.7"/>
<circle class="g" cx="287.0" cy="370.5" r="2.7"/>
<circle class="g" cx="244.1" cy="370.5" r="2.7"/>
<circle class="g" cx="253.6" cy="370.6" r="2.7"/>
<circle class="g" cx="244.8" cy="372.1" r="2.7"/>
<circle class="g" cx="248.0" cy="370.5" r="2.7"/>
<circle class="g" cx="231.3" cy="374.6" r="2.7"/>
<circle class="g" cx="240.1" cy="372.5" r="2.7"/>
<circle class="g" cx="253.9" cy="372.6" r="2.7"/>
<circle class="g" cx="234.2" cy="371.7" r="2.7"/>
<circle class="g" cx="235.7" cy="372.7" r="2.7"/>
<circle class="g" cx="286.1" cy="372.9" r="2.7"/>
<circle class="g" cx="282.1" cy="371.2" r="2.7"/>
<circle class="g" cx="230.1" cy="372.7" r="2.7"/>
<circle class="g" cx="259.2" cy="372.8" r="2.7"/>
<circle class="g" cx="252.4" cy="373.1" r="2.7"/>
<circle class="g" cx="274.0" cy="374.3" r="2.7"/>
<circle class="g" cx="248.1" cy="372.3" r="2.7"/>
<circle class="g" cx="280.2" cy="371.3" r="2.7"/>
<circle class="g" cx="236.2" cy="371.7" r="2.7"/>
<circle class="g" cx="234.4" cy="373.7" r="2.7"/>
<circle class="g" cx="279.8" cy="371.7" r="2.7"/>
<circle class="g" cx="237.0" cy="370.7" r="2.7"/>
<circle class="g" cx="244.2" cy="370.7" r="2.7"/>
<circle class="g" cx="255.6" cy="372.8" r="2.7"/>
<circle class="g" cx="244.2" cy="370.6" r="2.7"/>
<circle class="g" cx="272.4" cy="370.5" r="2.7"/>
<circle class="g" cx="241.4" cy="371.6" r="2.7"/>
<circle class="g" cx="252.2" cy="370.7" r="2.7"/>
<circle class="g" cx="255.1" cy="371.7" r="2.7"/>
<circle class="g" cx="275.6" cy="372.7" r="2.7"/>
<circle class="g" cx="284.6" cy="373.2" r="2.7"/>
<circle class="g" cx="276.1" cy="372.8" r="2.7"/>
<circle class="g" cx="256.4" cy="373.9" r="2.7"/>
<circle class="g" cx="269.6" cy="374.5" r="2.7"/>
<circle class="g" cx="274.1" cy="373.4" r="2.7"/>
<circle class="g" cx="245.6" cy="373.9" r="2.7"/>
<circle class="g" cx="252.7" cy="370.9" r="2.7"/>
<circle class="g" cx="233.1" cy="371.0" r="2.7"/>
<circle class="g" cx="288.5" cy="380.0" r="2.7"/>
<circle class="g" cx="291.5" cy="379.5" r="2.7"/>
<circle class="g" cx="294.5" cy="379.8" r="2.7"/>
<circle class="g" cx="297.5" cy="379.3" r="2.7"/>
<circle class="g" cx="300.5" cy="379.8" r="2.7"/>
<circle class="g" cx="303.5" cy="379.5" r="2.7"/>
<circle class="g" cx="306.0" cy="380.5" r="2.7"/>
<circle class="g" cx="290.0" cy="382.0" r="2.7"/>
<circle class="g" cx="293.0" cy="381.8" r="2.7"/>
<circle class="g" cx="296.0" cy="382.2" r="2.7"/>
<circle class="g" cx="299.0" cy="381.5" r="2.7"/>
<circle class="g" cx="302.0" cy="382.0" r="2.7"/>
<circle class="g" cx="305.0" cy="382.5" r="2.7"/>
<circle class="g" cx="290.5" cy="386.5" r="2.7"/>
<circle class="g" cx="293.5" cy="385.5" r="2.7"/>
<circle class="g" cx="296.5" cy="387.0" r="2.7"/>
<circle class="g" cx="299.5" cy="386.0" r="2.7"/>
<circle class="g" cx="302.5" cy="386.5" r="2.7"/>
<circle class="g" cx="305.5" cy="385.5" r="2.7"/>
<circle class="g" cx="303.0" cy="389.0" r="2.7"/>
<circle class="g" cx="306.0" cy="388.5" r="2.7"/>
<circle class="g" cx="300.0" cy="389.5" r="2.7"/>
<circle class="g" cx="301.8" cy="383.7" r="2.7"/>
<circle class="g" cx="302.0" cy="379.4" r="2.7"/>
<circle class="g" cx="305.3" cy="382.9" r="2.7"/>
<circle class="g" cx="300.2" cy="379.4" r="2.7"/>
<circle class="g" cx="87.1" cy="395.5" r="2.7"/>
<circle class="g" cx="272.4" cy="396.7" r="2.7"/>
<circle class="g" cx="209.4" cy="395.3" r="2.7"/>
<circle class="g" cx="162.9" cy="395.5" r="2.7"/>
<circle class="g" cx="137.9" cy="394.8" r="2.7"/>
<circle class="g" cx="202.4" cy="396.5" r="2.7"/>
<circle class="g" cx="238.6" cy="395.0" r="2.7"/>
<circle class="g" cx="188.7" cy="395.1" r="2.7"/>
<circle class="g" cx="234.2" cy="395.7" r="2.7"/>
<circle class="g" cx="292.4" cy="396.4" r="2.7"/>
<circle class="g" cx="84.0" cy="395.4" r="2.7"/>
<circle class="g" cx="286.4" cy="395.7" r="2.7"/>
<circle class="g" cx="164.3" cy="395.7" r="2.7"/>
<circle class="g" cx="248.9" cy="396.7" r="2.7"/>
<circle class="g" cx="189.3" cy="396.7" r="2.7"/>
<circle class="g" cx="205.4" cy="395.0" r="2.7"/>
<circle class="g" cx="260.8" cy="395.6" r="2.7"/>
<circle class="g" cx="67.3" cy="396.8" r="2.7"/>
<circle class="g" cx="62.3" cy="396.0" r="2.7"/>
<circle class="g" cx="176.4" cy="396.6" r="2.7"/>
<circle class="g" cx="153.8" cy="395.2" r="2.7"/>
<circle class="g" cx="124.4" cy="395.2" r="2.7"/>
<circle class="g" cx="196.9" cy="395.5" r="2.7"/>
<circle class="g" cx="244.8" cy="395.3" r="2.7"/>
<circle class="g" cx="143.3" cy="395.3" r="2.7"/>
<circle class="g" cx="303.5" cy="396.5" r="2.7"/>
<circle class="g" cx="269.9" cy="396.0" r="2.7"/>
<circle class="g" cx="155.8" cy="395.1" r="2.7"/>
<circle class="g" cx="265.2" cy="395.8" r="2.7"/>
<circle class="g" cx="63.6" cy="395.1" r="2.7"/>
<circle class="g" cx="79.1" cy="396.2" r="2.7"/>
<circle class="g" cx="282.6" cy="395.2" r="2.7"/>
<circle class="g" cx="256.4" cy="395.4" r="2.7"/>
<circle class="g" cx="227.5" cy="396.5" r="2.7"/>
<circle class="g" cx="212.3" cy="396.4" r="2.7"/>
<circle class="g" cx="149.6" cy="394.8" r="2.7"/>
<circle class="g" cx="184.0" cy="396.0" r="2.7"/>
<circle class="g" cx="100.9" cy="395.6" r="2.7"/>
<circle class="g" cx="134.6" cy="394.9" r="2.7"/>
<circle class="g" cx="133.3" cy="395.6" r="2.7"/>
<circle class="g" cx="174.9" cy="396.2" r="2.7"/>
<circle class="g" cx="155.4" cy="396.8" r="2.7"/>
<circle class="g" cx="261.1" cy="396.6" r="2.7"/>
<circle class="g" cx="230.0" cy="396.1" r="2.7"/>
<circle class="g" cx="190.3" cy="396.4" r="2.7"/>
<circle class="g" cx="146.2" cy="396.0" r="2.7"/>
<circle class="g" cx="226.6" cy="395.8" r="2.7"/>
<circle class="g" cx="126.2" cy="395.0" r="2.7"/>
<circle class="g" cx="76.2" cy="395.5" r="2.7"/>
<circle class="g" cx="201.4" cy="396.3" r="2.7"/>
<circle class="g" cx="235.5" cy="395.4" r="2.7"/>
<circle class="g" cx="290.0" cy="395.3" r="2.7"/>
<circle class="g" cx="235.9" cy="394.9" r="2.7"/>
<circle class="g" cx="245.4" cy="396.1" r="2.7"/>
<circle class="g" cx="297.1" cy="396.6" r="2.7"/>
<circle class="g" cx="228.7" cy="396.5" r="2.7"/>
<circle class="g" cx="241.6" cy="396.0" r="2.7"/>
<circle class="g" cx="107.0" cy="395.8" r="2.7"/>
<circle class="g" cx="281.6" cy="395.3" r="2.7"/>
<circle class="g" cx="301.6" cy="395.9" r="2.7"/>
<circle class="g" cx="153.9" cy="394.8" r="2.7"/>
<circle class="g" cx="153.1" cy="395.2" r="2.7"/>
<circle class="g" cx="219.9" cy="396.6" r="2.7"/>
<circle class="g" cx="285.2" cy="396.0" r="2.7"/>
<circle class="g" cx="152.2" cy="395.0" r="2.7"/>
<circle class="g" cx="229.0" cy="395.9" r="2.7"/>
<circle class="g" cx="235.7" cy="395.5" r="2.7"/>
<circle class="g" cx="279.2" cy="395.2" r="2.7"/>
<circle class="g" cx="131.6" cy="395.3" r="2.7"/>
<circle class="g" cx="212.0" cy="396.6" r="2.7"/>
<circle class="g" cx="96.5" cy="396.1" r="2.7"/>
<circle class="g" cx="248.7" cy="395.2" r="2.7"/>
<circle class="g" cx="69.9" cy="395.9" r="2.7"/>
<circle class="g" cx="264.9" cy="396.6" r="2.7"/>
<circle class="g" cx="238.9" cy="395.6" r="2.7"/>
<circle class="g" cx="162.0" cy="395.9" r="2.7"/>
<circle class="g" cx="283.8" cy="395.4" r="2.7"/>
<circle class="g" cx="125.3" cy="396.0" r="2.7"/>
<circle class="g" cx="299.5" cy="395.2" r="2.7"/>
<circle class="g" cx="61.7" cy="395.0" r="2.7"/>
<circle class="g" cx="196.9" cy="396.0" r="2.7"/>
<circle class="g" cx="100.7" cy="395.2" r="2.7"/>
<circle class="g" cx="205.0" cy="396.1" r="2.7"/>
<circle class="g" cx="229.3" cy="396.3" r="2.7"/>
<circle class="g" cx="69.6" cy="395.8" r="2.7"/>
<circle class="g" cx="266.0" cy="396.7" r="2.7"/>
<circle class="g" cx="134.9" cy="396.5" r="2.7"/>
<circle class="g" cx="217.9" cy="396.7" r="2.7"/>
<circle class="g" cx="112.2" cy="396.2" r="2.7"/>
<circle class="g" cx="267.5" cy="395.8" r="2.7"/>
<circle class="g" cx="79.6" cy="395.2" r="2.7"/>
<circle class="g" cx="93.8" cy="395.0" r="2.7"/>
<circle class="g" cx="92.6" cy="396.0" r="2.7"/>
<circle class="g" cx="80.6" cy="396.3" r="2.7"/>
<circle class="g" cx="241.0" cy="396.4" r="2.7"/>
<circle class="g" cx="258.1" cy="396.2" r="2.7"/>
<circle class="g" cx="288.7" cy="396.7" r="2.7"/>
<circle class="g" cx="212.8" cy="396.7" r="2.7"/>
<circle class="g" cx="80.2" cy="395.0" r="2.7"/>
<circle class="g" cx="70.4" cy="395.2" r="2.7"/>
<circle class="g" cx="149.1" cy="395.7" r="2.7"/>
<circle class="g" cx="226.8" cy="396.3" r="2.7"/>
<circle class="g" cx="75.3" cy="395.6" r="2.7"/>
<circle class="g" cx="192.0" cy="395.6" r="2.7"/>
<circle class="g" cx="83.9" cy="396.0" r="2.7"/>
<circle class="g" cx="149.1" cy="396.2" r="2.7"/>
<circle class="g" cx="179.9" cy="396.7" r="2.7"/>
<circle class="g" cx="294.0" cy="394.9" r="2.7"/>
<circle class="g" cx="247.0" cy="396.2" r="2.7"/>
<circle class="g" cx="129.2" cy="395.0" r="2.7"/>
<circle class="g" cx="175.7" cy="395.5" r="2.7"/>
<circle class="g" cx="241.3" cy="396.6" r="2.7"/>
<circle class="g" cx="151.1" cy="395.4" r="2.7"/>
<circle class="g" cx="180.7" cy="396.2" r="2.7"/>
<circle class="g" cx="254.4" cy="396.0" r="2.7"/>
<circle class="g" cx="129.2" cy="395.5" r="2.7"/>
<circle class="g" cx="269.4" cy="395.8" r="2.7"/>
<circle class="g" cx="66.8" cy="395.6" r="2.7"/>
<circle class="g" cx="114.4" cy="396.1" r="2.7"/>
<circle class="g" cx="72.6" cy="395.3" r="2.7"/>
<circle class="g" cx="78.4" cy="395.8" r="2.7"/>
<circle class="g" cx="304.1" cy="395.9" r="2.7"/>
<circle class="g" cx="152.1" cy="396.7" r="2.7"/>
<circle class="g" cx="77.3" cy="395.5" r="2.7"/>
<circle class="g" cx="259.9" cy="394.8" r="2.7"/>
<circle class="g" cx="248.5" cy="395.5" r="2.7"/>
<circle class="g" cx="58.2" cy="395.3" r="2.7"/>
<circle class="g" cx="170.4" cy="395.6" r="2.7"/>
<circle class="g" cx="185.3" cy="394.9" r="2.7"/>
<circle class="g" cx="109.5" cy="396.7" r="2.7"/>
<circle class="g" cx="166.4" cy="395.7" r="2.7"/>
<circle class="g" cx="75.7" cy="395.4" r="2.7"/>
<circle class="g" cx="296.5" cy="396.2" r="2.7"/>
<circle class="g" cx="183.0" cy="394.9" r="2.7"/>
<circle class="g" cx="153.7" cy="396.4" r="2.7"/>
<circle class="g" cx="164.4" cy="396.0" r="2.7"/>
<circle class="g" cx="283.2" cy="396.1" r="2.7"/>
<circle class="g" cx="215.5" cy="394.9" r="2.7"/>
<circle class="g" cx="60.1" cy="396.3" r="2.7"/>
<circle class="g" cx="159.0" cy="396.5" r="2.7"/>
<circle class="g" cx="263.7" cy="396.6" r="2.7"/>
<circle class="g" cx="150.1" cy="396.8" r="2.7"/>
<circle class="g" cx="246.1" cy="396.6" r="2.7"/>
<circle class="g" cx="91.6" cy="396.4" r="2.7"/>
<circle class="g" cx="161.2" cy="396.7" r="2.7"/>
<circle class="g" cx="306.5" cy="395.2" r="2.7"/>
<circle class="g" cx="161.0" cy="395.3" r="2.7"/>
<circle class="g" cx="173.3" cy="395.4" r="2.7"/>
<circle class="g" cx="223.3" cy="395.0" r="2.7"/>
<circle class="g" cx="97.0" cy="395.7" r="2.7"/>
<circle class="g" cx="72.8" cy="395.6" r="2.7"/>
<circle class="g" cx="281.9" cy="396.6" r="2.7"/>
<circle class="g" cx="103.9" cy="394.8" r="2.7"/>
<circle class="g" cx="264.4" cy="396.7" r="2.7"/>
<circle class="g" cx="206.1" cy="395.1" r="2.7"/>
<circle class="g" cx="114.1" cy="396.6" r="2.7"/>
<circle class="g" cx="292.1" cy="394.9" r="2.7"/>
<circle class="g" cx="100.9" cy="395.7" r="2.7"/>
<circle class="g" cx="121.7" cy="396.3" r="2.7"/>
<circle class="g" cx="148.7" cy="396.4" r="2.7"/>
<circle class="g" cx="92.6" cy="395.8" r="2.7"/>
<circle class="g" cx="301.6" cy="396.2" r="2.7"/>
<circle class="g" cx="76.9" cy="395.0" r="2.7"/>
<circle class="g" cx="217.5" cy="395.5" r="2.7"/>
<circle class="g" cx="147.6" cy="395.8" r="2.7"/>
<circle class="g" cx="201.8" cy="396.7" r="2.7"/>
<circle class="g" cx="115.2" cy="395.9" r="2.7"/>
<circle class="g" cx="120.8" cy="395.9" r="2.7"/>
<circle class="g" cx="239.8" cy="395.1" r="2.7"/>
<circle class="g" cx="176.2" cy="396.2" r="2.7"/>
<circle class="g" cx="56.1" cy="396.3" r="2.7"/>
<circle class="g" cx="160.4" cy="395.8" r="2.7"/>
<circle class="g" cx="209.1" cy="396.4" r="2.7"/>
<circle class="g" cx="68.2" cy="395.8" r="2.7"/>
<circle class="g" cx="63.7" cy="395.6" r="2.7"/>
<circle class="g" cx="141.8" cy="394.8" r="2.7"/>
<circle class="g" cx="129.6" cy="395.7" r="2.7"/>
<circle class="g" cx="220.3" cy="396.6" r="2.7"/>
<circle class="g" cx="148.1" cy="395.9" r="2.7"/>
<circle class="g" cx="235.1" cy="396.7" r="2.7"/>
<circle class="g" cx="295.2" cy="396.8" r="2.7"/>
<circle class="g" cx="130.7" cy="395.1" r="2.7"/>
<circle class="g" cx="290.7" cy="395.0" r="2.7"/>
<circle class="g" cx="168.0" cy="396.3" r="2.7"/>
<circle class="g" cx="188.3" cy="395.6" r="2.7"/>
<circle class="g" cx="288.8" cy="395.4" r="2.7"/>
<circle class="g" cx="194.1" cy="396.5" r="2.7"/>
<circle class="g" cx="89.1" cy="395.5" r="2.7"/>
<circle class="g" cx="179.5" cy="395.9" r="2.7"/>
<circle class="g" cx="106.7" cy="395.7" r="2.7"/>
<circle class="g" cx="69.2" cy="395.0" r="2.7"/>
<circle class="g" cx="140.9" cy="395.1" r="2.7"/>
<circle class="g" cx="299.8" cy="395.3" r="2.7"/>
<circle class="g" cx="124.0" cy="396.4" r="2.7"/>
<circle class="g" cx="242.3" cy="395.3" r="2.7"/>
<circle class="g" cx="264.6" cy="396.1" r="2.7"/>
<circle class="g" cx="152.7" cy="396.1" r="2.7"/>
<circle class="g" cx="116.4" cy="395.3" r="2.7"/>
<circle class="g" cx="276.6" cy="395.7" r="2.7"/>
<circle class="g" cx="281.9" cy="395.2" r="2.7"/>
<circle class="g" cx="88.9" cy="394.9" r="2.7"/>
<circle class="g" cx="241.9" cy="395.9" r="2.7"/>
<circle class="g" cx="56.5" cy="394.9" r="2.7"/>
<circle class="g" cx="263.3" cy="395.8" r="2.7"/>
<circle class="g" cx="275.3" cy="394.9" r="2.7"/>
<circle class="g" cx="203.6" cy="395.0" r="2.7"/>
<circle class="g" cx="237.2" cy="396.0" r="2.7"/>
<circle class="g" cx="209.5" cy="395.2" r="2.7"/>
<circle class="g" cx="295.1" cy="395.0" r="2.7"/>
<circle class="g" cx="70.3" cy="396.2" r="2.7"/>
<circle class="g" cx="77.6" cy="394.9" r="2.7"/>
<circle class="g" cx="170.9" cy="396.1" r="2.7"/>
<circle class="g" cx="280.6" cy="396.2" r="2.7"/>
<circle class="g" cx="71.6" cy="396.1" r="2.7"/>
<circle class="g" cx="268.3" cy="395.0" r="2.7"/>
<circle class="g" cx="245.6" cy="395.3" r="2.7"/>
<circle class="g" cx="129.9" cy="394.8" r="2.7"/>
<circle class="g" cx="246.6" cy="395.8" r="2.7"/>
<circle class="g" cx="283.1" cy="395.7" r="2.7"/>
<circle class="g" cx="93.5" cy="395.2" r="2.7"/>
<circle class="g" cx="120.9" cy="396.7" r="2.7"/>
<circle class="g" cx="106.1" cy="395.0" r="2.7"/>
<circle class="g" cx="143.6" cy="395.0" r="2.7"/>
<circle class="g" cx="162.0" cy="396.0" r="2.7"/>
<circle class="g" cx="219.3" cy="395.1" r="2.7"/>
<circle class="g" cx="89.3" cy="395.8" r="2.7"/>
<circle class="g" cx="228.5" cy="395.7" r="2.7"/>
<circle class="g" cx="199.6" cy="396.6" r="2.7"/>
<circle class="g" cx="90.8" cy="395.3" r="2.7"/>
<circle class="g" cx="179.4" cy="395.9" r="2.7"/>
<circle class="g" cx="282.6" cy="395.9" r="2.7"/>
<circle class="g" cx="222.2" cy="395.6" r="2.7"/>
<circle class="g" cx="253.2" cy="396.5" r="2.7"/>
<circle class="g" cx="128.6" cy="395.0" r="2.7"/>
<circle class="g" cx="119.8" cy="395.5" r="2.7"/>
<circle class="g" cx="280.0" cy="395.3" r="2.7"/>
<circle class="g" cx="213.9" cy="396.1" r="2.7"/>
<circle class="g" cx="296.9" cy="395.0" r="2.7"/>
<circle class="g" cx="249.5" cy="395.5" r="2.7"/>
<circle class="g" cx="80.2" cy="396.1" r="2.7"/>
<circle class="g" cx="268.5" cy="396.0" r="2.7"/>
<circle class="g" cx="66.7" cy="396.7" r="2.7"/>
<circle class="g" cx="151.6" cy="396.1" r="2.7"/>
<circle class="g" cx="237.9" cy="395.3" r="2.7"/>
<circle class="g" cx="157.7" cy="395.5" r="2.7"/>
<circle class="g" cx="78.4" cy="394.9" r="2.7"/>
<circle class="g" cx="236.1" cy="395.6" r="2.7"/>
<circle class="g" cx="274.9" cy="394.9" r="2.7"/>
<circle class="g" cx="130.6" cy="395.2" r="2.7"/>
<circle class="g" cx="293.6" cy="396.4" r="2.7"/>
<circle class="g" cx="281.7" cy="395.8" r="2.7"/>
<circle class="g" cx="80.5" cy="395.6" r="2.7"/>
<circle class="g" cx="111.5" cy="394.9" r="2.7"/>
<circle class="g" cx="197.5" cy="395.4" r="2.7"/>
<circle class="g" cx="81.4" cy="395.8" r="2.7"/>
<circle class="g" cx="291.0" cy="396.7" r="2.7"/>
<circle class="g" cx="172.4" cy="395.0" r="2.7"/>
<circle class="g" cx="249.3" cy="395.0" r="2.7"/>
<circle class="g" cx="190.5" cy="395.0" r="2.7"/>
<circle class="g" cx="304.8" cy="395.9" r="2.7"/>
<circle class="g" cx="165.1" cy="395.3" r="2.7"/>
<circle class="g" cx="193.9" cy="396.7" r="2.7"/>
<circle class="g" cx="162.7" cy="395.2" r="2.7"/>
<circle class="g" cx="184.7" cy="396.6" r="2.7"/>
<circle class="g" cx="151.0" cy="396.1" r="2.7"/>
<circle class="g" cx="287.4" cy="395.5" r="2.7"/>
<circle class="g" cx="260.0" cy="395.9" r="2.7"/>
<circle class="g" cx="89.4" cy="394.9" r="2.7"/>
<circle class="g" cx="292.5" cy="395.7" r="2.7"/>
<circle class="g" cx="166.6" cy="396.6" r="2.7"/>
<circle class="g" cx="199.8" cy="395.8" r="2.7"/>
<circle class="g" cx="126.2" cy="396.3" r="2.7"/>
<circle class="g" cx="119.1" cy="395.7" r="2.7"/>
<circle class="g" cx="246.7" cy="396.0" r="2.7"/>
<circle class="g" cx="88.1" cy="395.2" r="2.7"/>
<circle class="g" cx="230.5" cy="396.3" r="2.7"/>
<circle class="g" cx="80.1" cy="396.8" r="2.7"/>
<circle class="g" cx="87.9" cy="395.1" r="2.7"/>
<circle class="g" cx="76.8" cy="395.7" r="2.7"/>
<circle class="g" cx="211.4" cy="396.5" r="2.7"/>
<circle class="g" cx="95.4" cy="396.2" r="2.7"/>
<circle class="g" cx="80.7" cy="396.0" r="2.7"/>
<circle class="g" cx="118.0" cy="395.5" r="2.7"/>
<circle class="g" cx="67.3" cy="396.2" r="2.7"/>
<circle class="g" cx="85.1" cy="396.3" r="2.7"/>
<circle class="g" cx="139.5" cy="396.0" r="2.7"/>
<circle class="g" cx="216.3" cy="395.8" r="2.7"/>
<circle class="g" cx="275.9" cy="396.6" r="2.7"/>
<circle class="g" cx="125.6" cy="395.5" r="2.7"/>
<circle class="g" cx="276.7" cy="395.1" r="2.7"/>
<circle class="g" cx="160.7" cy="395.6" r="2.7"/>
<circle class="g" cx="302.0" cy="395.1" r="2.7"/>
<circle class="g" cx="220.4" cy="396.3" r="2.7"/>
<circle class="g" cx="239.0" cy="394.8" r="2.7"/>
<circle class="g" cx="293.7" cy="395.4" r="2.7"/>
<circle class="g" cx="270.7" cy="396.1" r="2.7"/>
<circle class="g" cx="160.9" cy="396.5" r="2.7"/>
<circle class="g" cx="225.6" cy="395.5" r="2.7"/>
<circle class="g" cx="239.9" cy="395.8" r="2.7"/>
<circle class="g" cx="234.7" cy="396.0" r="2.7"/>
<circle class="g" cx="256.2" cy="395.1" r="2.7"/>
<circle class="g" cx="179.6" cy="394.8" r="2.7"/>
<circle class="g" cx="254.9" cy="396.3" r="2.7"/>
<circle class="g" cx="266.6" cy="394.9" r="2.7"/>
<circle class="g" cx="189.9" cy="395.8" r="2.7"/>
<circle class="g" cx="84.4" cy="395.2" r="2.7"/>
<circle class="g" cx="301.5" cy="396.5" r="2.7"/>
<circle class="g" cx="114.5" cy="396.5" r="2.7"/>
<circle class="g" cx="219.4" cy="395.6" r="2.7"/>
<circle class="g" cx="217.8" cy="395.3" r="2.7"/>
<circle class="g" cx="123.5" cy="394.8" r="2.7"/>
<circle class="g" cx="220.8" cy="396.0" r="2.7"/>
<circle class="g" cx="242.8" cy="395.8" r="2.7"/>
<circle class="g" cx="164.5" cy="395.4" r="2.7"/>
<circle class="g" cx="240.8" cy="395.5" r="2.7"/>
<circle class="g" cx="205.6" cy="396.3" r="2.7"/>
<circle class="g" cx="166.9" cy="396.2" r="2.7"/>
<circle class="g" cx="69.6" cy="395.3" r="2.7"/>
<circle class="g" cx="267.5" cy="395.1" r="2.7"/>
<circle class="g" cx="68.4" cy="394.8" r="2.7"/>
<circle class="g" cx="248.6" cy="395.0" r="2.7"/>
<circle class="g" cx="170.4" cy="395.7" r="2.7"/>
<circle class="g" cx="257.9" cy="395.8" r="2.7"/>
<circle class="g" cx="186.5" cy="394.8" r="2.7"/>
<circle class="g" cx="256.0" cy="396.3" r="2.7"/>
<circle class="g" cx="212.4" cy="396.5" r="2.7"/>
<circle class="g" cx="210.0" cy="396.2" r="2.7"/>
<circle class="g" cx="270.1" cy="396.0" r="2.7"/>
<circle class="g" cx="59.2" cy="396.6" r="2.7"/>
<circle class="g" cx="305.3" cy="395.2" r="2.7"/>
<circle class="g" cx="70.8" cy="395.5" r="2.7"/>
<circle class="g" cx="79.4" cy="395.5" r="2.7"/>
<circle class="g" cx="76.7" cy="395.2" r="2.7"/>
<circle class="g" cx="54.8" cy="395.7" r="2.7"/>
<circle class="g" cx="130.2" cy="396.3" r="2.7"/>
<circle class="g" cx="152.7" cy="395.1" r="2.7"/>
<circle class="g" cx="296.2" cy="396.6" r="2.7"/>
<circle class="g" cx="229.1" cy="395.2" r="2.7"/>
<circle class="g" cx="156.3" cy="395.7" r="2.7"/>
<circle class="g" cx="157.8" cy="394.9" r="2.7"/>
<circle class="g" cx="169.7" cy="396.3" r="2.7"/>
<circle class="g" cx="230.1" cy="396.5" r="2.7"/>
<circle class="g" cx="227.5" cy="396.3" r="2.7"/>
<circle class="g" cx="275.2" cy="396.6" r="2.7"/>
<circle class="g" cx="255.4" cy="395.6" r="2.7"/>
<circle class="g" cx="221.6" cy="396.1" r="2.7"/>
<circle class="g" cx="278.2" cy="396.2" r="2.7"/>
<circle class="g" cx="166.6" cy="395.2" r="2.7"/>
<circle class="g" cx="137.2" cy="395.3" r="2.7"/>
<circle class="g" cx="227.2" cy="396.3" r="2.7"/>
<circle class="g" cx="102.8" cy="395.9" r="2.7"/>
<circle class="g" cx="267.4" cy="395.5" r="2.7"/>
<circle class="g" cx="78.1" cy="396.0" r="2.7"/>
<circle class="g" cx="146.0" cy="395.1" r="2.7"/>
<circle class="g" cx="127.2" cy="394.8" r="2.7"/>
<circle class="g" cx="91.8" cy="395.7" r="2.7"/>
<circle class="g" cx="80.7" cy="394.8" r="2.7"/>
<circle class="g" cx="193.7" cy="396.7" r="2.7"/>
<circle class="g" cx="265.8" cy="395.5" r="2.7"/>
<circle class="g" cx="288.8" cy="395.0" r="2.7"/>
<circle class="g" cx="92.2" cy="394.8" r="2.7"/>
<circle class="g" cx="68.9" cy="396.0" r="2.7"/>
<circle class="g" cx="246.3" cy="395.8" r="2.7"/>
<circle class="g" cx="258.0" cy="395.7" r="2.7"/>
<circle class="g" cx="287.4" cy="396.0" r="2.7"/>
<circle class="g" cx="190.4" cy="395.1" r="2.7"/>
<circle class="g" cx="162.3" cy="395.7" r="2.7"/>
<circle class="g" cx="263.0" cy="395.3" r="2.7"/>
<circle class="g" cx="128.8" cy="396.4" r="2.7"/>
<circle class="g" cx="72.0" cy="395.9" r="2.7"/>
<circle class="g" cx="109.8" cy="396.1" r="2.7"/>
<circle class="g" cx="205.0" cy="395.0" r="2.7"/>
<circle class="g" cx="239.5" cy="395.6" r="2.7"/>
<circle class="g" cx="135.5" cy="396.5" r="2.7"/>
<circle class="g" cx="251.8" cy="395.4" r="2.7"/>
<circle class="g" cx="226.1" cy="395.0" r="2.7"/>
<circle class="g" cx="185.8" cy="395.0" r="2.7"/>
<circle class="g" cx="216.8" cy="396.6" r="2.7"/>
<circle class="g" cx="215.6" cy="394.9" r="2.7"/>
<circle class="g" cx="184.3" cy="395.7" r="2.7"/>
<circle class="g" cx="166.5" cy="395.1" r="2.7"/>
<circle class="g" cx="124.7" cy="395.7" r="2.7"/>
<circle class="g" cx="72.1" cy="396.1" r="2.7"/>
<circle class="g" cx="115.9" cy="395.4" r="2.7"/>
<circle class="g" cx="77.1" cy="395.4" r="2.7"/>
<circle class="g" cx="290.5" cy="395.4" r="2.7"/>
<circle class="g" cx="78.4" cy="395.5" r="2.7"/>
<circle class="g" cx="294.0" cy="395.0" r="2.7"/>
<circle class="g" cx="141.0" cy="395.2" r="2.7"/>
<circle class="g" cx="227.2" cy="395.7" r="2.7"/>
<circle class="g" cx="79.0" cy="396.5" r="2.7"/>
<circle class="g" cx="137.3" cy="396.2" r="2.7"/>
<circle class="g" cx="169.0" cy="396.5" r="2.7"/>
<circle class="g" cx="68.8" cy="395.3" r="2.7"/>
<circle class="g" cx="126.5" cy="395.3" r="2.7"/>
<circle class="g" cx="262.8" cy="395.8" r="2.7"/>
<circle class="g" cx="142.1" cy="395.8" r="2.7"/>
<circle class="g" cx="268.8" cy="395.9" r="2.7"/>
<circle class="g" cx="168.7" cy="396.1" r="2.7"/>
<circle class="g" cx="210.2" cy="395.6" r="2.7"/>
<circle class="g" cx="162.3" cy="395.1" r="2.7"/>
<circle class="g" cx="165.5" cy="396.6" r="2.7"/>
<circle class="g" cx="131.7" cy="395.5" r="2.7"/>
<circle class="g" cx="207.2" cy="396.0" r="2.7"/>
<circle class="g" cx="98.5" cy="395.7" r="2.7"/>
<circle class="g" cx="240.4" cy="394.9" r="2.7"/>
<circle class="g" cx="81.6" cy="396.3" r="2.7"/>
<circle class="g" cx="283.9" cy="394.9" r="2.7"/>
<circle class="g" cx="74.7" cy="396.1" r="2.7"/>
<circle class="g" cx="126.3" cy="396.1" r="2.7"/>
<circle class="g" cx="62.7" cy="395.7" r="2.7"/>
<circle class="g" cx="95.1" cy="395.5" r="2.7"/>
<circle class="g" cx="230.2" cy="395.8" r="2.7"/>
<circle class="g" cx="270.8" cy="396.5" r="2.7"/>
<circle class="g" cx="211.3" cy="396.5" r="2.7"/>
<circle class="g" cx="99.1" cy="395.7" r="2.7"/>
<circle class="g" cx="135.2" cy="396.0" r="2.7"/>
<circle class="g" cx="82.3" cy="396.6" r="2.7"/>
<circle class="g" cx="148.1" cy="396.4" r="2.7"/>
<circle class="g" cx="293.5" cy="396.7" r="2.7"/>
<circle class="g" cx="153.1" cy="396.5" r="2.7"/>
<circle class="g" cx="307.2" cy="395.1" r="2.7"/>
<circle class="g" cx="243.9" cy="396.3" r="2.7"/>
<circle class="g" cx="170.3" cy="395.4" r="2.7"/>
<circle class="g" cx="98.0" cy="395.6" r="2.7"/>
<circle class="g" cx="290.7" cy="395.6" r="2.7"/>
<circle class="g" cx="118.9" cy="396.0" r="2.7"/>
<circle class="g" cx="165.1" cy="396.0" r="2.7"/>
<circle class="g" cx="169.4" cy="395.4" r="2.7"/>
<circle class="g" cx="63.0" cy="396.4" r="2.7"/>
<circle class="g" cx="221.4" cy="395.3" r="2.7"/>
<circle class="g" cx="180.8" cy="396.0" r="2.7"/>
<circle class="g" cx="181.9" cy="396.6" r="2.7"/>
<circle class="g" cx="251.8" cy="395.4" r="2.7"/>
<circle class="g" cx="140.0" cy="396.0" r="2.7"/>
<circle class="g" cx="95.2" cy="396.7" r="2.7"/>
<circle class="g" cx="65.5" cy="395.8" r="2.7"/>
<circle class="g" cx="123.4" cy="395.9" r="2.7"/>
<circle class="g" cx="65.6" cy="395.2" r="2.7"/>
<circle class="g" cx="305.2" cy="396.4" r="2.7"/>
<circle class="g" cx="110.1" cy="395.7" r="2.7"/>
<circle class="g" cx="62.2" cy="395.0" r="2.7"/>
<circle class="g" cx="102.7" cy="396.8" r="2.7"/>
<circle class="g" cx="133.2" cy="395.3" r="2.7"/>
<circle class="g" cx="70.6" cy="395.0" r="2.7"/>
<circle class="g" cx="306.8" cy="396.3" r="2.7"/>
<circle class="g" cx="287.8" cy="396.5" r="2.7"/>
<circle class="g" cx="252.8" cy="395.3" r="2.7"/>
<circle class="g" cx="97.0" cy="395.3" r="2.7"/>
<circle class="g" cx="70.6" cy="395.2" r="2.7"/>
<circle class="g" cx="236.9" cy="395.8" r="2.7"/>
<circle class="g" cx="56.7" cy="395.4" r="2.7"/>
<circle class="g" cx="269.8" cy="396.5" r="2.7"/>
<circle class="g" cx="239.3" cy="396.3" r="2.7"/>
<circle class="g" cx="285.6" cy="395.9" r="2.7"/>
<circle class="g" cx="151.4" cy="395.9" r="2.7"/>
<circle class="g" cx="125.7" cy="394.9" r="2.7"/>
<circle class="g" cx="120.0" cy="395.7" r="2.7"/>
<circle class="g" cx="84.5" cy="395.0" r="2.7"/>
<circle class="g" cx="116.8" cy="395.5" r="2.7"/>
<circle class="g" cx="297.1" cy="395.8" r="2.7"/>
<circle class="g" cx="266.6" cy="396.3" r="2.7"/>
<circle class="g" cx="204.5" cy="395.4" r="2.7"/>
<circle class="g" cx="153.7" cy="395.4" r="2.7"/>
<circle class="g" cx="215.1" cy="396.5" r="2.7"/>
<circle class="g" cx="254.8" cy="395.4" r="2.7"/>
<circle class="g" cx="92.0" cy="394.8" r="2.7"/>
<circle class="g" cx="202.5" cy="395.3" r="2.7"/>
<circle class="g" cx="55.4" cy="395.4" r="2.7"/>
<circle class="g" cx="112.0" cy="395.2" r="2.7"/>
<circle class="g" cx="222.8" cy="396.0" r="2.7"/>
<circle class="g" cx="125.6" cy="396.3" r="2.7"/>
<circle class="g" cx="106.4" cy="396.6" r="2.7"/>
<circle class="g" cx="84.2" cy="396.0" r="2.7"/>
<circle class="g" cx="233.0" cy="396.3" r="2.7"/>
<circle class="g" cx="177.7" cy="396.5" r="2.7"/>
<circle class="g" cx="213.8" cy="396.2" r="2.7"/>
<circle class="g" cx="74.1" cy="395.2" r="2.7"/>
<circle class="g" cx="172.3" cy="395.9" r="2.7"/>
<circle class="g" cx="78.2" cy="396.3" r="2.7"/>
<circle class="s" cx="153.5" cy="302.2" r="4"/>
<circle class="s" cx="155.8" cy="307.5" r="4"/>
<circle class="s" cx="170.4" cy="310.6" r="4"/>
<circle class="s" cx="181.2" cy="307.5" r="4"/>
<circle class="s" cx="199.6" cy="310.6" r="4"/>
<circle class="s" cx="204.2" cy="307.5" r="4"/>
<circle class="s" cx="206.5" cy="313.0" r="4"/>
<circle class="s" cx="215.8" cy="306.8" r="4"/>
<circle class="s" cx="163.7" cy="395.3" r="4"/>
<rect x="42.5" y="298" width="276.9" height="103.0" fill="none" stroke="#c6c6c6" stroke-width="1.1"/>
<line x1="39.8" y1="396.9" x2="42.5" y2="396.9" stroke="#333" stroke-width="1.0"/>
<text x="37.9" y="399.8" font-family="Liberation Sans, sans-serif" font-size="8.1" fill="#262626" stroke="#262626" stroke-width="0.22" text-anchor="end">0.00</text>
<line x1="39.8" y1="372.8" x2="42.5" y2="372.8" stroke="#333" stroke-width="1.0"/>
<text x="37.9" y="375.7" font-family="Liberation Sans, sans-serif" font-size="8.1" fill="#262626" stroke="#262626" stroke-width="0.22" text-anchor="end">0.25</text>
<line x1="39.8" y1="348.8" x2="42.5" y2="348.8" stroke="#333" stroke-width="1.0"/>
<text x="37.9" y="351.6" font-family="Liberation Sans, sans-serif" font-size="8.1" fill="#262626" stroke="#262626" stroke-width="0.22" text-anchor="end">0.50</text>
<line x1="39.8" y1="324.7" x2="42.5" y2="324.7" stroke="#333" stroke-width="1.0"/>
<text x="37.9" y="327.6" font-family="Liberation Sans, sans-serif" font-size="8.1" fill="#262626" stroke="#262626" stroke-width="0.22" text-anchor="end">0.75</text>
<line x1="39.8" y1="300.6" x2="42.5" y2="300.6" stroke="#333" stroke-width="1.0"/>
<text x="37.9" y="303.5" font-family="Liberation Sans, sans-serif" font-size="8.1" fill="#262626" stroke="#262626" stroke-width="0.22" text-anchor="end">1.00</text>
<line x1="125.9" y1="401" x2="125.9" y2="403.7" stroke="#333" stroke-width="1.0"/>
<text x="125.9" y="412.4" font-family="Liberation Sans, sans-serif" font-size="8" fill="#262626" stroke="#262626" stroke-width="0.22" text-anchor="middle">152200000</text>
<line x1="218.4" y1="401" x2="218.4" y2="403.7" stroke="#333" stroke-width="1.0"/>
<text x="218.4" y="412.4" font-family="Liberation Sans, sans-serif" font-size="8" fill="#262626" stroke="#262626" stroke-width="0.22" text-anchor="middle">152300000</text>
<line x1="311.1" y1="401" x2="311.1" y2="403.7" stroke="#333" stroke-width="1.0"/>
<text x="311.1" y="412.4" font-family="Liberation Sans, sans-serif" font-size="8" fill="#262626" stroke="#262626" stroke-width="0.22" text-anchor="middle">152400000</text>
<text transform="translate(12.6,341.0) rotate(-90)" font-family="Liberation Sans, sans-serif" font-size="14" fill="#111" stroke="#111" stroke-width="0.45" letter-spacing="0.2" text-anchor="middle">LD R<tspan font-size="9.8" dy="-4.6">2</tspan></text>
<rect x="334.59999999999997" y="59.0" width="31.3" height="31.3" fill="#fefefe" stroke="#c8c8c8" stroke-width="1.4"/>
<circle cx="350" cy="74.4" r="6.3" fill="#f5736a"/>
<text x="380.7" y="72.3" font-family="Liberation Sans, sans-serif" font-size="13" fill="#111" stroke="#111" stroke-width="0.35" letter-spacing="0.32">0.9 percentile</text>
<text x="380.7" y="88.8" font-family="Liberation Sans, sans-serif" font-size="13" fill="#111" stroke="#111" stroke-width="0.35" letter-spacing="-0.07">scaled C-score</text>
<rect x="337.59999999999997" y="200.6" width="31.3" height="31.3" fill="#fefefe" stroke="#c8c8c8" stroke-width="1.4"/>
<circle cx="353.5" cy="216.2" r="6.3" fill="#f5736a"/>
<text x="378.6" y="205.2" font-family="Liberation Sans, sans-serif" font-size="13" fill="#111" stroke="#111" stroke-width="0.35" letter-spacing="0.14">Significantly associated</text>
<text x="378.6" y="222.2" font-family="Liberation Sans, sans-serif" font-size="13" fill="#111" stroke="#111" stroke-width="0.35" letter-spacing="0.09">with HRNR expression</text>
<text x="378.6" y="238.4" font-family="Liberation Sans, sans-serif" font-size="13" fill="#111" stroke="#111" stroke-width="0.35" letter-spacing="0.09">in sun exposed skin</text>
<rect x="335.59999999999997" y="331.8" width="31.3" height="31.3" fill="#fefefe" stroke="#c8c8c8" stroke-width="1.4"/>
<circle cx="351" cy="347.5" r="6.3" fill="#f5736a"/>
<text x="381" y="343.1" font-family="Liberation Sans, sans-serif" font-size="13" fill="#111" stroke="#111" stroke-width="0.35" letter-spacing="0.14">Significantly associated</text>
<text x="381" y="359.8" font-family="Liberation Sans, sans-serif" font-size="13" fill="#111" stroke="#111" stroke-width="0.35" letter-spacing="0.4">with microbiome</text>
<text x="93.5" y="432" font-family="Liberation Sans, sans-serif" font-size="15" fill="#111" stroke="#111" stroke-width="0.4">Chromosome locus on chr1</text>
</svg></body></html>
